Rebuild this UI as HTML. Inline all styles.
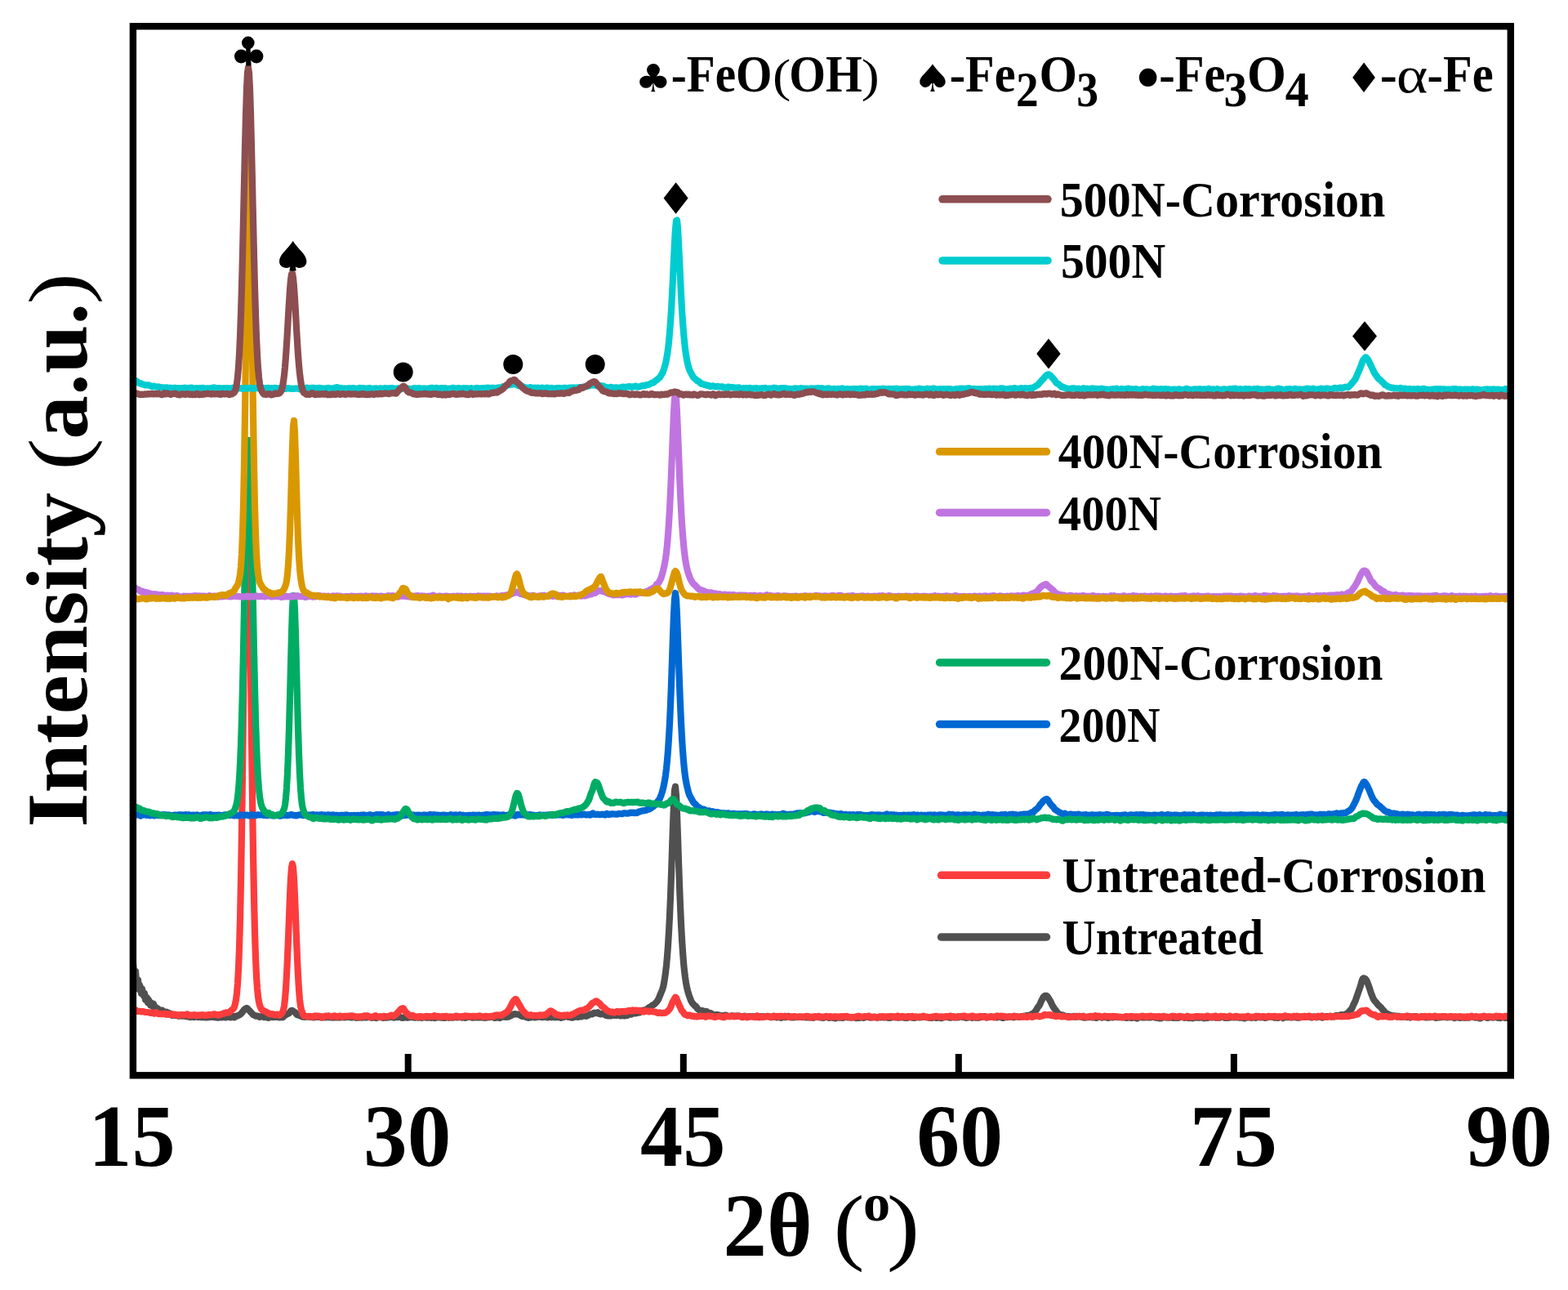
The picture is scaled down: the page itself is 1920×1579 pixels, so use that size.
<!DOCTYPE html>
<html><head><meta charset="utf-8"><title>XRD patterns</title>
<style>
html,body{margin:0;padding:0;background:#fff;width:1920px;height:1579px;overflow:hidden}
svg{display:block}
.tr path{fill:none;stroke-width:8.2;stroke-linejoin:round;stroke-linecap:round}
.lg line{stroke-width:9.5;stroke-linecap:round}
text{font-family:"Liberation Serif","Times New Roman",serif;font-weight:bold;fill:#000}
.sym{font-family:"DejaVu Sans",sans-serif;font-weight:normal}
</style></head><body>
<svg width="1920" height="1579" viewBox="0 0 1920 1579">
<rect width="1920" height="1579" fill="#fff"/>
<g class="tr"><path d="M163.0 1179.7l1 11 1 5.2 1-7 1 13.5 1-1.3 1-1.7 1 11.4 1-5.2 1 3.6 1 6.8 1-5.7 1 6.8 1 1.8 1-3.2 1 7.8 1-1.9 1-0.4 1 5.9 1-3.4 1 3 1 3.4 1-2.8 1 3.9 1-0.9 1-1.6 1 5 1-1.2 1 0.6 1 3.5 1-2.1 1 1.3 1 1.5 1-1 1 2.6 1-0.7 1-1.3 1 2.2 1-0.8 1 0.6 1 1.2 1-1.3 1 1.5 1 0.5 1-0.8 1 1.8 1-0.4 1-0.3 1 1.7 1-0.6 1 0.1 1 0.5 1-0.6 1 0.9 1 0.1 1-0.6 1 1.1 1-0.5 1-0.5 1 0.9 1-0.2 1 0.3 1-0.1 1-0.5 1 0.9 1 0.1 1 0 1 0.4 1-0.7 1 0.5 1 0.8 1-0.8 1 0.1 1 0.5 1-0.1 1 0.3 1-0.6 1-0.5 1 0.6 1 0.1 1 0.4 1-0.2 1-0.8 1 0.3 1 0.8 1 0 1-0.2 1 0 1 0.2 1 0.3 1 0 1-0.2 1-0.2 1 0 1 0 1-0.6 1 0.1 1 0.3 1-0.2 1 0.2 1 0.3 1 0.1 1 0.1 1 0.2 1 0.1 1-0.3 1-0.7 1 0 1 0.8 1-0.2 1-0.4 1 0.1 1 0.2 1 0.2 1-0.1 1-0.4 1 0 1 0 1-0.1 1 0.5 1 0 1-1.2 1-0.3 1 1.1 1 0.5 1-1.1 1-0.6 1 0.1 1-0.5 1-0.5 1-0.4 1-0.5 1-1 1-1 1-1.3 1-1.4 1-1.2 1-1 1-0.7 1-0.5 1 0.5 1 1.4 1 0.9 1 1 1 1.3 1 0.9 1 1 1 1.2 1 0.5 1 0.4 1 0.7 1 0.1 1-0.1 1 0.2 1 0.7 1 0.4 1-0.3 1-0.3 1-0.2 1 0.6 1 0.5 1-0.3 1-0.1 1 0.3 1 0.3 1 0.3 1 0.2 1-0.5 1-0.5 1 0 1 0.1 1 0.1 1 0 1-0.3 1-0.2 1 0.3 1-0.2 1-0.2 1 0.6 1 0.4 1-0.3 1-0.6 1 0.1 1 0.6 1-0.6 1-1.4 1-0.5 1-0.4 1-0.8 1-0.5 1-0.5 1-0.4 1-1.3 1-1.6 1-0.5 1 0.2 1 0.7 1 0.7 1 0.5 1 0.8 1 1.7 1 0.8 1 0 1 0.4 1 0.6 1 0.2 1 0.6 1 0.6 1-0.1 1 0 1 0.3 1-0.1 1 0 1 0 1 0 1-0.1 1 0.1 1 0.2 1 0.1 1 0.1 1 0.1 1 0.2 1-0.2 1-0.2 1-0.1 1-0.2 1 0.1 1 0.2 1-0.1 1 0 1 0.5 1 0.1 1-0.6 1-0.3 1 0.6 1 0.1 1-0.3 1 0.2 1-0.2 1-0.1 1 0.3 1 0.1 1-0.2 1 0.1 1 0.4 1-0.4 1-0.4 1 0.5 1 0.1 1 0 1-0.1 1 0 1 0 1 0 1 0.1 1-0.2 1-0.2 1 0.3 1 0.2 1-0.3 1 0 1 0 1-0.5 1 0 1 0.3 1-0.1 1 0.3 1 0.3 1 0 1-0.4 1 0 1-0.1 1 0.1 1 0.8 1-0.3 1-0.4 1 0.4 1-0.4 1-0.3 1 0.6 1 0.2 1-0.4 1 0 1 0.1 1-0.2 1 0.2 1 0 1-0.4 1-0.2 1 0.1 1 0.3 1 0.4 1 0.2 1-0.1 1-0.1 1-0.2 1-0.1 1 0.5 1 0.3 1-0.6 1-0.4 1 0.1 1-0.1 1 0 1 0.2 1 0.3 1 0.3 1-0.2 1 0 1 0 1 0 1 0 1-0.4 1-0.4 1 0.2 1 0 1-0.2 1 0 1 0.2 1 0.5 1-0.1 1-0.5 1-0.1 1 0.2 1 0 1-0.3 1 0.1 1 0.2 1 0.2 1 0.5 1 0.2 1-0.3 1-0.4 1-0.2 1 0.3 1 0.2 1 0.2 1-0.2 1-0.7 1 0 1 0.3 1 0 1-0.3 1 0.1 1 0.5 1 0.2 1-0.3 1-0.4 1 0.2 1 0.4 1-0.4 1-0.3 1 0.6 1 0.3 1-0.1 1-0.1 1-0.2 1-0.1 1 0 1 0.1 1 0.3 1 0 1-0.4 1-0.1 1 0.4 1 0.3 1-0.3 1-0.4 1 0.3 1 0.6 1-0.1 1-0.9 1 0 1 0.4 1-0.6 1-0.1 1 0.7 1 0.2 1-0.3 1 0.1 1 0.3 1 0.1 1-0.1 1-0.3 1-0.3 1-0.1 1 0.4 1 0.3 1-0.2 1-0.3 1 0.3 1 0.1 1-0.3 1-0.2 1-0.3 1-0.1 1 0.4 1 0.1 1-0.1 1 0 1-0.3 1-0.1 1 0.6 1 0.3 1-0.5 1 0.2 1 0.4 1 0 1-0.2 1-0.8 1-0.3 1 0.5 1 0 1-0.2 1 0.2 1 0.6 1 0.1 1-0.3 1 0.1 1 0 1-0.2 1 0 1 0 1 0.2 1-0.1 1 0 1 0.1 1-0.2 1 0 1 0.4 1 0.1 1-0.2 1 0.2 1-0.2 1-0.5 1 0 1 0.2 1-0.2 1-0.5 1-0.1 1 0.2 1 0.3 1 0.7 1 0.3 1-0.3 1-0.4 1-0.3 1 0.2 1 0.6 1 0.3 1-0.5 1-0.6 1-0.2 1-0.3 1-0.1 1 0.1 1 0.4 1 0.1 1-0.3 1 0 1-0.2 1-0.6 1-0.3 1-0.6 1-0.8 1-0.4 1-0.3 1-0.3 1 0 1 0.2 1 0.1 1 0.1 1 0.1 1 0.3 1 0.8 1 0.7 1 0.3 1 0.3 1 0.1 1-0.1 1 0.2 1 0.6 1 0.3 1 0.3 1 0.3 1-0.3 1 0 1 0 1-0.5 1-0.5 1 0 1 0.5 1 0.5 1-0.2 1-0.2 1-0.1 1-0.2 1-0.4 1 0.3 1 0.1 1 0.1 1 0.4 1-0.6 1-0.5 1 0.4 1 0.5 1-0.1 1 0.2 1 0.2 1-0.4 1-0.5 1 0.4 1 0.4 1-0.6 1-0.3 1 0.5 1 0.4 1 0 1-0.2 1-0.2 1 0.3 1-0.2 1-0.3 1 0.9 1 0.3 1-0.9 1 0 1 0.1 1-0.8 1-0.6 1 0.2 1 0.4 1 0.3 1 0.4 1-0.2 1-0.3 1 0.6 1 0.6 1-0.1 1-0.4 1-0.2 1-0.2 1-0.2 1 0 1 0.2 1 0.1 1-0.3 1-0.5 1 0.2 1 0.1 1-0.6 1-0.4 1-0.3 1 0 1 0.6 1 0.2 1-0.5 1-0.6 1-0.5 1-0.5 1-0.4 1 0.1 1-0.1 1-0.6 1-0.8 1-0.3 1 0.2 1 0.3 1-0.6 1-0.4 1 0.9 1 1 1 0.2 1 0 1-0.3 1-0.5 1 0.2 1 0.7 1 0.8 1 0.7 1 0.2 1 0.1 1 0.2 1-0.2 1 0 1 0.2 1-0.6 1-0.6 1 0.5 1 0.1 1-0.5 1 0.4 1 0.3 1-0.4 1-0.1 1 0.2 1 0.4 1 0.4 1-0.4 1-0.8 1 0.1 1 0.8 1 0.3 1-0.5 1-0.1 1 0 1-0.6 1-0.8 1-0.4 1 0.4 1 0.2 1-0.7 1-0.6 1-0.2 1 0.1 1 0.1 1-0.4 1-0.1 1-0.2 1-0.2 1-0.1 1-0.6 1-1 1-0.7 1-0.3 1-0.1 1 0.1 1 0.3 1-0.6 1-1.4 1-0.5 1-0.4 1-1.2 1-0.5 1-0.2 1-1 1-0.9 1-0.4 1-0.6 1-0.9 1-1 1-1.1 1-1.3 1-1.5 1-2.2 1-2.6 1-2.4 1-2.5 1-2.4 1-3.2 1-4.7 1-6.2 1-7.2 1-8.5 1-10.8 1-13.5 1-16.6 1-19.4 1-23.4 1-27.6 1-29.8 1-29.7 1-26 1-17.6 1-4.5 1 11 1 22.5 1 28.3 1 30.2 1 28.3 1 25.5 1 22.6 1 18.6 1 15.3 1 13 1 10.2 1 8 1 6.6 1 5.3 1 4.3 1 3.6 1 3 1 2.7 1 2.7 1 2.1 1 1.5 1 0.9 1 1.3 1 1 1 0.3 1 1.3 1 1.7 1 1 1 0.6 1 0.4 1 0.4 1 0.1 1-0.1 1 0.4 1 0.7 1 0.6 1-0.2 1-0.5 1 0.6 1 1.2 1 0.6 1 0 1-0.3 1 0.4 1 1 1 0.3 1 0.5 1 0.4 1-0.5 1-0.2 1 0 1 0 1 0.4 1 0.3 1 0.3 1 0.5 1 0.1 1-0.3 1-0.1 1-0.3 1-0.3 1 0.1 1 0.4 1 0.6 1 0.5 1-0.1 1-0.2 1-0.3 1-0.3 1 0 1 0.5 1 0 1-0.2 1 0 1-0.2 1 0.1 1 0.2 1-0.1 1 0.2 1 0.6 1 0.4 1-0.1 1-0.4 1-0.5 1-0.1 1 0.2 1 0.6 1 0.4 1-0.3 1-0.4 1 0 1 0 1-0.2 1 0.3 1 0.2 1-0.2 1 0 1 0.1 1-0.2 1 0.1 1 0.5 1 0.4 1-0.1 1-0.8 1-0.2 1 0.8 1 0.2 1-0.7 1-0.3 1 0.1 1-0.1 1-0.1 1-0.1 1 0.1 1 0 1 0.6 1 0.7 1-0.2 1-0.1 1-0.4 1-0.4 1 0.2 1 0.6 1 0.3 1 0 1-0.6 1-0.1 1 0.6 1 0.6 1-0.1 1-0.9 1-0.7 1 0.3 1 0.7 1 0 1-0.4 1-0.3 1-0.6 1 0.3 1 1 1 0.2 1-0.3 1-0.2 1 0.6 1 0.1 1-0.6 1-0.1 1 0.2 1 0.1 1 0 1-0.2 1-0.2 1 0.1 1 0 1 0.1 1 0.3 1 0 1-0.2 1 0.1 1 0.3 1-0.2 1-0.1 1 0.3 1 0 1-0.2 1-0.2 1-0.2 1 0.5 1 0.5 1-0.5 1-0.5 1 0 1 0.1 1 0 1 0.1 1 0 1 0.4 1 0.1 1 0.1 1 0.2 1 0.2 1-0.4 1-0.7 1-0.3 1-0.2 1 0.4 1 0.7 1 0.4 1-0.1 1-0.4 1-0.1 1 0.2 1 0.5 1-0.1 1 0.1 1 0.5 1-0.7 1-0.6 1 0.3 1 0.2 1-0.2 1-0.1 1 0.3 1 0.1 1 0.2 1-0.2 1-0.9 1-0.4 1 0.3 1 0.4 1 0.2 1-0.2 1-0.1 1 0.4 1 0.1 1-0.6 1 0 1 0.3 1-0.1 1 0.3 1 0.6 1 0.1 1-0.5 1-0.1 1 0.4 1-0.3 1-0.6 1-0.1 1 0.4 1 0.6 1-0.2 1-0.8 1-0.3 1 0.3 1-0.1 1-0.1 1 0.4 1 0.1 1 0.3 1-0.1 1-0.6 1-0.2 1 0 1 0.5 1 0.2 1-0.1 1 0.4 1-0.4 1-0.5 1 0.4 1 0.1 1-0.3 1-0.2 1 0.2 1 0.5 1 0 1-0.1 1 0 1-0.4 1 0.3 1 0.6 1-0.1 1 0 1-0.3 1-0.4 1 0 1 0.1 1-0.1 1-0.3 1-0.2 1 0.1 1 0.5 1 0.4 1-0.3 1-0.3 1 0.3 1-0.1 1-0.4 1 0.5 1 0.4 1 0.1 1 0 1 0.1 1-0.1 1-0.7 1-0.6 1 0.3 1 0.4 1 0.1 1 0.3 1 0.1 1 0.1 1 0 1-0.3 1-0.1 1-0.2 1-0.1 1 0.2 1 0.1 1-0.1 1-0.2 1-0.1 1 0 1 0 1 0 1 0 1 0.1 1-0.3 1 0.1 1 0.7 1 0.3 1-0.1 1 0.2 1 0 1-0.8 1-0.5 1 0.3 1 0.5 1 0.3 1 0.1 1-0.1 1-0.5 1-0.5 1 0.4 1 0.9 1 0.1 1-0.6 1-0.3 1-0.2 1 0 1-0.4 1-0.3 1 0.4 1 0.4 1 0.2 1 0.2 1 0.1 1-0.1 1-0.5 1-0.7 1 0.4 1 0.7 1-0.4 1 0 1 0.3 1-0.1 1-0.1 1-0.6 1-0.4 1 0 1 0.3 1 0.5 1 0.2 1 0 1 0.2 1 0.6 1-0.3 1-0.4 1 0.1 1-0.2 1-0.2 1 0.4 1 0.3 1 0.1 1-0.2 1-0.5 1 0.2 1 0.5 1-0.2 1-0.1 1 0.3 1-0.2 1-0.7 1-0.1 1 0.2 1-0.4 1-0.3 1 0 1-0.1 1 0.7 1 0.7 1-0.3 1-0.2 1 0.1 1-0.4 1-0.4 1 0.1 1 0.2 1 0.5 1-0.1 1-0.6 1 0.2 1 0.7 1 0 1-0.3 1-0.3 1 0.1 1-0.2 1 0.4 1 0.8 1 0.1 1-0.3 1-0.4 1-0.4 1 0 1 0.4 1-0.2 1-0.5 1-0.2 1 0.4 1 0.2 1-0.4 1 0.2 1 0.5 1-0.3 1-0.6 1-0.3 1 0.1 1 0.4 1 0.3 1-0.1 1 0 1-0.5 1-0.2 1 0.3 1-0.4 1-0.3 1 0.1 1-0.2 1-0.6 1 0 1 0 1-0.1 1-0.3 1-0.6 1-0.6 1-0.3 1-0.6 1-0.7 1-1 1-1.3 1-1.4 1-1.7 1-1.7 1-1.2 1-1.4 1-2.3 1-2.4 1-1.8 1-2 1-1.7 1-0.8 1-0.3 1 0 1 0.3 1 1.2 1 1.6 1 1.6 1 1.6 1 2 1 2.3 1 1.9 1 1.7 1 1.4 1 1.3 1 1.2 1 1.5 1 1.4 1 0.8 1 0.8 1 0.7 1 0.5 1-0.2 1 0 1 0.6 1 0.3 1 0 1 0.6 1 0.3 1 0 1-0.1 1 0.2 1 0.4 1 0.2 1-0.4 1-0.1 1 0 1-0.6 1 0.3 1 0.7 1-0.2 1-0.1 1-0.1 1-0.4 1-0.1 1 0.4 1 0.5 1-0.1 1 0.3 1 0.5 1 0.2 1-0.3 1 0.1 1 0 1-0.7 1-0.1 1 0.4 1-0.3 1 0 1 0.7 1 0 1-0.5 1-0.1 1 0.4 1 0.7 1-0.1 1-0.8 1-0.4 1-0.3 1 0.1 1 0.7 1 0.5 1-0.2 1-0.6 1-0.1 1 0.2 1 0.2 1 0.1 1 0.4 1 0.3 1-0.4 1-0.9 1-0.3 1 0.5 1 0.6 1-0.3 1-0.2 1 0 1-0.4 1 0.1 1 0.5 1 0 1 0 1 0 1-0.2 1-0.1 1 0.2 1 0.4 1-0.3 1-0.3 1 0.2 1 0.7 1 0.1 1-0.6 1-0.1 1 0.3 1 0.2 1 0.2 1 0.1 1-0.3 1-0.5 1-0.1 1 0.4 1 0.5 1 0.6 1-0.4 1-0.9 1-0.3 1-0.3 1 0 1 0.7 1 0.1 1-0.1 1 0.2 1-0.5 1-0.2 1 0.5 1 0.1 1-0.2 1 0.1 1 0 1-0.1 1-0.3 1-0.6 1 0.3 1 0.5 1 0.1 1 0.4 1 0.1 1-0.3 1 0.3 1 0.5 1 0 1 0.1 1 0 1-0.5 1-0.6 1-0.4 1 0 1 0.5 1 0.2 1 0 1-0.1 1 0 1 0.2 1-0.1 1-0.2 1 0 1 0.4 1 0.2 1-0.7 1 0.1 1 0.6 1-0.2 1-0.1 1 0.1 1-0.7 1-0.3 1 0.3 1-0.5 1-0.1 1 0.9 1 0.5 1-0.2 1-0.3 1-0.2 1 0.2 1 0.6 1 0.1 1-0.7 1-0.4 1 0.6 1 0.7 1-0.1 1-0.3 1-0.4 1-0.1 1 0.2 1 0.1 1-0.2 1 0.1 1 0.1 1-0.4 1-0.2 1 0.3 1 0.5 1 0.4 1-0.1 1-0.6 1-0.2 1 0.6 1-0.1 1-0.5 1-0.1 1 0 1 0.2 1 0 1-0.6 1-0.5 1 0.6 1 0.6 1 0 1-0.1 1 0.2 1 0 1 0 1-0.2 1-0.8 1-0.3 1 0 1-0.2 1 0.6 1 1.1 1 0.1 1-0.1 1 0.1 1-0.3 1-0.4 1 0 1 0.2 1-0.2 1-0.2 1 0.3 1 0.1 1-0.2 1-0.4 1 0.1 1 0.5 1 0 1-0.1 1 0.4 1-0.1 1-0.2 1 0.2 1 0.1 1 0.4 1 0.3 1-0.6 1-0.7 1 0 1 0.3 1-0.1 1-0.4 1 0.1 1 0.8 1-0.1 1-0.8 1 0.1 1 0.4 1 0.2 1 0.1 1-0.5 1-0.6 1-0.4 1 0.3 1 0.8 1 0 1-0.4 1-0.1 1 0 1 0.5 1 0.6 1-0.3 1-0.5 1 0.2 1-0.5 1-0.6 1 0.1 1 0.3 1 0.2 1-0.2 1-0.2 1 0.8 1 0.5 1-0.4 1-0.1 1 0.5 1 0.1 1-0.6 1-0.2 1-0.2 1-0.1 1 0.9 1 0.5 1-1 1-0.5 1 0.5 1-0.1 1-0.1 1 0.2 1 0 1 0 1 0.1 1 0.2 1 0 1-0.5 1-0.4 1 0.2 1 0.4 1 0.1 1 0.1 1 0.3 1 0.1 1-0.2 1-0.4 1-0.6 1-0.2 1 0.2 1 0.1 1 0.1 1-0.1 1-0.3 1-0.4 1 0.1 1 0.5 1-0.1 1-0.2 1 0.5 1 0.6 1-0.2 1-0.5 1-0.3 1 0.1 1 0.6 1 0.2 1-0.7 1-0.5 1 0.5 1-0.1 1-0.6 1 0.7 1 1 1-0.2 1-0.4 1 0 1-0.2 1-0.6 1-0.2 1 0.2 1 0 1-0.3 1-0.2 1 0.5 1 0.3 1-0.3 1 0.1 1 0 1-0.8 1-0.5 1 0 1 0 1 0 1 0 1-0.4 1-0.6 1 0.2 1 0.5 1-0.3 1-0.5 1-0.3 1-0.3 1-0.2 1-0.7 1-1.2 1-1.2 1-1.2 1-0.8 1-0.9 1-2.2 1-2.5 1-2 1-2 1-2.5 1-2.9 1-2.8 1-3 1-2.9 1-2.7 1-3.1 1-3.7 1-3.4 1-1.8 1-0.3 1 0.4 1 0.7 1 1.2 1 1.9 1 2.6 1 2.8 1 2.8 1 3.2 1 3 1 2.4 1 2.7 1 2.2 1 1.4 1 1.2 1 1.2 1 1.2 1 1.3 1 1.1 1 0.9 1 0.8 1 0.9 1 1.4 1 1.3 1 0.8 1 1.2 1 1.7 1 0.6 1 0.2 1 0.5 1 0.6 1 0.7 1 0.1 1 0.4 1 0.4 1 0.1 1 0.2 1-0.1 1 0.1 1 0.2 1 0.1 1 0.2 1-0.1 1 0 1 0.5 1 0.5 1 0.2 1-0.3 1-0.4 1 0.5 1 0.2 1-0.3 1 0.3 1 0.1 1-0.7 1-0.4 1 0.8 1 0.8 1-0.5 1-0.8 1 0 1 0 1 0.2 1-0.2 1-0.3 1 0.8 1 0.6 1-0.4 1 0 1 0 1-0.5 1-0.4 1 0.2 1 0.5 1 0.3 1 0.1 1 0.2 1 0.1 1-0.3 1-0.4 1 0.3 1 0.2 1-0.4 1-0.1 1 0.1 1-0.1 1-0.3 1 0.4 1 1.1 1-0.2 1-0.7 1 0.1 1 0.2 1-0.1 1-0.1 1-0.2 1 0 1 0 1-0.4 1-0.3 1 0.6 1 0.5 1-0.1 1-0.3 1 0.2 1-0.1 1-0.8 1 0 1 0.6 1 0.3 1 0.6 1 0.3 1-0.8 1-0.4 1 0.4 1 0 1-0.1 1 0.5 1 0.3 1-0.4 1-0.2 1 0.3 1-0.1 1-0.2 1 0.4 1-0.1 1-0.4 1 0 1 0.3 1 0.1 1-0.7 1-0.5 1 0.2 1 0 1 0.1 1 0.4 1 0.3 1 0.1 1-0.3 1-0.1 1 0.3 1 0.7 1 0.3 1-0.3 1-0.3 1-0.7 1-0.7 1-0.1 1 0 1 0.3 1 0.6 1 0.6 1 0 1-0.3 1-0.4 1-0.1 1 0.2 1 0.2 1 0.1 1-0.1 1-0.4 1-0.6 1 0 1 0.7 1 0.6 1-0.1 1 0.1 1 0.3 1-0.4 1-0.4 1-0.2 1-0.1 1 0.5 1 0.5 1-0.1 1 0 1 0.2 1 0 1-0.5 1-0.2" stroke="#505050"/>
<path d="M163.0 1236.3l1 0 1-0.2 1 0.2 1 1.2 1 0.4 1-0.2 1 0.2 1 0 1 0.1 1 0.3 1-0.1 1-0.1 1 0.2 1 0.4 1 0.2 1 0.1 1 0 1 0 1 0.2 1 0.4 1 0.2 1 0.1 1-0.1 1-0.1 1 0.7 1 0.3 1-1 1-0.6 1 0.6 1 0.8 1 0.4 1 0.3 1 0 1-0.1 1-0.1 1 0.1 1 0 1-0.3 1 0.1 1 0.7 1 0.3 1-0.7 1-0.4 1 0.5 1 0.5 1 0.1 1-0.1 1-0.3 1 0.5 1 0.2 1-0.6 1 0.4 1 0.4 1 0 1 0.4 1 0.4 1-0.6 1-0.6 1 0 1 0.3 1 0 1-0.1 1 0.2 1 0 1-0.5 1-0.6 1 0.2 1 1 1 0.5 1 0 1-0.3 1-0.3 1 0.2 1-0.2 1-0.4 1 0.4 1 0.7 1 0 1-0.3 1-0.3 1 0 1 0.3 1-0.2 1-0.3 1-0.1 1 0.1 1 0.4 1 0.1 1-0.1 1 0 1-0.2 1-0.3 1-0.1 1 0 1 0.1 1-0.2 1-0.2 1-0.1 1-0.3 1-0.1 1 0.4 1 0.4 1 0.2 1 0.2 1 0.1 1-0.7 1-0.4 1 0.1 1-0.5 1-0.3 1-0.3 1-0.5 1-0.3 1 0.1 1-0.3 1-0.4 1 0.2 1-0.4 1-1.1 1-0.9 1-0.7 1-0.8 1-1.1 1-2 1-3.6 1-5 1-7.8 1-11.9 1-17.6 1-25.5 1-35.5 1-47.6 1-60.1 1-70.6 1-77.9 1-80.1 1-75.2 1-61.5 1-38.6 1-9.3 1 21.6 1 48.5 1 67.5 1 78 1 80.5 1 76 1 66.8 1 55 1 42.5 1 31.4 1 22.4 1 15.1 1 9.9 1 6.6 1 4.1 1 2.8 1 2 1 1.2 1 0.4 1 0.2 1 0.7 1 0.5 1 0.4 1 0.9 1 0.5 1 0.3 1 0.7 1 0.3 1-0.2 1-0.1 1 0.5 1 0.2 1 0 1 0.6 1-0.2 1-0.5 1 0.2 1 0.3 1 0.6 1-0.2 1-1.1 1-1 1-1.4 1-2.8 1-4.9 1-8.5 1-12.4 1-16.8 1-21.2 1-24 1-25.8 1-25.7 1-21.4 1-13.6 1-4.6 1 4.4 1 14 1 21.4 1 25.1 1 26.4 1 24.8 1 21 1 16.6 1 12.4 1 8 1 4.5 1 3.1 1 2.7 1 1.6 1 0.4 1 0 1 0.2 1 0.2 1 0.1 1-0.3 1-0.1 1 0.6 1 0 1-0.2 1 0.5 1-0.1 1-1 1-0.2 1 0.6 1 0.2 1-0.6 1-0.1 1 0.5 1 0 1 0.3 1 1.1 1 0.1 1-0.8 1-0.5 1-0.3 1-0.4 1 0.1 1 0.1 1-0.4 1 0.2 1 0.6 1 0.2 1 0.1 1 0 1-0.6 1-0.5 1 0 1 0.6 1 0.5 1 0 1-0.2 1-0.4 1-0.1 1-0.1 1 0.4 1 0.8 1-0.1 1-0.7 1-0.2 1 0 1 0 1 0.1 1-0.1 1-0.1 1 0 1 0 1-0.3 1-0.1 1 0.2 1 0.3 1 0.2 1 0.5 1 0.4 1-0.1 1-0.4 1 0 1 0 1 0.3 1-0.2 1-0.5 1 0.4 1-0.2 1-0.9 1 0.1 1 0.2 1-0.3 1 0.1 1 0.4 1 0.5 1 0.6 1 0.3 1-0.4 1-0.2 1-0.1 1-0.4 1-0.6 1-0.3 1 0.6 1 0.8 1 0.4 1-0.2 1-0.5 1-0.1 1 0.6 1 0 1-0.6 1-0.4 1 0.2 1 0.5 1-0.1 1-0.3 1 0.1 1-0.1 1-0.5 1-0.5 1-0.4 1 0.1 1 0.9 1 0 1-1.1 1-0.4 1-0.5 1-1.1 1-1.1 1-1 1-1.1 1-1.3 1-1.1 1-0.4 1-0.5 1 0.3 1 1.5 1 1.8 1 1.3 1 0.9 1 0.8 1 1.1 1 0.9 1 0.7 1 0.5 1-0.4 1-0.6 1 0.3 1 0.7 1 0.4 1 0.1 1 0.2 1 0.3 1-0.2 1-0.5 1 0.1 1 0 1-0.1 1 0.5 1 0.3 1-0.3 1-0.3 1-0.3 1-0.2 1 0.1 1 0.1 1 0 1 0 1 0.4 1 0 1-0.3 1-0.2 1-0.6 1-0.2 1 0.7 1 0.4 1-0.1 1-0.4 1 0.2 1 0.5 1 0.2 1-0.1 1-0.3 1-0.3 1 0 1 0.2 1 0.1 1-0.4 1 0 1 0.8 1 0.4 1-0.3 1-0.4 1 0 1 0.3 1 0.3 1 0.1 1-0.6 1-0.6 1-0.2 1-0.1 1 0.3 1 0.7 1 0 1-0.3 1 0.4 1-0.2 1-0.5 1 0.2 1 0 1-0.6 1-0.2 1 0.6 1-0.1 1-0.4 1 0.6 1 0.4 1-0.3 1-0.1 1-0.1 1-0.2 1 0.4 1 0.1 1-0.4 1 0.1 1 0.1 1-0.2 1-0.3 1-0.2 1 0.2 1 0.4 1 0 1 0.4 1 0.5 1-0.5 1-0.5 1 0 1 0.1 1 0.3 1-0.1 1 0.3 1-0.2 1-0.4 1 0 1 0.3 1 0.3 1-0.7 1-0.9 1-0.4 1 0.1 1 0.2 1-0.2 1-0.1 1 0.1 1 0.4 1-0.1 1-0.9 1-0.5 1-0.5 1-0.8 1-0.6 1-0.4 1-0.6 1-1.3 1-1.6 1-1.3 1-1.9 1-2.1 1-2 1-2 1-1.3 1-1.1 1-0.9 1 0.2 1 1.5 1 1.9 1 1.9 1 1.4 1 1.6 1 1.9 1 1.8 1 1.6 1 1 1 1.1 1 1.1 1 0.9 1 0.8 1 0.6 1 0.3 1-0.1 1-0.2 1-0.2 1 0.2 1 0.5 1 0.3 1-0.2 1-0.1 1 0.2 1-0.1 1-0.1 1 0.3 1-0.2 1-0.7 1 0.2 1 0.5 1-0.2 1-0.4 1 0.1 1 0 1-0.5 1-0.5 1-0.7 1-1.1 1-0.8 1-0.8 1-0.7 1 0.1 1 0.8 1 0.5 1 0.4 1 1 1 1.5 1 0.5 1-0.1 1-0.1 1 0.2 1 0.6 1 0.2 1-0.1 1 0.5 1 0 1-0.6 1-0.2 1 0.2 1 0 1-0.3 1-0.2 1 0.5 1 0.1 1-0.1 1-0.3 1-0.7 1-0.3 1-0.1 1-0.5 1-0.8 1-0.6 1-0.4 1-0.6 1-0.7 1-0.5 1-0.1 1-0.3 1-0.3 1 0 1 0.2 1 0 1-0.9 1-1 1-0.3 1-0.4 1-0.6 1-1 1-1 1-1 1-1.2 1-1.3 1-0.7 1-0.3 1-0.5 1-0.8 1-0.4 1 0.4 1 0.8 1 0.9 1 0.6 1 1 1 1.5 1 1.1 1 0.6 1 0.7 1 0.7 1 0.9 1 1 1 0.8 1 0.7 1 0.5 1 0.6 1 0.5 1 0.1 1-0.3 1 0.1 1 0.8 1 0.2 1-0.4 1-0.4 1-0.6 1-0.3 1 0.7 1 0.3 1-0.6 1-0.1 1 0.2 1-0.5 1 0.1 1 0.2 1-0.3 1 0.3 1 0.2 1-0.8 1-0.5 1 0 1-0.3 1 0.1 1 0.6 1-0.3 1-0.8 1 0.2 1 0.5 1-0.1 1-0.5 1 0.2 1 0.4 1 0.2 1-0.4 1-0.1 1 0.7 1 0.4 1 0.5 1 0.2 1-0.9 1-0.5 1 0.5 1 0 1-0.2 1 0.3 1 0.6 1-0.3 1-0.4 1 0.1 1 0.3 1 0.4 1 0 1 0.1 1 0.4 1 0.2 1 0.5 1 0.3 1-0.4 1-0.2 1 0.5 1 0.2 1-0.1 1-0.1 1-0.1 1 0.1 1-0.3 1-0.8 1-0.7 1-0.7 1-1.2 1-1.3 1-1.6 1-2.5 1-2.8 1-2.2 1-1.6 1-1.9 1-1.6 1 0.7 1 2.5 1 2.4 1 2.3 1 2.4 1 2 1 2.4 1 1.9 1 0.9 1 1.3 1 1.7 1 0.7 1 0.1 1 0.6 1 0.6 1-0.4 1-0.3 1 0.3 1 0.6 1 0.4 1-0.2 1 0.1 1 0.6 1-0.3 1 0 1 0.3 1 0 1-0.1 1 0 1-0.4 1-0.3 1 0.2 1 0.2 1 0.1 1 0 1 0.2 1 0.6 1-0.2 1-0.9 1 0 1-0.2 1-0.2 1 0.5 1 0.2 1-0.1 1 0.3 1 0.6 1 0.2 1-0.3 1-0.1 1-0.2 1-0.2 1-0.1 1 0 1 0.1 1 0.3 1 0.2 1 0.1 1 0.5 1-0.2 1-1 1-0.2 1 0.2 1-0.2 1-0.1 1 0.3 1 0.1 1-0.1 1 0 1-0.4 1-0.1 1 0.7 1 0 1-0.2 1 0.1 1-0.4 1-0.1 1 0.3 1-0.1 1 0.2 1 0.5 1 0.5 1 0 1-0.6 1-0.4 1 0.2 1 0.7 1 0.3 1-0.5 1-0.3 1 0.1 1-0.2 1-0.2 1 0.2 1 0.2 1 0.2 1 0.2 1 0.1 1-0.7 1-1 1 0.1 1 0.7 1 0.6 1 0.4 1-0.4 1-0.3 1 0.4 1 0 1-0.3 1-0.2 1-0.4 1 0.1 1 0.4 1-0.2 1 0.3 1 0.4 1 0 1 0 1-0.6 1-0.8 1 0 1 0.6 1 0.3 1-0.4 1-0.2 1 0.5 1 0.2 1-0.7 1-0.1 1 0.3 1-0.2 1 0.2 1 0 1-0.4 1 0.2 1 0.2 1 0.3 1 0.5 1 0.1 1-0.3 1-0.3 1-0.1 1 0.2 1 0 1-0.4 1 0.2 1 0.1 1 0 1 0.3 1 0.2 1-0.3 1-0.2 1 0.1 1 0 1-0.1 1 0.2 1 0.2 1-0.1 1-0.4 1-0.3 1-0.1 1 0 1 0.3 1 0.3 1 0.8 1 0.4 1-0.6 1-0.2 1-0.2 1-0.5 1 0 1 0.6 1 0.3 1-0.5 1-0.8 1 0 1 0.6 1 0.6 1-0.1 1-0.1 1 0.1 1-0.3 1-0.2 1-0.3 1-0.2 1 0.5 1 0.5 1-0.2 1-0.6 1 0 1 0.6 1 0.3 1-0.1 1-0.5 1-0.1 1 0 1 0.1 1 0 1 0.4 1 0.3 1-0.5 1-0.5 1 0.5 1 0 1-0.6 1 0 1 0.4 1 0.2 1-0.5 1-0.2 1 0.4 1 0.7 1 0.1 1-0.2 1 0.5 1 0.2 1-0.4 1-0.1 1-0.1 1-0.3 1-0.3 1-0.2 1-0.3 1-0.2 1 0.3 1 0.3 1 0.5 1 0.2 1-0.4 1-0.1 1-0.2 1-0.3 1 0.3 1 0.2 1-0.2 1-0.6 1-0.2 1 0.6 1 0.7 1 0.4 1 0.2 1-0.2 1-0.1 1-0.2 1-0.2 1 0.1 1 0.6 1 0.2 1-0.8 1-0.5 1 0.3 1-0.2 1-0.1 1-0.1 1 0.1 1 0.6 1-0.1 1-0.4 1-0.1 1 0.1 1 0.2 1-0.3 1-0.3 1 0 1 0.3 1 0 1-0.1 1 0.2 1 0.6 1 0.5 1-0.8 1-1.2 1 0.2 1 0.6 1 0.5 1 0.4 1-0.6 1-0.7 1 0.3 1 0.4 1 0.3 1-0.1 1-0.3 1-0.1 1-0.3 1 0.2 1 0.7 1 0.2 1-0.9 1-0.4 1 0.4 1 0.3 1 0.2 1-0.4 1-0.1 1 0.5 1 0.1 1-0.3 1-0.2 1 0.3 1 0 1-0.2 1-0.5 1-0.3 1 0.4 1 0.7 1 0.3 1-0.1 1-0.1 1 0.5 1 0.1 1-0.5 1-0.2 1-0.1 1-0.2 1 0 1 0.1 1-0.6 1-0.2 1 0.2 1 0.2 1 0.5 1 0.1 1-0.3 1 0 1-0.1 1 0 1 0.4 1 0.3 1-0.5 1-0.6 1 0.2 1 0.2 1-0.4 1 0 1-0.2 1-0.3 1 0.6 1 0.7 1-0.2 1-0.3 1 0.4 1 0.4 1 0 1-0.6 1-0.3 1 0.2 1 0.1 1 0 1-0.2 1-0.4 1-0.2 1 0.1 1-0.1 1 0.1 1 0.4 1 0.5 1 0 1-0.4 1 0.2 1 0.3 1-0.5 1-0.8 1 0.1 1 0.9 1 0.5 1-0.5 1-0.1 1 0.6 1 0.1 1-0.5 1-0.6 1-0.1 1 0.2 1 0 1 0.4 1 0.4 1 0 1 0.1 1-0.3 1 0 1 0.2 1-0.3 1 0 1 0.3 1-0.1 1-0.4 1 0 1 0.5 1 0.4 1-0.4 1-0.7 1-0.4 1-0.3 1 0.1 1 0.6 1 0.1 1-0.5 1-0.1 1 0.3 1 0 1-0.1 1 0.4 1 0.2 1 0.1 1 0 1 0 1 0 1-0.2 1 0.2 1 0.1 1-0.2 1-0.2 1-0.5 1-0.2 1 0.4 1 0.2 1 0.3 1 0.1 1 0.1 1 0 1-0.1 1-0.2 1-0.2 1 0.3 1 0.2 1-0.6 1 0.1 1 0.6 1 0.2 1 0 1-0.4 1-0.6 1-0.2 1 0.2 1 0.7 1 0.2 1-0.4 1-0.2 1-0.4 1-0.4 1 0 1-0.1 1 0.2 1 0.4 1 0.3 1-0.1 1-0.5 1-0.2 1 0 1-0.7 1-1 1 0.3 1 0.4 1-0.2 1 0.2 1 0 1-0.5 1 0.3 1 0.6 1-0.1 1-0.1 1 0.4 1 0.4 1 0.4 1 0.1 1-0.2 1 0 1-0.1 1-0.2 1 0 1 0.5 1 0.5 1 0 1-0.3 1-0.2 1 0.2 1 0 1 0.1 1 0.5 1 0.3 1 0.2 1-0.2 1-0.6 1 0.1 1 0.1 1 0 1-0.1 1-0.4 1-0.2 1-0.1 1-0.1 1 0.3 1 0.4 1 0 1-0.1 1 0 1-0.2 1-0.5 1 0.1 1 0.5 1 0.4 1 0.2 1-0.1 1-0.1 1-0.2 1-0.3 1-0.3 1 0 1 1 1 0.2 1-0.8 1-0.7 1-0.4 1 0.3 1 0.6 1 0 1-0.4 1 0.1 1 0.3 1 0.4 1 0.2 1-0.3 1 0 1-0.4 1-0.3 1 0.4 1 0.4 1-0.2 1-0.3 1 0.2 1 0.1 1 0.3 1 0 1-0.8 1 0 1 0.5 1-0.3 1 0 1 0.4 1 0.2 1 0.1 1-0.1 1 0 1 0.5 1 0.2 1-0.3 1 0.1 1 0 1-0.4 1-0.3 1-0.4 1 0.1 1 0.3 1 0.2 1 0 1-0.5 1-0.2 1 0.2 1 0.3 1 0.2 1-0.3 1 0.1 1-0.1 1 0 1 0.3 1 0 1 0 1-0.1 1-0.2 1-0.4 1-0.3 1 0.3 1 0.5 1-0.2 1-0.1 1 0.5 1-0.1 1-0.6 1 0 1 0.2 1-0.4 1 0.1 1 0.4 1 0.1 1 0.1 1 0 1-0.3 1 0.4 1 0.3 1-0.6 1-0.2 1 0.3 1 0.1 1 0.3 1 0.1 1-0.6 1-0.4 1 0.8 1 0.3 1-0.3 1 0.2 1 0.1 1 0.2 1 0.1 1-0.6 1-0.5 1-0.1 1-0.2 1 0 1 0.1 1 0.3 1 0.7 1-0.1 1-0.3 1-0.1 1-0.5 1 0 1 0.6 1 0.4 1 0.1 1-0.1 1 0.2 1 0.1 1-0.3 1-0.8 1-0.5 1 0.5 1 0.6 1 0.1 1 0.1 1 0 1 0 1-0.2 1-0.2 1 0 1-0.2 1-0.3 1 0 1 0.1 1 0.1 1 0.2 1-0.1 1 0 1 0 1 0 1 0.4 1 0.1 1-0.1 1-0.5 1-0.6 1 0.1 1 0.7 1 0.5 1-0.2 1-0.4 1 0.2 1 0.7 1-0.4 1-0.9 1-0.3 1 0.2 1 1.1 1 0.8 1-0.4 1-0.7 1-0.6 1-0.1 1 0.4 1-0.1 1-0.1 1 0 1 0.3 1 0.6 1 0.2 1-0.4 1-0.5 1-0.5 1-0.2 1 0.4 1 0.6 1 0.3 1 0 1-0.2 1-0.5 1-0.3 1 0 1 0.3 1 0.7 1-0.1 1-0.1 1 0.3 1-0.2 1-0.3 1 0.1 1-0.1 1 0 1 0.3 1 0 1-0.9 1-0.2 1 0.9 1 0.3 1-0.2 1 0.1 1 0.5 1-0.1 1-0.7 1-0.1 1-0.3 1-0.4 1 0.5 1 0.2 1-0.6 1 0.2 1 0.7 1 0 1-0.3 1-0.4 1 0 1 0.4 1 0.1 1 0.3 1 0.2 1-0.5 1-0.7 1 0 1 0.7 1 0.2 1-0.4 1-0.2 1 0.1 1-0.2 1-0.1 1 0.4 1 0.5 1-0.1 1-0.3 1-0.1 1-0.1 1 0.4 1 0.3 1-0.6 1-0.1 1 0.1 1-0.8 1-0.2 1 0.7 1 0.2 1-0.2 1 0.2 1 0.1 1 0.1 1 0.5 1 0.2 1-0.4 1-0.8 1-0.1 1 0.6 1-0.2 1-0.5 1 0.7 1 0.5 1-0.5 1-0.1 1 0.8 1 0 1-0.3 1-0.4 1-0.6 1 0.1 1 0.8 1 0.3 1-0.5 1-0.7 1-0.2 1 0.2 1 0.4 1 0.2 1 0.3 1 0.4 1-0.1 1-0.1 1 0.2 1-0.4 1-0.7 1-0.2 1 0.3 1 0.3 1 0.1 1-0.6 1-0.5 1 0.8 1 0.5 1-0.2 1-0.1 1 0.3 1 0.3 1-0.3 1-0.5 1-0.4 1 0.1 1 0.8 1 0.1 1-0.5 1 0.1 1 0 1-0.3 1 0.1 1 0 1-0.4 1 0 1 0.3 1 0 1 0 1 0.2 1-0.1 1-0.3 1 0 1 0.3 1 0 1-0.5 1 0 1 0.4 1-0.3 1-0.3 1 0 1-0.2 1-0.3 1-0.1 1-0.3 1-0.5 1-0.1 1-0.2 1-0.3 1-0.3 1-1 1-1.1 1-0.8 1-0.9 1-0.2 1 0.2 1-0.3 1-0.1 1-0.2 1-0.1 1 0.5 1 1 1 0.7 1 0.8 1 0.8 1 0.6 1 0.4 1 0.4 1 0.3 1-0.2 1 0.2 1 1.2 1 1 1 0.3 1 0.1 1-0.6 1-0.7 1 0.1 1 0.6 1 0.1 1-0.1 1 0 1-0.1 1 0.1 1 0 1 0.2 1 0.3 1 0 1 0.3 1-0.1 1-0.2 1 0.1 1-0.5 1-0.1 1 0 1-0.3 1 0.6 1 0.4 1-0.3 1-0.1 1 0 1 0 1 0.2 1-0.2 1-0.1 1 0.3 1 0.3 1-0.3 1-1 1-0.3 1 0.6 1 0.2 1-0.1 1 0.4 1 0.3 1 0.2 1-0.1 1-0.5 1 0.2 1 0.7 1-0.5 1-0.6 1 0.3 1 0.8 1 0.2 1-0.2 1-0.5 1-0.6 1 0.2 1 0.3 1-0.4 1-0.4 1 0.1 1 0.6 1 0.2 1-0.4 1-0.6 1 0.3 1 0.7 1-0.2 1-0.3 1 0.3 1-0.2 1-0.7 1 0.1 1 0.5 1 0.2 1 0 1-0.2 1 0 1 0.1 1-0.3 1-0.1 1 0.1 1 0.3 1-0.1 1-0.1 1 0.1 1 0.2 1 0.1 1-0.2 1-0.1 1 0 1-0.1 1 0.1 1 0.1 1 0.3 1-0.1 1-0.5 1 0.3 1 0.2 1-0.2 1 0 1 0 1-0.2 1 0.1 1 0.4 1 0.3 1-0.3 1 0 1 0.7 1 0.1 1-0.8 1-0.5 1 0.2 1 0.4 1 0 1-0.8 1-0.3 1 0.6 1 0.3 1 0 1-0.1 1-0.3 1 0 1 0.2 1 0.4 1 0.2 1-0.5 1-0.1 1 0.5 1 0 1-0.7 1-0.6 1 0.3 1 0.6 1 0.1 1-0.2 1 0 1-0.2 1 0.1 1 0.2 1 0 1 0.1 1 0.4 1-0.1 1-0.5 1-0.4 1-0.3 1 0.1 1 0.4 1-0.2 1-0.2 1 0.4 1 0 1 0.1 1 0.3 1 0.1 1-0.5 1-0.4 1 0.4 1-0.1 1-0.6 1 0.2 1 0.9 1 0.1" stroke="#FC3C3C"/>
<path d="M163.0 998.0l1-0.6 1 0 1 0.2 1-0.1 1-0.2 1-0.2 1 0.2 1 0.7 1 0.7 1-0.4 1-0.6 1-0.2 1-0.1 1-0.1 1 0.3 1 0.2 1 0.1 1 0.1 1-0.1 1 0.1 1 0.3 1-0.2 1-0.4 1 0 1 0.5 1 0.2 1-0.4 1-0.2 1 0.1 1-0.3 1 0.1 1 0.4 1 0 1-0.1 1-0.4 1-0.4 1 0.3 1-0.1 1-0.2 1 0.5 1 0.3 1-0.4 1-0.2 1 0.2 1 0.4 1 0.3 1-0.1 1-0.1 1 0 1-0.4 1-0.1 1 0.3 1 0.1 1-0.3 1-0.2 1-0.1 1-0.2 1 0.5 1 0.1 1-0.4 1 0 1 0.2 1 0 1-0.5 1 0.2 1 0.7 1-0.1 1-0.7 1 0.2 1 0.3 1 0.2 1 0.1 1-0.3 1-0.2 1 0.2 1 0.3 1-0.1 1-0.5 1 0.1 1 0.6 1 0.3 1-0.1 1 0 1-0.3 1-0.5 1-0.2 1 0.3 1 0.2 1-0.3 1-0.2 1 0.3 1 0.3 1-0.1 1-0.6 1-0.1 1 0.6 1 0.5 1 0 1-0.3 1-0.1 1 0 1 0.1 1 0 1-0.2 1 0 1 0.1 1 0.2 1 0.3 1 0.5 1 0 1-0.7 1-0.8 1 0 1 0.3 1-0.1 1-0.2 1 0.6 1 0.2 1-0.7 1-0.2 1 0.2 1 0.4 1 0.5 1 0.2 1-0.4 1-0.1 1 0.2 1 0.2 1 0.1 1-0.4 1-0.5 1-0.2 1 0.3 1 0.5 1-0.1 1-0.4 1 0 1 0 1-0.2 1 0 1 0.6 1 0.4 1-0.5 1-0.6 1-0.3 1 0.2 1 0.6 1 0.2 1-0.2 1 0 1 0 1-0.3 1-0.3 1 0.1 1 0.2 1-0.1 1-0.1 1 0 1 0.3 1 0.2 1-0.2 1 0.1 1 0.3 1 0.2 1-0.2 1-0.6 1 0.1 1 0.2 1 0.1 1 0.3 1 0.2 1-0.1 1-0.1 1 0 1-0.3 1-0.1 1 0.1 1 0.1 1 0.5 1 0.2 1-0.1 1-0.6 1-0.3 1 0.2 1 0 1-0.1 1 0 1 0.3 1 0 1-0.1 1-0.1 1-0.3 1-0.3 1-0.1 1 0.1 1 0.5 1 0.3 1 0 1 0.1 1 0.2 1-0.3 1-0.3 1-0.3 1-0.2 1 0.2 1-0.1 1 0.3 1 0.3 1 0.1 1-0.3 1-0.2 1 0.1 1-0.1 1 0 1 0.1 1 0 1-0.1 1-0.2 1-0.1 1-0.2 1 0.1 1 0.3 1 0.6 1-0.1 1-0.6 1 0.1 1 0.1 1-0.1 1 0.2 1-0.3 1-0.3 1 0.3 1 0.3 1-0.1 1-0.1 1 0.4 1 0 1-0.5 1 0 1 0.1 1 0.3 1 0.4 1-0.3 1-0.5 1 0 1 0.6 1 0.4 1-0.3 1-0.3 1 0.1 1 0.3 1 0.1 1-0.3 1-0.1 1 0.1 1-0.2 1 0 1 0.3 1-0.1 1-0.4 1-0.2 1 0.1 1 0.5 1 0.2 1 0.1 1 0 1-0.2 1-0.1 1 0.1 1-0.1 1-0.1 1 0.2 1 0.2 1-0.3 1-0.2 1 0.4 1 0.2 1-0.4 1-0.3 1 0.2 1-0.1 1-0.4 1 0.4 1 0.2 1-0.1 1 0.2 1-0.1 1-0.3 1-0.2 1-0.3 1 0.4 1 0.5 1-0.1 1 0.1 1 0 1-0.1 1-0.4 1-0.6 1 0.3 1 0.2 1-0.3 1 0 1 0.3 1-0.2 1-0.3 1 0.4 1 0.4 1 0.1 1 0.3 1 0.1 1-0.5 1-0.6 1 0 1 0.5 1 0.3 1 0 1-0.1 1-0.2 1 0 1-0.1 1-0.2 1-0.3 1-0.1 1 0.2 1 0 1 0.2 1 0.4 1 0.4 1 0.5 1-0.4 1-0.5 1 0.1 1-0.1 1-0.1 1 0.1 1-0.6 1-0.4 1 0.6 1 0.5 1 0.1 1-0.4 1-0.1 1 0.3 1-0.1 1 0.1 1 0.4 1-0.2 1-0.3 1 0.2 1 0 1-0.2 1 0.2 1 0.4 1 0.1 1-0.6 1-0.3 1 0.2 1 0 1 0.1 1 0.2 1 0 1-0.3 1-0.5 1-0.4 1 0.5 1 0.6 1-0.3 1-0.4 1 0.1 1 0.4 1 0 1-0.2 1 0.3 1 0.2 1-0.1 1 0 1 0.3 1-0.1 1-0.5 1-0.1 1 0.2 1 0.2 1 0 1 0.2 1 0.1 1 0.1 1-0.2 1-0.6 1-0.4 1 0.5 1 0.4 1-0.1 1-0.1 1-0.2 1-0.2 1 0.1 1 0.5 1-0.1 1-0.5 1-0.2 1 0.4 1 0.6 1-0.3 1-0.2 1 0.5 1 0.3 1-0.2 1-0.1 1 0 1-0.1 1-0.2 1-0.1 1 0.2 1 0.3 1-0.3 1-0.5 1 0.2 1 0.3 1-0.2 1 0.1 1 0.1 1-0.1 1-0.3 1 0.1 1 0.4 1 0.1 1-0.3 1-0.2 1 0.2 1-0.1 1-0.5 1-0.2 1 0.2 1-0.1 1 0.1 1 0.3 1 0 1-0.1 1-0.1 1-0.1 1 0 1-0.3 1 0.1 1 0.5 1-0.1 1-0.2 1 0.1 1 0.3 1 0 1 0.1 1 0 1-0.3 1-0.2 1 0.3 1 0.4 1 0.3 1-0.2 1-0.3 1-0.1 1 0.1 1-0.1 1 0.2 1-0.1 1-0.3 1-0.1 1 0.4 1 0.7 1 0.1 1-0.7 1-0.7 1-0.3 1 0.4 1 0.1 1 0 1 0 1-0.2 1 0.1 1 0.1 1-0.1 1 0.5 1 0 1-0.7 1-0.1 1 0.5 1-0.1 1-0.3 1 0.1 1 0.2 1 0.2 1 0.2 1 0.2 1 0.3 1 0 1-0.2 1 0 1 0.1 1-0.5 1-0.3 1 0.2 1 0.3 1 0.1 1-0.2 1-0.1 1 0.2 1 0.1 1-0.3 1-0.2 1-0.1 1 0 1 0 1 0.1 1 0.3 1 0.2 1-0.4 1-0.3 1 0.2 1-0.1 1-0.4 1 0 1 0.4 1 0.1 1-0.1 1-0.3 1 0 1 0.5 1 0.3 1-0.2 1-0.2 1-0.1 1-0.3 1 0 1 0.1 1 0.2 1-0.2 1-0.1 1 0.6 1 0.2 1-0.4 1-0.1 1 0.1 1-0.2 1-0.1 1 0.2 1 0.1 1 0 1-0.1 1-0.3 1 0.1 1 0.1 1-0.3 1-0.2 1-0.1 1 0 1 0.6 1 0.2 1-0.2 1 0 1-0.4 1 0.2 1 0.6 1-0.5 1-1.2 1-0.5 1 0.8 1 0.7 1-0.1 1 0 1 0 1-0.2 1 0.2 1 0.3 1-0.1 1-0.2 1-0.2 1 0.1 1 0.1 1 0.5 1 0.1 1-1 1-0.7 1 0.4 1 0.6 1 0.3 1-0.2 1-0.6 1 0 1 0.2 1-0.1 1 0.1 1 0 1 0.1 1 0 1 0 1-0.3 1-0.4 1 0.1 1 0.1 1 0.1 1 0 1-0.4 1-0.4 1-0.1 1 0.2 1 0.1 1-0.1 1 0.1 1-0.1 1-0.5 1-0.3 1 0.3 1-0.1 1-0.4 1 0.5 1 0.2 1-0.4 1 0 1 0.3 1-0.6 1-0.8 1-0.3 1-0.1 1-0.5 1-0.5 1 0.2 1-0.1 1-0.3 1-0.1 1-0.2 1-0.7 1-0.5 1 0.1 1-0.3 1-0.6 1-0.5 1-0.8 1-0.7 1-0.6 1-0.9 1-0.9 1-1.1 1-1.3 1-1.6 1-1.3 1-1.1 1-1.9 1-2.4 1-2.6 1-3.1 1-4 1-4.5 1-5.1 1-6.6 1-8.1 1-10 1-12.4 1-15.1 1-18.2 1-22 1-25.8 1-28.7 1-29.5 1-26.7 1-19.1 1-7.2 1 7.4 1 19.8 1 26.9 1 28.8 1 27.8 1 25.5 1 22.2 1 18.7 1 15.5 1 12.9 1 10.6 1 8.1 1 6.4 1 4.9 1 4.1 1 4.1 1 3.1 1 2 1 1.8 1 1.7 1 2 1 1.8 1 1 1 0.7 1 1 1 1.4 1 1.1 1 0.7 1 0.3 1 0.6 1 0.9 1 0.4 1 0.3 1 0.2 1 0 1 0.5 1 0.7 1 0.6 1 0.5 1-0.2 1-0.4 1 0.4 1 0.6 1 0.1 1-0.3 1 0.1 1 0.8 1 0.3 1-0.2 1 0.1 1 0.2 1-0.4 1 0.5 1 0.9 1-0.1 1-0.4 1 0.2 1 0.2 1-0.1 1 0.1 1 0.1 1 0 1 0.1 1-0.2 1 0 1 0.3 1 0.2 1 0.3 1 0.2 1-0.3 1-0.2 1 0 1 0.3 1 0.2 1 0 1 0 1-0.1 1 0 1 0.1 1-0.1 1 0.3 1 0.2 1-0.3 1-0.3 1-0.1 1 0 1 0 1 0.2 1 0.3 1 0.4 1 0.3 1-0.1 1-0.1 1-0.2 1-0.2 1-0.4 1 0 1 0.6 1 0.6 1-0.2 1-0.2 1 0.2 1-0.3 1-0.4 1-0.2 1 0.1 1 0.6 1 0.5 1-0.4 1-0.5 1 0 1 0 1-0.1 1 0.4 1 0.4 1 0 1-0.2 1-0.6 1 0.1 1 0.8 1 0 1-0.6 1 0.1 1 0.3 1 0.1 1-0.2 1-0.1 1 0.1 1 0 1-0.4 1-0.7 1-0.3 1 0.3 1 0.3 1 0.5 1 0.3 1-0.2 1-0.2 1 0.1 1 0 1-0.2 1 0.1 1 0 1 0 1-0.2 1-0.3 1-0.2 1-0.4 1-0.4 1 0 1 0.1 1-0.2 1-0.2 1 0 1 0.4 1 0.2 1-0.3 1-0.1 1 0 1-0.1 1-0.8 1-0.4 1 0.3 1-0.3 1-0.5 1-0.3 1-0.1 1 0.1 1 0.3 1 0.5 1-0.2 1-0.8 1-0.2 1 0.2 1 0 1 0.4 1 0.2 1-0.1 1 0.2 1 0.6 1 0.6 1 0 1-0.1 1-0.1 1-0.1 1 0.1 1 0.1 1 0.2 1-0.2 1 0.1 1 0.6 1 0.1 1-0.2 1 0.2 1 0.5 1 0.1 1-0.1 1 0.2 1 0.4 1 0.4 1-0.2 1-0.7 1-0.1 1 0.8 1 0.6 1 0 1-0.1 1-0.4 1-0.1 1 0.5 1 0.3 1-0.2 1-0.3 1 0.1 1 0.2 1 0.1 1-0.2 1-0.2 1 0.3 1 0.4 1-0.2 1-0.4 1-0.2 1 0.3 1 0.3 1-0.5 1 0.1 1 0.6 1 0.2 1-0.1 1 0 1 0.2 1-0.1 1 0 1 0.2 1 0 1-0.2 1-0.3 1-0.1 1-0.4 1-0.1 1 0.4 1 0 1 0 1 0.1 1 0.4 1-0.3 1-0.3 1 0.3 1 0.1 1-0.2 1 0.4 1 0.5 1-0.3 1-0.5 1-0.1 1-0.1 1-0.6 1-0.5 1 0.5 1 0.6 1 0.6 1-0.3 1-0.6 1 0.1 1 0.2 1-0.1 1 0 1 0.2 1 0.1 1 0.1 1 0.1 1 0.5 1-0.2 1-0.4 1 0.4 1 0.1 1-0.3 1-0.3 1 0 1 0.1 1 0.1 1 0.2 1-0.2 1-0.4 1 0.1 1 0.4 1 0 1-0.3 1-0.1 1-0.1 1-0.3 1 0.2 1 0.5 1-0.1 1-0.2 1 0.1 1 0.6 1 0.1 1-0.4 1-0.3 1 0.1 1 0.5 1-0.2 1-0.3 1 0.2 1 0.1 1-0.2 1-0.1 1-0.3 1 0 1 0.3 1-0.2 1 0.1 1 0.4 1-0.2 1-0.5 1 0.1 1 0.5 1 0.1 1 0 1-0.3 1-0.5 1 0 1 0.2 1 0.2 1-0.2 1 0.1 1 0.6 1-0.2 1-0.2 1 0.3 1 0 1-0.6 1-0.8 1 0.3 1 0.6 1-0.2 1-0.5 1 0.1 1 0.8 1 0.1 1-0.4 1 0 1 0 1-0.2 1 0.2 1 0.3 1 0.3 1 0 1-0.3 1-0.2 1 0 1-0.3 1 0.1 1 0.4 1-0.1 1 0 1 0 1-0.2 1 0.2 1 0.2 1-0.2 1-0.1 1-0.5 1-0.3 1 0.3 1 0.3 1 0.4 1 0 1-0.3 1 0.3 1 0.4 1 0 1-0.2 1-0.2 1-0.2 1 0 1 0.1 1 0 1-0.2 1-0.4 1-0.4 1 0.1 1 0.6 1 0.7 1-0.1 1-0.8 1-0.1 1 0.5 1 0 1-0.2 1 0.3 1 0.2 1 0.1 1-0.1 1 0 1-0.3 1-0.4 1 0 1 0.2 1 0.1 1-0.5 1-0.1 1 0.7 1 0.5 1 0.1 1-0.5 1-0.7 1-0.2 1 0.3 1-0.2 1-0.3 1 0.4 1 0.2 1-0.2 1 0.3 1 0.2 1 0 1 0.1 1 0 1-0.3 1-0.2 1 0 1 0 1-0.4 1-0.1 1 0 1-0.1 1 0.1 1 0.1 1-0.4 1-0.2 1 0 1-0.6 1-1 1-0.3 1 0.2 1-0.9 1-1.5 1-0.8 1-0.5 1-1 1-0.9 1-1.2 1-1.5 1-1.6 1-0.9 1-1.1 1-1.6 1-0.9 1-0.6 1-0.7 1-0.5 1 0 1 0.9 1 1.5 1 1.6 1 1.5 1 1.3 1 1.2 1 0.8 1 1.1 1 1.6 1 1.3 1 0.7 1 0.4 1 0.7 1 0.7 1 0.7 1 0.5 1 0.5 1 0.5 1 0.5 1 0.2 1-0.6 1-0.1 1 1 1 0.7 1 0 1-0.2 1-0.1 1-0.3 1-0.3 1 0.2 1 0.3 1 0.3 1 0.1 1-0.5 1 0.1 1 0.4 1-0.3 1-0.5 1 0 1 0.5 1 0.7 1 0 1-0.3 1-0.1 1 0.2 1-0.1 1-0.4 1 0.1 1 0.4 1 0.3 1-0.2 1 0.2 1 0.2 1-0.7 1-0.2 1 0.5 1 0.1 1-0.2 1 0 1 0 1 0 1 0.1 1-0.1 1-0.4 1 0 1 0.2 1 0.2 1 0.1 1-0.1 1-0.1 1 0 1-0.2 1-0.4 1 0 1 0.3 1 0.2 1 0.3 1 0.3 1 0.2 1 0.3 1-0.2 1-0.3 1 0.3 1-0.1 1-0.4 1 0.1 1 0.2 1 0 1 0 1 0 1-0.2 1-0.1 1-0.1 1 0 1-0.1 1-0.3 1 0.4 1 0.5 1-0.1 1-0.2 1-0.2 1-0.3 1-0.1 1 0.2 1 0.3 1 0 1-0.1 1-0.1 1-0.3 1-0.1 1 0.6 1 0.2 1-0.6 1-0.4 1 0.5 1 0.1 1-0.4 1-0.1 1 0.3 1 0.3 1 0 1 0 1 0.5 1-0.2 1-0.3 1 0.2 1 0.3 1 0.4 1-0.2 1-0.7 1-0.2 1 0 1 0.2 1 0.1 1 0.1 1 0.2 1-0.2 1-0.1 1-0.1 1-0.6 1 0.1 1 0.6 1 0 1 0 1 0 1-0.2 1-0.2 1-0.4 1 0.2 1 0.5 1-0.2 1 0.1 1 0.6 1 0 1-0.5 1-0.2 1 0 1 0 1 0.3 1 0.1 1 0 1 0.2 1 0.2 1 0.3 1-0.4 1-0.6 1 0 1-0.3 1-0.1 1 0.4 1 0 1 0.1 1 0.2 1-0.3 1-0.2 1 0.5 1 0.3 1-0.4 1-0.6 1 0.1 1 0.6 1 0.5 1 0 1-0.1 1-0.1 1-0.3 1 0 1-0.1 1-0.3 1 0.2 1 0 1-0.1 1 0.3 1 0.3 1-0.2 1-0.3 1 0.2 1 0.4 1-0.2 1-0.5 1 0.3 1 0.3 1-0.2 1 0.2 1 0.3 1-0.4 1-0.6 1-0.2 1 0.3 1 0.5 1-0.4 1-0.5 1 0.1 1 0.4 1 0.1 1-0.1 1 0 1 0 1 0.1 1 0.2 1-0.1 1-0.3 1 0.1 1-0.1 1-0.2 1 0.2 1 0.4 1 0.1 1-0.3 1-0.1 1-0.1 1-0.1 1 0.1 1 0.2 1-0.1 1-0.3 1-0.3 1 0 1 0.4 1 0.2 1-0.2 1-0.1 1 0.2 1 0.3 1-0.1 1-0.3 1 0.2 1-0.1 1-0.1 1 0.1 1 0 1-0.2 1 0 1 0.2 1 0.1 1-0.2 1-0.2 1 0.1 1 0.5 1 0.2 1-0.1 1 0.1 1-0.4 1-0.3 1 0.1 1 0 1 0.3 1 0.2 1-0.3 1 0.2 1 0.5 1-0.3 1-0.2 1 0 1-0.2 1-0.1 1-0.2 1-0.2 1 0.3 1-0.2 1-0.1 1 0.4 1-0.1 1-0.2 1 0 1-0.1 1-0.2 1-0.1 1 0.3 1 0.4 1 0.1 1 0.1 1 0.1 1-0.3 1-0.3 1 0.3 1 0.4 1-0.2 1-0.2 1 0 1 0 1 0.1 1-0.2 1-0.2 1-0.2 1 0.1 1 0.4 1 0.3 1 0 1-0.4 1-0.2 1 0.3 1-0.1 1-0.3 1 0.3 1 0.5 1-0.2 1-0.7 1-0.2 1 0.2 1-0.3 1-0.1 1 0 1-0.1 1 0 1 0.5 1 0.5 1 0 1-0.2 1 0 1 0.3 1 0 1-0.4 1-0.4 1-0.1 1 0.1 1 0.1 1 0 1-0.2 1 0.3 1 0.3 1 0 1-0.4 1-0.4 1-0.3 1 0.1 1 0.4 1 0.3 1-0.2 1-0.4 1-0.2 1 0.1 1-0.3 1-0.6 1-0.1 1 0.3 1 0.3 1 0.3 1-0.4 1-0.6 1 0.2 1 0.1 1-0.4 1-0.1 1 0 1-0.2 1-0.7 1-0.8 1-0.5 1-0.6 1-0.7 1-0.9 1-1 1-1.6 1-1.9 1-1.9 1-1.9 1-2.1 1-2.3 1-2.6 1-3 1-2.8 1-2.4 1-2.8 1-2.5 1-1.5 1-1.8 1-1.5 1 0.2 1 1.3 1 1.3 1 1.6 1 2.2 1 2.1 1 2.2 1 2.6 1 2.5 1 2.3 1 2 1 1.6 1 1.5 1 0.9 1 1.3 1 1.4 1 0.9 1 0.7 1 0.6 1 0.8 1 1 1 1 1 0.8 1 0.9 1 1.1 1 0.8 1 0.5 1 0.6 1 0.4 1-0.3 1 0.4 1 1.2 1 0.5 1-0.2 1-0.1 1-0.2 1 0 1 0.3 1 0.2 1 0.3 1 0.1 1 0.4 1 0.7 1 0 1-0.4 1-0.2 1-0.3 1 0 1 0.5 1 0.2 1-0.2 1 0 1-0.1 1-0.3 1 0.4 1 0.4 1-0.1 1 0 1 0 1-0.1 1 0.4 1 0.4 1 0.1 1-0.4 1-0.5 1-0.3 1-0.1 1-0.1 1 0.3 1 0.7 1 0.1 1-0.4 1-0.1 1-0.3 1-0.1 1-0.2 1 0 1 0.4 1 0.2 1-0.1 1-0.2 1 0 1 0.1 1 0.1 1 0 1-0.1 1 0.3 1 0.4 1 0.2 1 0 1-0.4 1-0.6 1-0.2 1 0.6 1 0.7 1-0.3 1-1 1 0 1 0.3 1 0 1 0.3 1 0.1 1-0.2 1-0.1 1-0.3 1-0.1 1 0.4 1 0.2 1-0.3 1 0.2 1 0.4 1 0 1 0 1-0.2 1 0.2 1 0.5 1 0.3 1-0.2 1-0.2 1-0.3 1 0 1 0.3 1 0.1 1 0 1 0.1 1 0.4 1-0.2 1-0.5 1 0.1 1 0 1-0.3 1-0.1 1-0.1 1-0.3 1-0.2 1 0.2 1 0.4 1 0.3 1 0 1-0.3 1-0.5 1-0.2 1 0.5 1 0.3 1 0.2 1 0.1 1-0.4 1-0.5 1-0.2 1 0.4 1 0.2 1-0.2 1 0.1 1-0.2 1 0.3 1 0.6 1 0.1 1-0.2 1 0 1-0.1 1 0.1 1 0.2 1-0.2 1-0.3 1-0.2 1-0.5 1-0.5 1 0.3 1 1.1 1 0.2 1-0.5 1 0 1 0 1 0 1 0.2 1-0.4 1-0.7 1 0.1 1 0.8" stroke="#0068D2"/>
<path d="M163.0 986.0l1 0.9 1 1.1 1 0.1 1-0.2 1 0.6 1 0.6 1 0.3 1 0.3 1 0.8 1 1 1 0.6 1 0.2 1-0.1 1 0.3 1 0.6 1 0.1 1 0.4 1 0.2 1-0.1 1 0.3 1 0.5 1 0.5 1 0.6 1 0.1 1-0.3 1 0.1 1 0.6 1 0.1 1-0.2 1 0.4 1 0.4 1 0.2 1 0.6 1 0.5 1 0.3 1-0.1 1-0.5 1 0 1 0.6 1 0.6 1 0 1-0.3 1-0.2 1 0.1 1 0.3 1 0.2 1 0.6 1 0.5 1-0.4 1-0.1 1 0.1 1-0.2 1 0.2 1 0.4 1 0 1 0 1 0.3 1 0.1 1 0 1 0.4 1 0.2 1 0 1-0.2 1-0.1 1-0.1 1 0 1 0.2 1-0.3 1 0.1 1 0.7 1-0.3 1-0.2 1 0.5 1 0 1-0.2 1-0.3 1-0.3 1-0.5 1-0.1 1 0.4 1 0.7 1 0.7 1 0.1 1-0.5 1-0.2 1-0.2 1-0.3 1-0.4 1-0.2 1 0.2 1 0.1 1 0.2 1 0.3 1 0.3 1-0.1 1 0 1 0.1 1-0.2 1-0.4 1-0.2 1 0.1 1 0.3 1-0.1 1-0.2 1-0.3 1-0.4 1-0.3 1-0.2 1 0.2 1-0.1 1-0.4 1-0.1 1-0.5 1-0.3 1 0 1-0.7 1-0.8 1-0.5 1-0.5 1-0.2 1-0.7 1-0.8 1-0.4 1-1.5 1-2.7 1-3 1-4 1-6.3 1-9.6 1-13 1-17.7 1-24.1 1-31 1-38.6 1-45.8 1-51.1 1-53.6 1-51.7 1-46.2 1-35.8 1-19 1 0.1 1 19 1 35.4 1 46.7 1 52.2 1 53.5 1 50.9 1 45.4 1 38.2 1 30.8 1 24 1 17.8 1 13 1 9.3 1 6.1 1 4.3 1 2.8 1 1.8 1 1.4 1 1.5 1 1.1 1 0.9 1 0.8 1-0.3 1-0.6 1 1.1 1 1.2 1-0.1 1-0.3 1 0.3 1 0.8 1 0.3 1-0.2 1 0 1 0.1 1-0.5 1-0.6 1 0 1-0.3 1-0.5 1-0.6 1-1.7 1-2.1 1-2.1 1-4.5 1-8.4 1-12.4 1-17.9 1-24.6 1-31 1-36.7 1-39.9 1-38.3 1-30.4 1-16.7 1 0.3 1 17.1 1 30.4 1 38 1 40.4 1 36.9 1 30.8 1 24.3 1 17.6 1 12.5 1 8.3 1 4.5 1 3 1 2.6 1 1.5 1 0.8 1 0.7 1 0.5 1 0.6 1 0.3 1 0.1 1 0.4 1 0.4 1 0.8 1 0.3 1-0.5 1-0.6 1-0.3 1 0.3 1 0.4 1 0.2 1 0.1 1 0.2 1-0.1 1-0.4 1 0.2 1 0.9 1 0 1-0.1 1 0.1 1-0.3 1-0.4 1 0 1 0.6 1 0.4 1 0.2 1 0 1-0.3 1 0.2 1 0.1 1-0.2 1-0.2 1 0.2 1 0.4 1 0.3 1 0.1 1-0.3 1-0.2 1-0.2 1 0.1 1 0.3 1 0.3 1-0.3 1-0.3 1 0.1 1 0 1-0.3 1-0.2 1 0.5 1 0.7 1-0.1 1-0.5 1-0.6 1-0.2 1 0.4 1 0.3 1 0 1-0.2 1 0.4 1 0.2 1-0.3 1-0.1 1-0.1 1 0.1 1 0.5 1 0 1-0.4 1 0 1 0.1 1-0.4 1-0.2 1 0 1 0.1 1 0.6 1 0.5 1 0.5 1-0.1 1-0.5 1-0.6 1-0.2 1-0.3 1-0.1 1 0.6 1-0.2 1-0.5 1 0.4 1 0.6 1 0.1 1-0.4 1-0.1 1-0.2 1-0.2 1 0.2 1-0.1 1-0.2 1 0.2 1-0.2 1-0.1 1-0.1 1-0.2 1 0.3 1 0.1 1-0.3 1 0.2 1 0.3 1-0.6 1-0.3 1-0.2 1-0.7 1-0.8 1-0.9 1-1.1 1-1.6 1-1.7 1-1.3 1-1.7 1-1.5 1-0.5 1 0.6 1 1.4 1 2 1 1.6 1 1.1 1 1.6 1 1.7 1 0.9 1 0.8 1 0.7 1 0.2 1 0 1 0.3 1 0.6 1-0.2 1-0.4 1-0.1 1 0 1 0.5 1 0.1 1-0.3 1-0.5 1 0 1 0.5 1 0.1 1 0 1 0.1 1-0.3 1-0.2 1-0.1 1 0.4 1 0.7 1-0.2 1-0.3 1-0.3 1-0.7 1 0.4 1 0.4 1 0 1-0.2 1-0.2 1 0.4 1 0.1 1-0.8 1 0 1 0.6 1 0.1 1 0 1 0.2 1-0.1 1-0.4 1 0 1-0.4 1-0.5 1 0.3 1 0.9 1 0.6 1-0.1 1-0.6 1-0.1 1 0.3 1 0.1 1 0.1 1-0.2 1-0.6 1-0.5 1 0.7 1 1 1 0.2 1-0.3 1-0.5 1-0.3 1 0 1 0.3 1 0.1 1 0.3 1 0.1 1-0.4 1-0.3 1 0 1 0.2 1 0 1-0.2 1 0.4 1 0.3 1-0.4 1-0.6 1-0.1 1 0.2 1-0.1 1 0 1 0.3 1 0.1 1-0.2 1 0.4 1 0.1 1-0.5 1 0.5 1 0.3 1-0.6 1-0.5 1-0.2 1 0.1 1 0.2 1-0.2 1-0.3 1-0.2 1 0 1 0 1 0 1-0.1 1-0.1 1 0.2 1-0.2 1-0.5 1 0.1 1-0.1 1-0.4 1-0.3 1 0 1 0.1 1-0.1 1-0.3 1-0.2 1-0.5 1-0.5 1-1.1 1-1.8 1-1.4 1-2.3 1-3.7 1-4 1-4.1 1-4.1 1-3.5 1-2 1 0.4 1 2 1 3.3 1 4.2 1 4 1 3.2 1 3 1 3 1 1.5 1 0.3 1 0.8 1 1.3 1 1.1 1 0.4 1-0.2 1 0.1 1 0 1-0.3 1 0.2 1 0.1 1 0 1-0.3 1-0.4 1 0 1 0.4 1 0 1 0.1 1 0 1-0.5 1-0.5 1 0.1 1 0.1 1 0.2 1 0.2 1 0 1-0.1 1-0.4 1-0.2 1-0.1 1-0.3 1-0.4 1-0.3 1-0.1 1 0 1 0.3 1 0.5 1 0.1 1-0.7 1-0.7 1-0.1 1-0.4 1-0.5 1-0.2 1-0.2 1 0 1 0.1 1-0.5 1-0.3 1-0.1 1-0.5 1-0.6 1 0 1 0.3 1 0 1-0.5 1-0.5 1-0.3 1-0.1 1-0.5 1-0.4 1-0.3 1-0.1 1 0.2 1-0.5 1-0.8 1 0.1 1-0.2 1-0.3 1-0.3 1-0.8 1-0.5 1-0.4 1-1 1-1.1 1-0.9 1-1.6 1-1.8 1-1.5 1-2.8 1-3.6 1-2.5 1-2 1-3.1 1-3.8 1-3.1 1-1.2 1 0.2 1 0.6 1 1.3 1 2.4 1 3.1 1 2.9 1 2.8 1 2.8 1 2.4 1 1.5 1 0.9 1 1 1 1.5 1 0.9 1-0.3 1-0.3 1 0.6 1 1 1 0.6 1-0.1 1-0.1 1 0.1 1-0.2 1-0.8 1-0.4 1 0.1 1 0.2 1 0.2 1-0.1 1-0.1 1 0 1 0.3 1 0.4 1 0.1 1 0.4 1-0.3 1-0.7 1 0.1 1-0.1 1-0.4 1 0.2 1 0.2 1-0.1 1-0.2 1 0.1 1 0.3 1-0.2 1-0.2 1 0 1 0.1 1-0.2 1 0 1 0.7 1 0.3 1 0.1 1-0.1 1 0 1 0.3 1-0.2 1 0 1 0.5 1 0.2 1-0.4 1-0.4 1 0 1-0.2 1 0.4 1 0.8 1 0.4 1-0.2 1-0.3 1 0 1 0 1 0.5 1 0.2 1-0.2 1 0 1 0.1 1 0.4 1 0.2 1-0.3 1 0.2 1 0.5 1 0.4 1-0.2 1-0.7 1-1 1-0.5 1 0.1 1-0.4 1-1.2 1-1.2 1-1.5 1-0.7 1 0.1 1 0.2 1 1.2 1 1.5 1 1.7 1 1.5 1 0.7 1 0.5 1 0.6 1 0.9 1 1 1 0.6 1 0.5 1 0.4 1-0.2 1 0 1 0.8 1 0.4 1-0.2 1 0.5 1 1 1 0.4 1 0.1 1-0.1 1-0.2 1 0.1 1 0.3 1 0 1 0.1 1 0.2 1 0.4 1 0.2 1 0.3 1 0.4 1-0.4 1 0 1 0.4 1-0.2 1 0.1 1-0.2 1-0.4 1 0.4 1 0.6 1 0.4 1 0.5 1 0.5 1 0.4 1 0.2 1-0.2 1-0.2 1 0 1-0.3 1 0.4 1 0.7 1-0.3 1-0.6 1 0.2 1 0.7 1 0.4 1-0.3 1-0.8 1 0 1 0.4 1 0.1 1 0.3 1 0.4 1 0.1 1 0.1 1 0.2 1 0.2 1-0.4 1-0.1 1 0.6 1 0.1 1-0.1 1-0.3 1-0.2 1 0.3 1-0.1 1 0 1 0.6 1 0 1 0.1 1 0.5 1-0.2 1-0.9 1 0.1 1 0.5 1-0.7 1-0.5 1 0.8 1 0.8 1 0.1 1-0.2 1-0.2 1 0.1 1 0 1 0 1 0.2 1-0.1 1 0 1 0.4 1 0.3 1-0.6 1-0.8 1 0.4 1 0.3 1-0.1 1 0.1 1 0 1 0.5 1 0 1-0.1 1 0.4 1 0 1-0.5 1-0.3 1 0.6 1 0.6 1-0.4 1-0.4 1 0.6 1 0.4 1-0.5 1-0.7 1-0.5 1 0.1 1 0.3 1 0.5 1 0 1-0.6 1-0.3 1 0.1 1 0.4 1 0.3 1-0.1 1 0.2 1 0.1 1-0.2 1 0.1 1-0.2 1-0.5 1 0 1 0.5 1-0.1 1-0.5 1 0.2 1-0.1 1-0.3 1 0 1-0.1 1 0 1-0.3 1-0.2 1 0.2 1-0.4 1-1.4 1-0.8 1 0 1-0.1 1-0.1 1-0.1 1-0.5 1-0.9 1-0.8 1-0.8 1-0.4 1-0.1 1-0.7 1-0.8 1-0.4 1-0.1 1-0.1 1-0.6 1-0.4 1 0.1 1 0 1 0.1 1 0.5 1-0.1 1 0.1 1 1.2 1 1 1 0.9 1 0.3 1-0.5 1 0.2 1 1 1 0.8 1 0.2 1 0.6 1 0.7 1 0.3 1 0.7 1 0.7 1 0.3 1 0.3 1 0 1-0.2 1 0.5 1 0.5 1 0.3 1 0.4 1 0.3 1 0.2 1 0 1-0.1 1 0 1 0 1 0.4 1 0.1 1-0.4 1-0.1 1 0 1 0.3 1 0.5 1 0.2 1 0 1-0.4 1-0.2 1 0.1 1 0.1 1 0 1 0.1 1 0.3 1 0.3 1-0.1 1-0.3 1-0.2 1-0.3 1-0.3 1 0.3 1 0.1 1 0 1 0.4 1 0 1-0.3 1 0.3 1 0.4 1 0.1 1 0.2 1 0.7 1-0.2 1-0.7 1-0.2 1-0.2 1-0.4 1 0.5 1 0.5 1-0.2 1 0.1 1 0.5 1-0.1 1 0 1 0.4 1-0.3 1-0.7 1-0.2 1 0.3 1 0.5 1 0.4 1 0 1-0.5 1-0.2 1 0.4 1-0.1 1-0.6 1 0 1 0.6 1 0.4 1-0.2 1-0.1 1 0.1 1-0.4 1 0.2 1 0.8 1-0.2 1-0.5 1 0.4 1 0.4 1-0.3 1-0.3 1 0.1 1-0.4 1-0.1 1 0 1 0 1 0.4 1 0 1-0.2 1 0.4 1 0.4 1-0.1 1-0.1 1-0.1 1-0.4 1 0.1 1 0.3 1 0.5 1 0.6 1-0.3 1-0.8 1-0.4 1-0.4 1 0.1 1 0.9 1-0.1 1-0.6 1 0.7 1 0.8 1-0.2 1-0.3 1-0.3 1-0.5 1-0.2 1 0.2 1 0.4 1 0.2 1 0.5 1 0.3 1-0.1 1-0.4 1-0.5 1 0.1 1 0.8 1 0.2 1-0.3 1-0.7 1-0.2 1 0.2 1-0.3 1 0 1 0.4 1 0.3 1 0.3 1-0.3 1-0.5 1 0.1 1-0.1 1 0.3 1-0.1 1-0.3 1-0.1 1 0.1 1 0.5 1 0.6 1 0 1-0.1 1 0.1 1 0.3 1 0.2 1-0.5 1-0.6 1-0.2 1 0 1 0.1 1 0.3 1 0.4 1 0 1-0.1 1-0.2 1-0.3 1-0.5 1-0.4 1 0.4 1 0.9 1 0.5 1-0.6 1-0.3 1-0.1 1-0.2 1 0.4 1 0 1-0.7 1-0.2 1 0.4 1 0.3 1 0.4 1 0.2 1-0.1 1 0.2 1 0.4 1 0.2 1-0.1 1-0.6 1-0.7 1-0.2 1 0.4 1 0.3 1 0.4 1 0.5 1-0.3 1-0.3 1-0.3 1-0.1 1 0.5 1 0.3 1-0.3 1-0.4 1 0 1 0.4 1 0 1-0.4 1 0.4 1 0.3 1-0.6 1 0 1 0.5 1 0.1 1 0.1 1 0.1 1-0.2 1-0.7 1-0.4 1 0.4 1 0.2 1 0 1 0.3 1 0.2 1-0.1 1 0.1 1 0.1 1-0.3 1-0.2 1-0.2 1 0.1 1 0.2 1-0.5 1-0.5 1 0.4 1 0.4 1 0 1-0.2 1-0.4 1-0.2 1 0.9 1 0.4 1-0.9 1-0.4 1 0.6 1-0.6 1-1 1 0.2 1 0.3 1 0.4 1 0.9 1-0.1 1-0.8 1-0.1 1-0.1 1-0.6 1-0.3 1-0.2 1 0 1-0.4 1-0.2 1 0.3 1 0.4 1 0.1 1-0.2 1-0.2 1 0.4 1 0.5 1 0 1 0.4 1 0.7 1 0.1 1-0.1 1 0.1 1 0.2 1 0.1 1-0.6 1-0.1 1 0.5 1 0.3 1 0.4 1 0.5 1 0.4 1-0.3 1-0.5 1-0.4 1-0.4 1 0 1 0.2 1-0.3 1-0.7 1 0.1 1 0.9 1 0.2 1-0.3 1 0 1-0.1 1 0.2 1 0.2 1 0.1 1-0.1 1-0.5 1-0.5 1 0.3 1 0.3 1-0.2 1 0.1 1 0.3 1 0.5 1 0.3 1-0.3 1-0.4 1 0.3 1 0.3 1-0.3 1-0.4 1 0 1 0.3 1 0.2 1 0 1 0.1 1 0.3 1-0.6 1-0.6 1 0.4 1 0.5 1 0 1-0.5 1-0.3 1 0.1 1-0.3 1-0.2 1 0.9 1 0.3 1-0.7 1-0.3 1 0.2 1 0.2 1 0.2 1 0 1-0.2 1-0.4 1-0.5 1 0 1 0.4 1 0.7 1 0.4 1-0.2 1-0.5 1-0.3 1 0.4 1 0.2 1 0.7 1 0.4 1-0.6 1-0.2 1-0.2 1-0.7 1-0.2 1 0.4 1 0.5 1 0.2 1 0.1 1-0.1 1-0.6 1-0.3 1 0.3 1 0 1-0.1 1 0.3 1-0.2 1-0.1 1 0.1 1 0 1 0.4 1 0.2 1-0.1 1-0.2 1-0.3 1 0 1 0.5 1 0.5 1-0.1 1-0.2 1 0.3 1-0.3 1-0.6 1 0.2 1 0.3 1-0.4 1-0.1 1 0.3 1 0.2 1 0 1-0.1 1 0.4 1 0.6 1-0.6 1-1.1 1-0.3 1 0.3 1 0.1 1 0 1 0.7 1 0.7 1-0.3 1-0.7 1-0.3 1 0 1 0.3 1 0.3 1-0.4 1-0.4 1 0.5 1 0.5 1 0.4 1-0.1 1-1 1-0.5 1 0.7 1 0.7 1-0.2 1-1 1 0.1 1 1 1 0.5 1-0.4 1-0.3 1-0.1 1-0.5 1-0.4 1 0.4 1 0.3 1 0.4 1-0.3 1-0.6 1 0.2 1 0.2 1-0.4 1 0.1 1 0.3 1 0 1-0.4 1-0.2 1 0.1 1 0.3 1 0 1 0 1 0.3 1-0.3 1-0.1 1 0.6 1 0.3 1-0.5 1-0.2 1 0.2 1-0.5 1-0.4 1 0.7 1 0.6 1-0.3 1 0.1 1 0.3 1-0.4 1-0.3 1 0.1 1 0.1 1-0.2 1 0.2 1 0 1-0.1 1 0.2 1 0 1-0.3 1 0 1 0 1 0 1-0.2 1-0.1 1 0.3 1 0.4 1-0.1 1-0.3 1 0.2 1 0 1-0.3 1 0.1 1 0 1-0.1 1 0.1 1-0.4 1-0.3 1 0.2 1 0.2 1 0.2 1 0.3 1-0.2 1-0.1 1 0.2 1 0 1-0.4 1 0.1 1 0.6 1 0.3 1-0.2 1-0.3 1-0.3 1 0 1-0.1 1-0.2 1 0.2 1-0.3 1-0.4 1 0.5 1 0.6 1 0 1-0.2 1-0.4 1-0.1 1 0.2 1-0.1 1 0.3 1 0.3 1-0.3 1 0.2 1 0.5 1-0.5 1-0.4 1 0.3 1 0.2 1-0.4 1-0.3 1 0.4 1 0.7 1 0.3 1-0.3 1-0.5 1 0.1 1 0.1 1-0.2 1 0.2 1 0.3 1 0 1-0.4 1-0.3 1-0.2 1 0 1 0.4 1 0.1 1 0.3 1 0 1-0.3 1 0.1 1 0.3 1-0.1 1-0.4 1-0.1 1 0.5 1 0 1-0.5 1-0.1 1 0.4 1-0.1 1-0.3 1-0.1 1 0.3 1 0.2 1-0.1 1-0.2 1 0.1 1 0.7 1 0.1 1-0.8 1-0.3 1-0.1 1-0.1 1 0.3 1 0.3 1 0.3 1 0.5 1 0.1 1-0.6 1-0.3 1 0.4 1-0.2 1-0.7 1-0.1 1 0 1-0.4 1 0.5 1 0.5 1-0.2 1 0 1 0.1 1 0.2 1 0.2 1-0.3 1-0.4 1 0 1 0.2 1 0.3 1 0.1 1-0.2 1-0.2 1 0 1 0 1-0.2 1-0.2 1-0.1 1 0.2 1 0.2 1 0 1 0.4 1-0.2 1-1 1-0.1 1 0.4 1 0.1 1 0.4 1 0.3 1-0.1 1-0.3 1 0.1 1 0.3 1-0.1 1 0.5 1 0 1-0.7 1 0 1 0.1 1-0.4 1 0 1-0.1 1-0.5 1-0.1 1-0.1 1-0.2 1 0.1 1-0.2 1-0.1 1-0.7 1-1.1 1-0.6 1-0.5 1-0.2 1-0.7 1-1.1 1-0.4 1-0.1 1-0.6 1-0.3 1 0.5 1 0 1-0.1 1 0.3 1 0.1 1 0.5 1 0.7 1 0.7 1 0.6 1 0.4 1 0.9 1 1.1 1 0.4 1 0.4 1-0.1 1-0.1 1 0.8 1 0.4 1-0.2 1-0.3 1-0.2 1 0.1 1 0.3 1 0.3 1 0 1-0.3 1-0.4 1 0.1 1 0.4 1 0.3 1-0.1 1 0 1 0.1 1 0 1 0.2 1 0.3 1-0.3 1-0.2 1 0.4 1 0.3 1-0.3 1-0.3 1 0.3 1 0.1 1-0.2 1 0.1 1 0.1 1 0.3 1 0.1 1-0.3 1-0.2 1 0.1 1 0.1 1 0.1 1 0 1-0.2 1 0 1 0.2 1-0.1 1-0.5 1 0 1 0 1-0.4 1 0.2 1 0.5 1 0.4 1-0.1 1-0.6 1-0.4 1 0.2 1 0.5 1-0.2 1 0.2 1 0.8 1-0.2 1-0.3 1 0.4 1-0.4 1-0.6 1 0.3 1 0.3 1-0.4 1-0.2 1 0.3 1-0.3 1 0.2 1 0.6 1-0.2 1-0.4 1 0 1 0.4 1 0.2 1-0.4 1-0.1 1-0.1 1-0.5 1-0.1 1 0.6 1 0.4 1 0 1 0.1 1 0 1 0.1 1-0.3 1-0.4 1 0 1 0.2 1 0 1-0.2 1-0.2 1-0.3 1 0.1 1 0.7 1 0.3 1 0 1-0.1 1 0.1 1 0.1 1-0.4 1 0.1 1 0.7 1 0.2 1-0.6 1-0.6 1-0.3 1 0.2 1 0.3 1 0 1 0.2 1-0.1 1-0.4 1-0.2 1 0.2 1 0.6 1 0 1-0.5 1 0.2 1 0.2 1 0.4 1 0.2 1-0.6 1-0.7 1 0.1 1 0.3 1 0 1-0.2 1-0.1 1 0 1 0.2 1 0.3 1 0.2 1-0.4 1-0.5 1 0 1 0.1 1 0 1-0.1 1 0.4 1 0.5 1-0.4 1-0.5 1 0.6 1 0.7 1-0.3 1-0.7 1 0 1 0.1 1-0.2 1-0.5 1 0.2 1 0.1 1-0.1 1 0.3 1 0.4 1 0.4 1 0 1-0.3 1 0 1 0.2 1 0.1" stroke="#00AC64"/>
<path d="M163.0 717.5l1 0.7 1 1 1 1.1 1 0.8 1 0.2 1 0.2 1 0.5 1 1.1 1 0.7 1-0.1 1-0.2 1 0.6 1 0.9 1 0 1-0.2 1 0.3 1 0.3 1 0.2 1 0.4 1 0.3 1 0.5 1 0.1 1 0.1 1 0.5 1 0 1-0.3 1 0.1 1 0.2 1 0.1 1 0.1 1 0.4 1 0.2 1-0.1 1-0.1 1 0.1 1-0.1 1 0.2 1 0.3 1 0.2 1 0.5 1-0.2 1-0.4 1 0.1 1 0.1 1 0.2 1-0.1 1-0.3 1 0.3 1 0.4 1 0.1 1-0.1 1 0 1-0.1 1-0.1 1 0.3 1 0.5 1 0.4 1 0.2 1-0.2 1-0.2 1-0.2 1-0.3 1 0.1 1 0.3 1-0.2 1-0.1 1 0.1 1 0 1-0.1 1 0 1 0.1 1-0.1 1-0.1 1 0.1 1-0.4 1-0.3 1 0.4 1 0.4 1-0.1 1-0.4 1 0.1 1 0.2 1-0.2 1 0 1 0.2 1-0.1 1 0 1 0.2 1 0 1 0.2 1 0.2 1-0.4 1-0.6 1 0 1 0.4 1 0.2 1 0.1 1-0.1 1-0.2 1 0 1 0.1 1 0.2 1 0 1 0.3 1 0.4 1-0.5 1-0.3 1 0.5 1-0.1 1-0.3 1 0.2 1-0.1 1-0.3 1-0.2 1 0.1 1 0.4 1 0.2 1-0.1 1 0.2 1 0.1 1-0.5 1-0.1 1 0 1-0.4 1 0.1 1 0.4 1 0.1 1-0.1 1 0.1 1 0.2 1 0.1 1 0 1 0 1 0.2 1 0.2 1-0.3 1-0.2 1-0.1 1-0.4 1 0.1 1 0.4 1 0.3 1 0 1-0.5 1-0.2 1 0.7 1-0.1 1-0.4 1 0.2 1-0.3 1-0.5 1 0.1 1 0.5 1 0.2 1-0.3 1-0.2 1 0.1 1-0.1 1 0 1 0.4 1 0.3 1-0.2 1-0.6 1-0.1 1 0.2 1 0 1-0.3 1 0.3 1 0.7 1 0 1-0.5 1 0.4 1-0.2 1-0.7 1 0 1 0.5 1 0.2 1-0.1 1-0.1 1 0.3 1 0.6 1 0 1-0.8 1 0 1 0.5 1-0.5 1-0.4 1 0.4 1 0.3 1 0.1 1-0.3 1-0.3 1 0.2 1 0.4 1 0.2 1-0.6 1-0.6 1 0.3 1 0.5 1-0.5 1-0.5 1 0.3 1 0.5 1 0.2 1-0.3 1 0.2 1 0.1 1-0.4 1 0.3 1 0.6 1 0.2 1-0.4 1-0.1 1-0.1 1-0.2 1-0.3 1-0.1 1 0.1 1 0.5 1 0.4 1-0.2 1 0 1 0 1-0.2 1-0.4 1-0.4 1 0.3 1 0.1 1-0.7 1 0.2 1 0.7 1-0.2 1-0.4 1 0.1 1 0.2 1 0.4 1 0 1-0.4 1-0.1 1 0.3 1 0.4 1-0.1 1-0.1 1-0.4 1-0.4 1 0.2 1 0.5 1-0.2 1-0.5 1-0.1 1 0.4 1 0.1 1-0.1 1 0.1 1 0.2 1 0.2 1 0.2 1 0.2 1 0 1-0.3 1-0.3 1 0 1 0 1 0 1 0.2 1 0.1 1-0.7 1-0.1 1 0.5 1 0.2 1-0.2 1-0.1 1 0.5 1 0 1-0.4 1-0.2 1 0.1 1 0 1-0.2 1 0 1 0.4 1 0 1-0.1 1-0.4 1-0.3 1 0.4 1 0.2 1-0.1 1 0 1 0 1 0.1 1-0.2 1-0.3 1 0.2 1 0.4 1 0.1 1-0.5 1-0.1 1 0.4 1 0 1 0.2 1-0.1 1-0.4 1 0.1 1 0.4 1 0.1 1-0.1 1 0.4 1 0.2 1-0.7 1-0.6 1-0.2 1 0.1 1 0.1 1 0 1 0.1 1 0 1-0.5 1 0.4 1 1.1 1 0.1 1-0.3 1 0.1 1 0.2 1-0.2 1-0.6 1-0.3 1 0.1 1 0 1-0.1 1 0.1 1 0.1 1 0.2 1 0 1-0.3 1 0.3 1 0.6 1-0.1 1 0 1 0.2 1 0 1-0.5 1-0.5 1 0 1-0.1 1-0.2 1 0 1-0.1 1 0 1 0.5 1 0.1 1-0.3 1-0.1 1 0.1 1 0.1 1 0.1 1 0.1 1 0 1 0.2 1 0.2 1-0.2 1-0.3 1 0 1 0.2 1 0 1-0.4 1-0.8 1 0.1 1 0.8 1 0.6 1 0.3 1-0.2 1-0.2 1-0.4 1-0.1 1 0.2 1 0.1 1 0.1 1 0.1 1 0 1 0 1-0.3 1-0.2 1-0.1 1 0.4 1 0.4 1-0.1 1 0.1 1 0.1 1-0.1 1-0.2 1-0.4 1 0.4 1 0.2 1-0.4 1-0.3 1 0.1 1 0 1 0.1 1 0.3 1-0.4 1-0.1 1 0.7 1 0.2 1-0.3 1-0.2 1-0.2 1 0 1 0.4 1 0.2 1-0.1 1-0.3 1-0.3 1 0.2 1 0.4 1 0.1 1-0.5 1-0.1 1 0.4 1 0.1 1-0.4 1-0.5 1 0 1 0.2 1-0.1 1 0 1 0.4 1 0.2 1-0.3 1-0.3 1 0.3 1 0.1 1-0.4 1 0.2 1 0.2 1-0.2 1 0.1 1 0.1 1 0.2 1-0.1 1 0.1 1 0.3 1 0 1-0.4 1-0.7 1 0 1 0.5 1 0.1 1-0.2 1-0.2 1-0.3 1-0.1 1-0.1 1 0 1-0.2 1-0.2 1 0.3 1-0.1 1-0.8 1-0.3 1 0 1-0.3 1-0.2 1-0.6 1-0.7 1-0.1 1-0.1 1-0.3 1-0.3 1-0.3 1-0.3 1 0.6 1 1.1 1 0.5 1 0.3 1 0.2 1 0.2 1 0.3 1 0.3 1 0.3 1 0.1 1 0.3 1 0.3 1 0.1 1 0.3 1 0.1 1 0.2 1-0.1 1-0.7 1-0.1 1 0.7 1 0.6 1 0.2 1-0.2 1-0.4 1-0.2 1 0.2 1 0 1-0.5 1-0.1 1 0.3 1-0.2 1-0.5 1 0.5 1 0.4 1 0 1 0.1 1-0.1 1-0.2 1 0.1 1-0.1 1-0.2 1 0.5 1 0.1 1-0.7 1-0.5 1 0.5 1 0.7 1-0.1 1-0.4 1-0.2 1-0.3 1 0 1 0.5 1 0 1-0.6 1 0 1 0.4 1 0.3 1 0.3 1 0.3 1 0.1 1 0 1-0.3 1-0.7 1 0.1 1 0.4 1 0 1-0.5 1-0.7 1 0.1 1 0.8 1 0.1 1-0.3 1-0.3 1-0.2 1 0.6 1 0.5 1 0 1-0.4 1-0.5 1 0 1 0.6 1 0 1-0.5 1-0.3 1-0.1 1-0.7 1-0.6 1 0.3 1 0 1-0.7 1-0.9 1-0.4 1 0.4 1-0.1 1-0.9 1-0.7 1-0.6 1-0.3 1-0.3 1-0.1 1 0.2 1 0.5 1 0.4 1 0 1 0.4 1 0.4 1 0.1 1 0.4 1 0.9 1 0.3 1 0.3 1 0.5 1 0 1 0.3 1 0.4 1 0.3 1 0 1-0.2 1 0.1 1 0 1-0.1 1 0 1-0.1 1-0.2 1 0.2 1 0.3 1 0 1 0 1-0.4 1-0.3 1-0.1 1-0.3 1-0.1 1 0.1 1 0 1 0 1 0.4 1-0.1 1-0.5 1 0 1 0.1 1 0.1 1 0.4 1-0.3 1-0.6 1-0.7 1-0.5 1 0.2 1-0.1 1-0.1 1 0 1 0.2 1 0 1-0.3 1-0.6 1-0.6 1-0.3 1-0.5 1-0.5 1-0.2 1-0.8 1-0.7 1 0.3 1-0.5 1-1.4 1-0.6 1-0.2 1-1.6 1-2 1-0.7 1-0.6 1-1.5 1-1.9 1-2 1-2.7 1-3.5 1-3.7 1-4 1-5.1 1-5.9 1-7.2 1-9.7 1-12 1-14.2 1-16.9 1-20.4 1-23.6 1-25 1-25.4 1-23.6 1-17.3 1-6.5 1 5.9 1 17.2 1 24 1 25.6 1 25 1 23.2 1 20.4 1 17.1 1 14.2 1 11.7 1 10 1 7.9 1 5.8 1 5.1 1 4.3 1 3 1 2.8 1 2.7 1 2.2 1 1.7 1 1.5 1 1.4 1 0.9 1 0.6 1 1.2 1 1.3 1 0.8 1 1 1 1 1 0.5 1 0.2 1 0.3 1 0.5 1 0.2 1 0.4 1 0.7 1 0.4 1 0.6 1 0.1 1-0.1 1 0.5 1 0.2 1-0.4 1-0.1 1 0.4 1 0.5 1 0.4 1-0.1 1-0.1 1 0.4 1 0.6 1 0.2 1-0.4 1-0.2 1 0.4 1 0.3 1 0.2 1 0.4 1-0.2 1-0.6 1 0.1 1 0.6 1 0.2 1-0.1 1-0.2 1-0.2 1 0.5 1 0.5 1-0.4 1-0.4 1 0 1 0.2 1 0.4 1 0.5 1 0.2 1-0.4 1-0.4 1 0.1 1 0 1 0 1 0.1 1-0.1 1-0.1 1 0.3 1-0.1 1-0.1 1 0.2 1 0.3 1 0.4 1-0.1 1-0.4 1-0.3 1 0.2 1 0.2 1 0 1-0.2 1-0.3 1 0.4 1 0.5 1-0.1 1 0 1-0.1 1-0.4 1-0.1 1 0.5 1 0.4 1-0.2 1-0.2 1 0.1 1-0.1 1-0.7 1-0.5 1 0.3 1 0.2 1 0.2 1 0 1 0.2 1 0.4 1 0.1 1 0.1 1 0.2 1-0.3 1-0.1 1 0.2 1-0.6 1 0 1 0.6 1 0.2 1 0 1 0.1 1-0.1 1-0.3 1-0.3 1 0 1 0.2 1 0.1 1 0 1 0.6 1 0.3 1-0.6 1 0 1 0.3 1-0.2 1-0.2 1 0.2 1 0 1-0.3 1-0.1 1 0.3 1 0.3 1 0.3 1 0 1-0.4 1-0.3 1 0 1 0.1 1-0.1 1-0.4 1-0.2 1 0.2 1 0.6 1 0.4 1-0.3 1-0.6 1 0 1 0.2 1 0.1 1 0.1 1 0.2 1-0.3 1-0.5 1-0.3 1 0.1 1 0.1 1 0.3 1 0.1 1-0.2 1 0.1 1 0.4 1 0.4 1-0.4 1-0.6 1 0.3 1 0.3 1-0.2 1 0 1 0.3 1 0.1 1-0.3 1-0.3 1-0.2 1-0.3 1 0 1 0.2 1 0.1 1 0.5 1 0.7 1-0.4 1-0.9 1-0.4 1 0.1 1-0.1 1 0.2 1 0.5 1 0.3 1 0.4 1 0.6 1-0.5 1-0.4 1-0.1 1-0.2 1-0.2 1 0.3 1 0.3 1-0.4 1-0.5 1-0.1 1 0.2 1 0.5 1 0.3 1 0.1 1 0.1 1-0.2 1 0 1 0.1 1-0.3 1-0.3 1 0.2 1-0.4 1 0 1 0.5 1 0.3 1 0.2 1-0.3 1-0.4 1 0.1 1 0.3 1 0.5 1 0.2 1-0.5 1-0.4 1 0.2 1 0 1-0.4 1 0 1 0.5 1 0.1 1-0.4 1-0.4 1 0 1 0.5 1-0.1 1-0.6 1 0 1 0.5 1 0.6 1-0.2 1-0.3 1 0.6 1 0 1-1.1 1-0.3 1 0.7 1 0.1 1-0.1 1 0.2 1 0.5 1 0.2 1-0.3 1-0.3 1 0 1-0.1 1-0.2 1 0.3 1 0 1-0.1 1 0.2 1 0.2 1 0.4 1-0.1 1-0.6 1-0.4 1 0.1 1 0.1 1 0.1 1-0.1 1 0.1 1 0.4 1 0.1 1-0.1 1 0.2 1-0.3 1-0.6 1 0.2 1 0.2 1-0.3 1 0 1 0.2 1 0.2 1 0.1 1 0.3 1-0.2 1-0.5 1-0.1 1 0.2 1-0.1 1 0.1 1 0.3 1 0.2 1 0 1-0.1 1-0.2 1-0.2 1-0.1 1 0.1 1-0.1 1-0.5 1-0.2 1 0.8 1 0.3 1-0.3 1-0.2 1 0.1 1 0.2 1 0.2 1 0.1 1-0.3 1-0.2 1 0.1 1-0.1 1-0.2 1-0.3 1 0.3 1 0.3 1-0.1 1 0.1 1 0.2 1 0.2 1 0.1 1-0.3 1-0.3 1-0.3 1-0.5 1 0.2 1 0.6 1 0.3 1 0.1 1-0.2 1 0 1 0.2 1 0.2 1-0.2 1-0.3 1 0.1 1 0.2 1 0.1 1 0.2 1-0.1 1-0.4 1-0.1 1 0.2 1 0.1 1 0.2 1 0.1 1-0.5 1-0.4 1 0.2 1 0.3 1 0 1 0.1 1-0.1 1-0.3 1-0.1 1 0.2 1 0.3 1-0.3 1-0.3 1 0.1 1 0.1 1-0.4 1 0.2 1 0.7 1 0.1 1-0.3 1-0.3 1-0.3 1 0.3 1 0.1 1-0.7 1-0.2 1 0.4 1 0.5 1 0.1 1 0 1 0.2 1-0.3 1-0.5 1 0 1 0.3 1 0.2 1 0 1 0.1 1 0.3 1 0.1 1-0.3 1-0.4 1 0 1 0.4 1 0.2 1-0.6 1-0.4 1 0.2 1 0.1 1-0.1 1 0.3 1 0.1 1-0.3 1-0.3 1-0.1 1-0.1 1 0.2 1 0.6 1 0.1 1-0.5 1-0.6 1-0.3 1 0.2 1 0.3 1 0 1 0 1 0 1-0.4 1-0.1 1-0.2 1-0.9 1-0.6 1-0.1 1-0.4 1-0.4 1-0.5 1-0.7 1-0.5 1-0.7 1-1 1-1.3 1-1.4 1-1.2 1-0.6 1-0.7 1-0.7 1-0.6 1-0.4 1-0.4 1-0.1 1 0.7 1 1.1 1 1 1 0.7 1 0.7 1 1 1 0.8 1 0.8 1 1.1 1 1.3 1 0.9 1 0.4 1 0.9 1 0.8 1 0.2 1 0.2 1 0.1 1 0.3 1 0.5 1 0.2 1-0.3 1 0.1 1 0.6 1 0.2 1 0 1 0.2 1-0.1 1-0.3 1-0.3 1-0.1 1 0.3 1 0.1 1 0.4 1 0.4 1-0.1 1-0.5 1-0.2 1 0.5 1 0.2 1-0.3 1-0.1 1-0.1 1 0 1-0.2 1-0.2 1 0 1 0.3 1 0.6 1 0.2 1-0.3 1-0.1 1 0 1 0.1 1-0.1 1-0.1 1-0.2 1-0.3 1 0 1 0.3 1 0.2 1 0.3 1 0.3 1-0.3 1-0.2 1 0.3 1 0.4 1 0.2 1-0.4 1-0.5 1 0.1 1 0.3 1 0 1-0.1 1 0.1 1 0.3 1 0.2 1-0.3 1-0.6 1-0.6 1 0.1 1 0.6 1-0.2 1-0.6 1 0.4 1 0.8 1 0 1-0.3 1 0 1 0 1 0 1 0.4 1-0.1 1-0.5 1-0.4 1-0.2 1 0.3 1 0.9 1 0.3 1-0.3 1-0.2 1-0.3 1 0 1 0.3 1-0.1 1-0.4 1-0.5 1 0 1 0.3 1 0.2 1 0 1 0 1 0.1 1 0.2 1 0.1 1-0.2 1-0.2 1 0.2 1 0.2 1-0.2 1-0.4 1 0 1 0.5 1 0.3 1 0 1-0.1 1 0 1-0.2 1-0.3 1 0.1 1 0.4 1 0.1 1-0.3 1-0.4 1-0.2 1 0.3 1 0.1 1-0.1 1-0.1 1-0.1 1 0.2 1 0.4 1 0.2 1-0.2 1-0.1 1-0.1 1-0.2 1-0.1 1 0.5 1 0.4 1-0.1 1-0.4 1-0.2 1-0.1 1 0.2 1 0.1 1 0.1 1 0 1-0.1 1 0 1 0 1-0.1 1-0.1 1 0.2 1-0.1 1-0.5 1-0.1 1 0.5 1-0.1 1-0.6 1-0.1 1 0.5 1 0.5 1 0.2 1 0.2 1 0.4 1-0.2 1-0.7 1 0 1 0.2 1-0.6 1-0.1 1 0.6 1 0.5 1-0.3 1-0.8 1-0.1 1 0.4 1 0.1 1 0.2 1 0.3 1 0.2 1-0.3 1-0.2 1 0.2 1-0.1 1-0.3 1 0 1-0.2 1 0 1 0.6 1 0.3 1 0 1-0.2 1-0.1 1 0 1-0.1 1 0.1 1 0.1 1-0.1 1 0.1 1 0 1-0.1 1 0 1 0.1 1 0.2 1-0.4 1-0.4 1 0.3 1-0.2 1-0.3 1 0.5 1 0.2 1-0.6 1 0.2 1 0.2 1-0.3 1-0.1 1 0.3 1 0.3 1 0.1 1-0.2 1 0 1 0.2 1-0.1 1 0 1-0.1 1-0.4 1 0 1 0.1 1 0 1 0.1 1 0.4 1 0.5 1-0.3 1-0.1 1 0.2 1-0.4 1-0.7 1 0.3 1 0.3 1-0.2 1 0 1 0 1-0.2 1-0.5 1-0.2 1 0.5 1 0.6 1 0.2 1-0.4 1-0.1 1 0.3 1 0.2 1 0.1 1-0.5 1-0.7 1 0 1 0.1 1-0.1 1 0.2 1 0.1 1 0.1 1 0.1 1 0.3 1 0.1 1-0.1 1-0.3 1-0.6 1-0.1 1 0.4 1 0.2 1-0.2 1 0.2 1 0.6 1 0.3 1-0.4 1-0.2 1 0.2 1-0.1 1-0.1 1 0.1 1-0.2 1 0 1 0.2 1-0.1 1-0.5 1-0.2 1 0.3 1 0.2 1 0 1 0 1 0.3 1 0.1 1-0.3 1-0.1 1 0 1-0.3 1 0.2 1 0.3 1 0 1 0.4 1 0.4 1-0.2 1-0.3 1-0.2 1-0.2 1 0 1 0.1 1-0.1 1-0.1 1-0.4 1-0.2 1 0.4 1 0.6 1 0.3 1-0.3 1-0.2 1 0.1 1-0.1 1-0.3 1-0.4 1-0.1 1 0.5 1 0.1 1-0.7 1 0 1 0.6 1 0.1 1-0.4 1-0.5 1 0.2 1 0.5 1 0.1 1-0.3 1-0.2 1 0 1-0.3 1-0.3 1 0.3 1 0.5 1-0.2 1-0.5 1-0.2 1 0.5 1 0 1-0.8 1 0.1 1 0.5 1 0.1 1 0 1-0.7 1-0.6 1 0.6 1 0.2 1-0.4 1-0.5 1-0.2 1-0.2 1-0.9 1-0.7 1-0.1 1-0.4 1-0.7 1-1.2 1-1.3 1-1.5 1-1.4 1-1.2 1-1.7 1-1.8 1-1.6 1-2.2 1-2.2 1-2.2 1-2 1-1.8 1-1.5 1-1.3 1-0.8 1 0.1 1 0.4 1 0.6 1 1.7 1 2 1 1.9 1 1.9 1 2.4 1 1.8 1 0.7 1 0.8 1 1.4 1 1.4 1 1.3 1 1.1 1 0.9 1 0.5 1 0.6 1 0.6 1 0.6 1 1.2 1 1.3 1 0.2 1-0.2 1 0.6 1 1.1 1 0.6 1 0.6 1 1.1 1 0.1 1-0.6 1 0.4 1 0.8 1 0 1 0 1 0.7 1 0.1 1-0.9 1-0.5 1 0.4 1 0.8 1 0.4 1-0.3 1-0.2 1 0.2 1 0 1-0.5 1-0.1 1 0.7 1 0.5 1-0.1 1-0.3 1 0 1 0 1-0.3 1 0.1 1 0.1 1 0 1 0.1 1 0.3 1-0.1 1-0.1 1 0.2 1-0.1 1-0.2 1 0.1 1 0.2 1-0.2 1 0 1 0.2 1 0.1 1 0.3 1 0 1-0.4 1 0 1 0.3 1-0.1 1-0.2 1 0 1 0 1 0.2 1 0.2 1-0.3 1-0.3 1 0 1 0.1 1-0.3 1-0.4 1 0.2 1 0.9 1 0.3 1-0.1 1-0.2 1 0.1 1 0 1-0.2 1-0.3 1-0.2 1 0.1 1 0.1 1 0 1 0.3 1 0.3 1 0 1 0.2 1-0.1 1-0.9 1-0.1 1 0.5 1 0.1 1 0.2 1 0.1 1-0.2 1 0.4 1 0.3 1-0.3 1-0.6 1-0.1 1 0.3 1 0.3 1-0.3 1-0.3 1 0.3 1 0.1 1-0.1 1 0 1 0.1 1 0.3 1 0 1-0.2 1-0.2 1-0.1 1 0.1 1 0.2 1 0.1 1-0.5 1-0.1 1 0.9 1 0.4 1-0.4 1-0.3 1 0.4 1 0.2 1-0.5 1-0.2 1 0.1 1-0.1 1-0.2 1-0.1 1 0 1 0.1 1 0.5 1-0.1 1-0.8 1-0.3 1 0.6 1 0.2 1 0 1 0.4 1-0.2 1-0.5 1-0.2 1 0.2 1 0.3 1 0.3 1 0.1 1-0.2 1 0.1 1 0.3 1-0.3 1-0.2 1 0 1-0.1 1 0 1-0.1 1-0.1 1 0.2 1 0.2 1 0" stroke="#C074E0"/>
<path d="M163.0 733.2l1-0.3 1-1 1 0.3 1 0.9 1 0.2 1 0 1-0.1 1-0.2 1-0.2 1-0.3 1-0.5 1 0.1 1 0.3 1 0.2 1 0.5 1 0.4 1-0.2 1-0.3 1-0.2 1-0.6 1-0.2 1 0.4 1-0.1 1-0.7 1 0 1 0.5 1 0.3 1 0.3 1 0.1 1-0.2 1 0.1 1 0 1 0 1-0.1 1-0.3 1-0.2 1 0.1 1 0.2 1-0.1 1 0.1 1 0.4 1-0.3 1-0.3 1 0.5 1 0.2 1-0.3 1-0.1 1-0.4 1-0.2 1 0.5 1 0.3 1-0.4 1-0.4 1-0.5 1-0.1 1 0.5 1 0.4 1-0.1 1 0.2 1 0.2 1-0.1 1 0.1 1-0.1 1-0.4 1-0.3 1-0.2 1 0.3 1 0.2 1-0.4 1-0.2 1 0.2 1 0.1 1-0.1 1 0 1 0 1-0.2 1 0 1 0.3 1 0.1 1-0.5 1 0.1 1 0.4 1-0.5 1-0.3 1 0.3 1 0.2 1-0.1 1-0.2 1 0.1 1 0.4 1-0.3 1-0.3 1 0.1 1-0.6 1-0.5 1 0.2 1 0.3 1 0.1 1 0.1 1 0 1-0.3 1 0.1 1-0.2 1-1.1 1-0.5 1 0.3 1-0.5 1-0.4 1 0.2 1-0.2 1-0.2 1 0.7 1 0.5 1-0.6 1-0.8 1-0.7 1-0.5 1-0.3 1-0.4 1-0.5 1-0.5 1-0.4 1-0.6 1-1.4 1-2.1 1-1.6 1-1.1 1-1.9 1-2.7 1-4 1-6 1-9.5 1-15.4 1-24.1 1-35.2 1-48.7 1-63.6 1-76.2 1-82.3 1-77.6 1-57.7 1-21.7 1 21.3 1 57.2 1 77.5 1 82.5 1 76 1 64 1 49.4 1 34.7 1 23.8 1 15.8 1 9.3 1 6.1 1 4 1 2.3 1 1.4 1 1.7 1 1.9 1 1 1 0.5 1 1 1 1.1 1 0.8 1 0.3 1 0 1 0.4 1 0.7 1 1.1 1 0.5 1-0.6 1-0.4 1 0.1 1 0 1 0 1-0.2 1-0.5 1-0.4 1 0 1-0.2 1-0.4 1-0.4 1-1 1-1.2 1-1.5 1-2.3 1-2.7 1-4.5 1-8.2 1-12.1 1-17.1 1-24.2 1-31.3 1-35.6 1-34.8 1-25.9 1-7.1 1 15.3 1 30.6 1 35.8 1 34.5 1 28.7 1 21.6 1 14.9 1 9.8 1 6.8 1 5 1 3.2 1 1.9 1 1.4 1 0.8 1 0.4 1 0.1 1 0.8 1 0.6 1 0.2 1 0.5 1 0.9 1 0.1 1-0.2 1 0.5 1 0.2 1-0.1 1 0.1 1-0.1 1-0.4 1 0.5 1 0.9 1 0.4 1-0.2 1-0.4 1 0.2 1 0.5 1 0.1 1-0.4 1 0.1 1 0.6 1 0 1-0.4 1-0.1 1 0.4 1 0.7 1 0 1-0.7 1 0 1 0.9 1 0.4 1-0.2 1-0.6 1-0.9 1 0.1 1 0.6 1 0.2 1-0.1 1-0.2 1 0 1 0.3 1-0.1 1 0.1 1 0.1 1 0.3 1 0.3 1-0.2 1-0.7 1-0.2 1 0.3 1 0.2 1-0.1 1 0.3 1 0.3 1-0.3 1-0.5 1-0.1 1 0.1 1 0.5 1 0 1-0.7 1 0 1 0.3 1 0.3 1 0.4 1-0.2 1-0.4 1 0.1 1 0.4 1 0.1 1-0.1 1-0.5 1-0.8 1-0.2 1 0.5 1 0.5 1 0.1 1 0.2 1 0.1 1 0.1 1 0.1 1-0.5 1-0.6 1 0.4 1 0.5 1-0.1 1 0.4 1 0.1 1-0.6 1-0.3 1-0.1 1 0.1 1-0.2 1-0.3 1 0.1 1 0.1 1 0.1 1 0.1 1-0.1 1 0 1 0.7 1 0.3 1-0.8 1-0.9 1-0.2 1 0.1 1-0.4 1-1 1-1.4 1-1.2 1-0.9 1-1.2 1-2.2 1-2 1-0.2 1 0.6 1 0.3 1 0.6 1 2.2 1 2.4 1 1.4 1 0.6 1 0.4 1 0.9 1 0.9 1 0.7 1 0.2 1 0.1 1 0 1-0.4 1 0 1 0.5 1 0.2 1 0.1 1 0.3 1-0.3 1-0.4 1 0 1-0.2 1-0.2 1 0.3 1 0.8 1-0.1 1-0.5 1 0.5 1 0.2 1-0.3 1 0.4 1 0.4 1-0.4 1-0.1 1-0.1 1-0.7 1-0.5 1 0.2 1 0.6 1 0.2 1-0.5 1-0.2 1 0.4 1 0.2 1 0.1 1-0.1 1-0.1 1 0 1-0.1 1-0.3 1 0.2 1 1.2 1 0.7 1-1 1-1 1 0.3 1 0.2 1-0.6 1 0 1 0.1 1-0.2 1 0.3 1 0.4 1-0.1 1 0.1 1 0.3 1-0.8 1-0.3 1 0.9 1 0.6 1-0.4 1-0.5 1-0.5 1 0.2 1 0.9 1 0.2 1-0.5 1-0.6 1-0.4 1-0.1 1 0.3 1 0.3 1-0.1 1 0.1 1 0.4 1 0.1 1-0.2 1 0 1-0.4 1-0.5 1 0.2 1 0.2 1 0.1 1 0.1 1 0.1 1 0.2 1-0.1 1-0.1 1 0 1 0 1 0.2 1 0.1 1-0.2 1-0.6 1-0.3 1 0.2 1-0.1 1-0.4 1-0.1 1 0.2 1 0 1 0.3 1 0.4 1 0.2 1-0.2 1-0.7 1-0.2 1 0.5 1 0.7 1-0.2 1-0.7 1 0.1 1 0.1 1-1 1-0.3 1 0.1 1-0.9 1-1.2 1-0.9 1-1.8 1-3.2 1-3.9 1-3.6 1-3.7 1-3.9 1-3 1-0.7 1 1.7 1 3.3 1 4.1 1 3.9 1 3.6 1 3.2 1 1.9 1 1.6 1 1.4 1 0.3 1 0.4 1 0.9 1 0.5 1 0.3 1 0.8 1 0.4 1 0 1 0.2 1-0.3 1-0.9 1-0.7 1 0.3 1 0.9 1 0.2 1-0.2 1 0.3 1 0.1 1-0.6 1-0.5 1 0.1 1 0.5 1 0.3 1-0.1 1-0.4 1-0.2 1-0.1 1 0 1 0.1 1-0.5 1-1.1 1-0.9 1-0.6 1-0.2 1-0.1 1 0.2 1 0.2 1 0.2 1 0.6 1 1.3 1 1.2 1 0.1 1-0.1 1 0 1 0.3 1 0.4 1-0.5 1-0.6 1 0 1 0.3 1-0.2 1-0.1 1-0.1 1 0.1 1 0.1 1 0.2 1 0.2 1-0.9 1-0.2 1 0.7 1 0.2 1-0.2 1-0.1 1-0.1 1-0.2 1-0.2 1-0.4 1-0.5 1-0.3 1-0.4 1-0.6 1-0.4 1-0.4 1-0.8 1-1 1-1.1 1-0.7 1-0.5 1-0.5 1-0.2 1-0.2 1-0.8 1-0.6 1-0.4 1-0.9 1-0.6 1-1 1-1.8 1-2.1 1-2 1-1.9 1-1.6 1-1.4 1-0.3 1 2.2 1 3.1 1 2.4 1 2.6 1 2.6 1 1.8 1 1.8 1 1.6 1 0.8 1 0.7 1 0.4 1-0.1 1 0.3 1 0.2 1 0.2 1 0.4 1-0.3 1-0.6 1-0.3 1 0.4 1 0.4 1-0.3 1-0.1 1-0.2 1-0.6 1-0.2 1-0.1 1-0.2 1-0.1 1 0.1 1 0 1-0.1 1 0 1 0 1-0.4 1-0.1 1 0.2 1 0.2 1 0.2 1-0.1 1-0.2 1 0 1 0.1 1 0 1 0.1 1-0.1 1-0.4 1 0.1 1 0.6 1 0.5 1-0.1 1-0.5 1 0.6 1 0.7 1 0 1 0 1-0.1 1 0 1-0.2 1-0.9 1-0.6 1 0.2 1-0.3 1-0.9 1-0.7 1-1 1-0.9 1-0.3 1-0.1 1 0.3 1 1 1 1.2 1 1.1 1 1.2 1 0.8 1 0.8 1 0.3 1-0.7 1-0.2 1 0.2 1-0.5 1-0.7 1-1.3 1-2.4 1-2.9 1-3.6 1-4 1-3.8 1-3.7 1-3 1-1.4 1 0.7 1 2.1 1 3.2 1 4.3 1 4.6 1 3.7 1 2.9 1 2.4 1 1.6 1 1.1 1 1.4 1 1.1 1 0.5 1 0.6 1 0.2 1 0 1-0.1 1 0.2 1 0.4 1-0.2 1-0.2 1 0.3 1 0.6 1 0.3 1-0.2 1-0.3 1-0.1 1-0.3 1-0.1 1 0.5 1 0.7 1 0.1 1-0.4 1-0.1 1 0.3 1-0.1 1 0.2 1 0.1 1-0.2 1-0.4 1-0.3 1 0.1 1 0 1 0.3 1 0.4 1 0.4 1-0.2 1-0.8 1 0 1 0.5 1 0.1 1 0.1 1-0.3 1-0.3 1 0 1 0.1 1 0 1 0.2 1 0.1 1-0.2 1-0.1 1 0.2 1 0.2 1 0.3 1 0 1-0.4 1 0 1 0.3 1 0 1-0.4 1 0.1 1-0.1 1-0.4 1 0.1 1 0.3 1 0.2 1-0.1 1 0.1 1 0 1-0.2 1-0.5 1 0.1 1 0.3 1-0.3 1-0.2 1 0.6 1 0.4 1-0.2 1-0.1 1 0.1 1 0 1 0.4 1-0.1 1-0.4 1 0.3 1 0.2 1-0.1 1 0.2 1 0.4 1 0.3 1-0.4 1-0.4 1-0.3 1-0.3 1 0.3 1 0.4 1-0.2 1-0.2 1 0.4 1 0.2 1-0.7 1-0.4 1 0.1 1-0.2 1-0.3 1 0.7 1 0.5 1-0.6 1-0.2 1 0.6 1 0 1-0.6 1 0 1 0.6 1 0.2 1-0.2 1-0.4 1 0.1 1 0.4 1-0.3 1-0.4 1-0.1 1-0.3 1 0.3 1 0.8 1 0.2 1-0.1 1-0.4 1-0.5 1 0.2 1 0.9 1 0.4 1-0.6 1-0.8 1 0.1 1 0.7 1 0 1-0.6 1 0.3 1 0.6 1-0.1 1-0.6 1-0.1 1 0 1-0.5 1-0.3 1 0.6 1 0.8 1 0.2 1-0.5 1-0.9 1-0.4 1 0.4 1 0.7 1 0.2 1-0.3 1-0.4 1-0.5 1-0.1 1 0.5 1 0 1-0.4 1 0.1 1 0.4 1 0 1-0.1 1 0 1 0.4 1 0.6 1-0.1 1-0.1 1 0.2 1 0.2 1-0.3 1-0.4 1 0.3 1-0.1 1-0.4 1 0.4 1 0.2 1-0.1 1-0.1 1-0.7 1-0.3 1 0.6 1 0.7 1 0 1-0.4 1-0.2 1 0.3 1 0.2 1-0.4 1-0.1 1 0.4 1 0.2 1 0.1 1 0.1 1-0.4 1-0.8 1-0.1 1 0.8 1 0.2 1 0 1 0.3 1 0.2 1 0.1 1-0.2 1-0.3 1-0.2 1-0.1 1-0.1 1 0.3 1 0.4 1-0.1 1-0.4 1-0.5 1-0.1 1 0.1 1 0.3 1 0.3 1 0.2 1 0.1 1-0.1 1-0.5 1 0 1 0.5 1-0.1 1-0.4 1 0 1 0.6 1 0.1 1-0.3 1-0.4 1-0.2 1 0.3 1 0.3 1 0.2 1 0 1 0 1 0 1-0.2 1-0.1 1-0.3 1-0.6 1 0 1 0.4 1 0.5 1 0.3 1 0.1 1-0.3 1-0.2 1-0.1 1-0.3 1 0 1 0.1 1 0.1 1-0.1 1 0.4 1 0.7 1 0.4 1 0 1-0.7 1-0.6 1-0.1 1-0.2 1-0.1 1 0.2 1 0 1-0.5 1-0.1 1 0.3 1 0.4 1-0.1 1-0.2 1 0.3 1 0.8 1 0.4 1-0.2 1-0.4 1-0.4 1-0.1 1-0.2 1 0.1 1 0.3 1 0.3 1 0.2 1-0.2 1-0.3 1-0.5 1 0.1 1 0.4 1 0.1 1 0.1 1-0.4 1 0.1 1 0.4 1-0.6 1 0 1 0.6 1-0.1 1 0 1 0.4 1-0.6 1-0.5 1 0.5 1 0.1 1 0.1 1 0 1-0.4 1-0.1 1 0.4 1 0.1 1-0.1 1 0.4 1-0.2 1-0.5 1 0.2 1 0.6 1 0.2 1 0.1 1-0.2 1-0.3 1-0.5 1-0.4 1 0.5 1 0.6 1 0 1-0.4 1-0.3 1 0.3 1 0.3 1 0.1 1 0 1 0 1 0.5 1 0.5 1-0.4 1-0.8 1-0.5 1 0.5 1 0.3 1-0.2 1-0.3 1-0.7 1-0.1 1 0.5 1 0.2 1-0.2 1 0.1 1 0.3 1-0.2 1 0.3 1 0.3 1-0.5 1-0.3 1 0 1 0 1 0 1 0.3 1 0.6 1 0.8 1-0.3 1-0.6 1 0.1 1 0.4 1-0.2 1-0.6 1 0 1 0.4 1-0.1 1-0.1 1 0.3 1 0 1-0.1 1-0.3 1-0.2 1 0.4 1 0.1 1-0.6 1-0.3 1 0 1-0.2 1-0.1 1 0.4 1 0.9 1 0 1-0.7 1-0.5 1 0.6 1 0.5 1-0.6 1-0.5 1 0.6 1 0.3 1 0 1-0.2 1-0.2 1 0.4 1 0.1 1-0.9 1-0.6 1 0.2 1 0.5 1 0.4 1-0.1 1-0.1 1 0.1 1 0.1 1 0.2 1 0.2 1-0.2 1-0.3 1 0 1 0.5 1 0.6 1-0.1 1-0.6 1-0.3 1-0.6 1-0.1 1 0.5 1 0.1 1-0.2 1 0.3 1 0.1 1-0.8 1-0.5 1 0.3 1 0.5 1-0.2 1-0.3 1-0.1 1 0 1-0.1 1 0 1 0.1 1-0.2 1-0.7 1-0.4 1-0.3 1-0.2 1 0.5 1 0.1 1-0.2 1 0.4 1 0 1-0.7 1-0.1 1 0.7 1 0.7 1 0.3 1 0.3 1 0.2 1 0 1-0.2 1 0 1 0.5 1 0.5 1 0.1 1-0.3 1-0.2 1 0.1 1-0.1 1-0.1 1 0.3 1 0 1-0.3 1 0.3 1 0.6 1-0.1 1-0.7 1 0.1 1 0.7 1 0.2 1-0.4 1-0.5 1 0 1 0.1 1-0.2 1-0.2 1 0.5 1 0.9 1-0.3 1-0.3 1 0.1 1-0.1 1-0.1 1 0 1-0.2 1 0.1 1 0.5 1-0.1 1-0.2 1 0.3 1-0.5 1-0.3 1 0.6 1 0.3 1-0.3 1-0.2 1 0.5 1 0.1 1-0.2 1 0 1 0.3 1 0.2 1-0.5 1 0 1 0.4 1-0.3 1-0.5 1 0 1-0.2 1-0.2 1 0.5 1 0.5 1 0.1 1 0 1-0.2 1-0.3 1-0.2 1-0.1 1 0.4 1 0.3 1-0.1 1-0.6 1-0.3 1 0.3 1-0.1 1-0.4 1 0.2 1 0.4 1 0.2 1 0.5 1 0 1-0.7 1 0.2 1 0.8 1-0.3 1-0.6 1 0.4 1 0.1 1-0.7 1 0.3 1 0.4 1-0.4 1-0.1 1 0.1 1-0.2 1 0.4 1 0.5 1-0.6 1-0.2 1 0.5 1 0.1 1-0.3 1-0.3 1 0.2 1 0.1 1-0.6 1-0.6 1 0.3 1 0.7 1 0.2 1-0.2 1 0.1 1 0.5 1 0 1-0.5 1-0.1 1 0.4 1 0.4 1-0.4 1-0.5 1 0.2 1-0.1 1-0.1 1 0.3 1-0.1 1-0.4 1 0.3 1 0.7 1 0 1-0.4 1-0.2 1 0.1 1-0.2 1-0.1 1 0.2 1 0.2 1 0.4 1 0.1 1-0.3 1-0.2 1-0.2 1-0.1 1-0.2 1 0.3 1 0.3 1 0 1 0.4 1-0.2 1-0.3 1 0.3 1-0.1 1-0.4 1 0.1 1-0.1 1-0.2 1 0.3 1 0.1 1-0.1 1 0.2 1 0.1 1-0.2 1-0.4 1-0.1 1 0.2 1 0.1 1 0.2 1 0.4 1 0.1 1-0.4 1-0.3 1 0.2 1 0.2 1-0.3 1-0.3 1 0.1 1 0.1 1 0.2 1 0.3 1 0.1 1 0.1 1-0.2 1-0.3 1-0.2 1 0 1 0.2 1 0 1-0.4 1-0.3 1 0.8 1 0 1-0.6 1 0.5 1 0.6 1 0 1-0.2 1-0.3 1 0.1 1 0.5 1 0.2 1-0.2 1-0.2 1 0.1 1 0.1 1-0.4 1-0.1 1 0.6 1-0.2 1-0.5 1-0.2 1-0.1 1 0.4 1 0.1 1-0.1 1-0.2 1-0.5 1 0.5 1 0.4 1-0.2 1 0.1 1 0.5 1 0 1-0.5 1 0.2 1 0.2 1 0 1 0.1 1-0.3 1-0.4 1 0 1 0 1 0.1 1 0.2 1 0.4 1 0.1 1-0.5 1-0.2 1-0.1 1-0.3 1-0.3 1 0.2 1 0.5 1 0.2 1 0.3 1 0.3 1-0.3 1-0.2 1 0.4 1-0.2 1-0.6 1-0.1 1 0 1 0.3 1 0.4 1 0.2 1 0.1 1-0.1 1 0 1 0.3 1-0.1 1-0.1 1 0.1 1-0.4 1-0.8 1-0.2 1 0.6 1 0.3 1-0.7 1-0.3 1 0.3 1 0.4 1 0 1-0.4 1 0.4 1-0.1 1-0.9 1 0.1 1 0.7 1 0.3 1 0.1 1 0 1-0.2 1 0 1 0.5 1-0.3 1-0.4 1 0.2 1 0 1-0.3 1-0.3 1-0.2 1 0 1-0.1 1 0.1 1 0.7 1 0.3 1-0.4 1-0.4 1 0.4 1 0.5 1-0.2 1 0.1 1 0.2 1-0.2 1-0.3 1-0.1 1 0 1 0.1 1 0.3 1-0.2 1 0.2 1 0.7 1-0.2 1-0.6 1 0.2 1-0.2 1-0.2 1 0.6 1 0 1-0.5 1-0.5 1-0.2 1 0.8 1 0.6 1-0.2 1 0.2 1-0.4 1-0.5 1-0.2 1-0.5 1 0 1 0.9 1 0.3 1-0.3 1-0.3 1-0.1 1 0.5 1 0 1 0.4 1 0.7 1-0.5 1-0.4 1 0.4 1-0.4 1-0.2 1 0.3 1-0.4 1-0.4 1 0.1 1 0.3 1 0.4 1-0.1 1-0.4 1 0.1 1-0.3 1-0.6 1 0 1 0.9 1 0.2 1-0.6 1 0.1 1 0.1 1-0.7 1-0.8 1 0.4 1 0.4 1-0.3 1-0.1 1-0.4 1-0.3 1 0 1-1 1-1.2 1-0.9 1-1 1-0.6 1-0.8 1-0.5 1-0.1 1-0.5 1-0.6 1 0.2 1 1.1 1 1 1 0.2 1 0.5 1 0.7 1 0.5 1 0.9 1 1.1 1 0.6 1 0.1 1 0.1 1 0.8 1 1.2 1 0.6 1-0.5 1-0.6 1-0.1 1 0.6 1 0.3 1-0.5 1-0.5 1 0 1 0.2 1 0.5 1 0.5 1 0.1 1-0.3 1-0.3 1 0.3 1 0.4 1-0.4 1-0.6 1 0.1 1 0.2 1-0.3 1 0 1 0.5 1 0 1-0.1 1 0.1 1 0 1-0.5 1-0.3 1 0.4 1 0.4 1-0.1 1 0.5 1 0.8 1 0 1-0.2 1-0.3 1-0.4 1-0.2 1 0.4 1 0.2 1 0.2 1 0 1-0.2 1-0.2 1-0.2 1-0.2 1 0.1 1 0.2 1 0.1 1-0.3 1-0.1 1 0.4 1 0.1 1-0.2 1-0.3 1-0.5 1 0 1 0.3 1-0.1 1-0.3 1 0.2 1 0.6 1 0.4 1-0.3 1-0.3 1 0.5 1 0.5 1-0.4 1-0.6 1-0.3 1 0.4 1 0.3 1-0.8 1-0.4 1 0.7 1 0.1 1-0.1 1 0.3 1 0.2 1-0.3 1-0.4 1 0.3 1 0.9 1 0 1-0.7 1-0.3 1 0.2 1 0.1 1 0 1 0.4 1-0.5 1-1 1 0.2 1 1 1 0.9 1 0 1-0.9 1-0.5 1 0.1 1 0.2 1-0.1 1 0.2 1 0.1 1-0.4 1-0.2 1 0 1-0.2 1 0.4 1 0.6 1-0.3 1-0.5 1 0.1 1 0.2 1 0.2 1 0.1 1-0.5 1 0 1 0.4 1-0.1 1 0.1 1 0.1 1-0.2 1 0.2 1 0 1 0 1 0 1-0.2 1 0 1 0 1 0.4 1 0.1 1-0.2 1 0.1 1-0.3 1-0.4 1-0.1 1 0.2 1 0.1 1 0.1 1 0.1 1-0.2 1-0.1 1-0.3 1 0 1 0.4 1 0.1 1 0 1 0.1 1 0 1-0.3 1-0.1 1-0.2 1-0.2 1 0.2 1 0.5 1 0.4 1 0 1-0.7 1-0.6 1 0.3 1 0.7 1 0.2" stroke="#DA9800"/>
<path d="M163.0 464.2l1 0.8 1 0.5 1 0.4 1 0.6 1 0.6 1 1 1 0.8 1 0 1 0.3 1 0.7 1 0.5 1 0.1 1 0.1 1 0.5 1 0.3 1-0.1 1 0 1 0 1 0.1 1 0.4 1 0.4 1 0.3 1 0.5 1 0.3 1-0.3 1-0.4 1 0.5 1 0.5 1 0 1-0.2 1 0.1 1 0.1 1 0.3 1 0.4 1-0.1 1 0.2 1 0.2 1-0.2 1 0 1 0.2 1-0.1 1-0.2 1 0.5 1 0.1 1-0.2 1 0.2 1 0 1 0.1 1 0.5 1-0.2 1-0.6 1 0.2 1 0.2 1 0 1 0.1 1 0 1 0.3 1 0 1-0.4 1-0.1 1 0 1-0.1 1-0.2 1 0.1 1 0.3 1 0.5 1-0.2 1-0.6 1 0 1 0.2 1-0.4 1 0.1 1 0.6 1 0.4 1-0.1 1-0.4 1-0.2 1 0.3 1 0.3 1-0.3 1-0.2 1 0.2 1-0.1 1-0.2 1-0.1 1 0.1 1 0.3 1 0.3 1 0 1-0.2 1 0 1 0 1 0.1 1 0 1-0.3 1-0.2 1-0.1 1-0.4 1-0.1 1 0.3 1 0.3 1 0.5 1 0.4 1-0.6 1-0.3 1 0.3 1 0.1 1-0.1 1 0 1 0.2 1-0.1 1-0.4 1 0.1 1 0 1-0.1 1 0.1 1 0.1 1 0.3 1 0 1-0.2 1-0.2 1-0.2 1-0.4 1 0.2 1 0.2 1-0.1 1 0.2 1 0 1 0.1 1 0.2 1 0.1 1-0.2 1-0.1 1 0.6 1 0.2 1-0.4 1-0.3 1-0.1 1 0.1 1 0.2 1-0.1 1-0.2 1-0.1 1-0.2 1 0.2 1 0.5 1 0.1 1 0 1-0.2 1-0.3 1-0.1 1 0.1 1 0.1 1 0 1-0.2 1-0.2 1 0.3 1 0.5 1-0.4 1-0.2 1 0.5 1 0.1 1-0.5 1-0.1 1-0.1 1-0.1 1 0.5 1 0.2 1-0.2 1-0.1 1 0.1 1-0.1 1-0.1 1-0.3 1 0.2 1 0.5 1-0.1 1 0 1-0.1 1-0.2 1 0.1 1 0.2 1-0.1 1 0 1 0.2 1 0.3 1 0 1-0.3 1-0.5 1 0 1 0.6 1 0.2 1-0.2 1 0 1 0.2 1 0.1 1-0.2 1-0.1 1 0 1-0.2 1 0.1 1 0.3 1 0.2 1 0.3 1-0.4 1-0.9 1-0.2 1 0.4 1 0 1 0.2 1 0 1-0.7 1-0.2 1 0.7 1 0.2 1-0.1 1-0.1 1-0.3 1-0.1 1 0.2 1-0.2 1 0 1 0.5 1 0.2 1-0.1 1-0.3 1-0.2 1 0 1 0.1 1 0.2 1 0.1 1 0.1 1 0.5 1 0 1-0.5 1 0.1 1 0 1-0.3 1-0.3 1 0.3 1 0.4 1-0.1 1-0.1 1 0.1 1 0.2 1-0.4 1-0.7 1 0 1-0.4 1-0.1 1 0.9 1 0.7 1-0.2 1-0.6 1 0.2 1 0.5 1 0 1-0.1 1-0.1 1 0.2 1 0.2 1-0.1 1-0.3 1-0.2 1 0.1 1 0.2 1 0 1-0.3 1 0 1 0 1 0.1 1 0.7 1 0.1 1-0.5 1 0.1 1-0.4 1-0.5 1 0.3 1 0.4 1-0.2 1-0.2 1 0.1 1 0.3 1 0.3 1-0.1 1 0 1 0.1 1-0.3 1-0.5 1 0.1 1 0.7 1 0.3 1-0.1 1-0.2 1-0.2 1-0.1 1-0.1 1 0 1 0.3 1 0.3 1-0.2 1-0.4 1-0.2 1 0.2 1 0.5 1 0 1-0.4 1-0.3 1-0.1 1 0.3 1 0.3 1-0.3 1-0.1 1 0.1 1-0.2 1-0.2 1 0 1 0.3 1 0.2 1 0 1 0.3 1 0.2 1-0.5 1-0.2 1 0.1 1 0 1-0.2 1 0.6 1 0.3 1-0.4 1-0.5 1 0 1 0 1-0.2 1 0.1 1 0.5 1 0 1 0.3 1 0.2 1-0.2 1 0.1 1 0.1 1-0.5 1-0.5 1-0.1 1 0.5 1 0.6 1-0.3 1-0.6 1-0.2 1 0.2 1 0.3 1 0 1 0.1 1 0 1-0.2 1 0.1 1 0 1 0.1 1 0.3 1 0.3 1-0.2 1-0.7 1-0.3 1 0.1 1-0.4 1 0.2 1 0.7 1 0.2 1-0.5 1-0.4 1 0.1 1 0.3 1 0.6 1 0.4 1-0.5 1-0.7 1-0.1 1 0.3 1-0.1 1-0.1 1 0.1 1 0.1 1 0.5 1 0.3 1-0.2 1-0.3 1-0.1 1 0 1-0.2 1-0.2 1-0.3 1 0.2 1 0.5 1 0.1 1 0.1 1-0.2 1-0.5 1 0 1 0.5 1 0.1 1 0 1 0.1 1-0.2 1-0.5 1 0.1 1 0.5 1-0.2 1-0.2 1 0.5 1 0.3 1-0.1 1-0.4 1-0.4 1 0.3 1 0.6 1 0 1-0.2 1-0.3 1-0.4 1-0.2 1 0.3 1 0.2 1-0.1 1 0.3 1-0.1 1-0.5 1 0 1 0.1 1 0.1 1-0.2 1-0.1 1 0 1-0.2 1 0 1 0.5 1 0.1 1-0.4 1 0 1-0.1 1 0 1 0.3 1 0.1 1 0 1-0.3 1-0.2 1-0.2 1-0.1 1 0 1 0 1-0.2 1-0.5 1-0.5 1-0.1 1 0.1 1-0.3 1-0.6 1-0.6 1-0.4 1-0.1 1-0.6 1-0.4 1 0.4 1 0 1-0.5 1-0.2 1 0.2 1 0.4 1 0.4 1 0.2 1 0.4 1 0.5 1 0.3 1 0.3 1 0 1-0.1 1 0.6 1 0.9 1 0.2 1 0 1 0.2 1 0.2 1 0.4 1 0.2 1-0.6 1-0.5 1 0.1 1 0.4 1 0.6 1 0.1 1-0.6 1-0.2 1 0.6 1 0 1-0.5 1 0.2 1 0.3 1 0.1 1-0.2 1-0.2 1-0.2 1 0.4 1 0.7 1 0 1-0.6 1-0.4 1-0.2 1 0.4 1 0.3 1 0 1-0.1 1-0.2 1 0.2 1 0.4 1 0.4 1 0.1 1-0.6 1-0.4 1 0 1 0 1-0.1 1 0.1 1 0 1 0.2 1 0.1 1 0 1-0.2 1-0.3 1 0 1 0.1 1 0.1 1 0.1 1-0.1 1-0.3 1 0 1-0.1 1 0 1 0 1-0.2 1 0.3 1 0.3 1-0.2 1-0.2 1-0.2 1-0.1 1 0 1 0 1-0.2 1-0.2 1 0.1 1-0.1 1-0.3 1-0.2 1-0.3 1-0.5 1 0 1 0 1-0.3 1-0.3 1-0.5 1-0.1 1 0.1 1-0.1 1-0.4 1-0.2 1 0.6 1 0.6 1 0.1 1-0.3 1-0.1 1 0.6 1-0.1 1-0.2 1 0.5 1 0.1 1 0.1 1 0.7 1 0.6 1 0 1 0.3 1 0.6 1 0 1-0.5 1-0.4 1-0.2 1 0.2 1 0.5 1 0.1 1 0 1 0 1-0.3 1 0 1 0.4 1 0.1 1 0 1-0.3 1-0.2 1-0.2 1-0.4 1-0.1 1 0.4 1 0.2 1-0.3 1-0.4 1 0 1 0 1-0.4 1-0.2 1 0.5 1 0.5 1-0.2 1-0.3 1 0 1-0.3 1-0.6 1 0.3 1 0.5 1 0.2 1 0.1 1-0.3 1-0.5 1-0.2 1-0.2 1-0.4 1-0.1 1 0.3 1 0 1-0.7 1-0.5 1 0 1-0.1 1-0.3 1-0.5 1-0.8 1-0.5 1-0.2 1-0.2 1-0.7 1-1.2 1-0.7 1-0.4 1-1.1 1-1 1-0.5 1-1 1-1.6 1-1.7 1-1.7 1-2.2 1-2.7 1-3.5 1-3.9 1-4.5 1-5.7 1-6.9 1-8.9 1-11.1 1-13 1-15.5 1-18.2 1-20.8 1-21.9 1-20.6 1-17 1-10.3 1-0.5 1 9.9 1 17.7 1 20.9 1 21.6 1 20.9 1 18.3 1 15.2 1 12.7 1 11.1 1 9.2 1 7.2 1 5.8 1 4.9 1 3.9 1 3 1 2.5 1 2 1 1.7 1 1.8 1 1.8 1 1.1 1 0.7 1 1 1 1.1 1 0.7 1 0.2 1 0.5 1 1.3 1 1.2 1 0.3 1-0.1 1 0.7 1 0.5 1-0.2 1 0.2 1 0.6 1 0.3 1 0 1 0.2 1 0.8 1 0.3 1-0.2 1-0.4 1-0.2 1 0.4 1 0.4 1 0.2 1 0.1 1-0.4 1-0.1 1 0.3 1 0.2 1 0 1 0.1 1-0.2 1 0.1 1 0.6 1 0.5 1 0.3 1 0.1 1-0.6 1-0.7 1 0 1 0.2 1 0.3 1 0 1-0.1 1 0.2 1 0.1 1 0.2 1 0.2 1-0.1 1 0 1-0.1 1-0.2 1 0 1 0.6 1 0.9 1 0.2 1-0.2 1-0.5 1-0.2 1 0.3 1-0.1 1-0.3 1 0 1 0.1 1-0.1 1-0.1 1-0.1 1 0.5 1 0.5 1-0.3 1-0.2 1 0.2 1-0.1 1-0.4 1 0.2 1 0.4 1 0 1 0.1 1 0.1 1-0.4 1-0.2 1 0.3 1 0 1-0.5 1-0.1 1 0.4 1 0.4 1 0.3 1-0.2 1-0.4 1 0.1 1 0 1-0.1 1 0.1 1-0.5 1-0.3 1 0.2 1 0.1 1 0.2 1 0.5 1 0.3 1 0.1 1-0.5 1-0.6 1 0 1 0.1 1 0.1 1 0.3 1-0.3 1-0.1 1 0.5 1 0.2 1 0 1 0.1 1 0 1 0.1 1 0.2 1-0.1 1-0.1 1-0.3 1-0.4 1 0.1 1 0.3 1-0.1 1 0 1 0.5 1-0.2 1-0.7 1-0.2 1 0.4 1 0.2 1 0 1 0 1 0.1 1 0.1 1-0.1 1 0.1 1 0.7 1 0.1 1-0.8 1-0.4 1 0.2 1 0.2 1-0.3 1 0 1 0.1 1-0.2 1-0.1 1 0 1-0.4 1 0.2 1 0.4 1 0.3 1-0.2 1-0.4 1 0.4 1 0.5 1 0.1 1-0.4 1-0.1 1 0.2 1-0.3 1-0.3 1 0.4 1 0.6 1 0.1 1-0.2 1-0.1 1-0.1 1-0.1 1 0.3 1 0.6 1-0.3 1-0.6 1 0 1 0.3 1 0.1 1-0.6 1-0.4 1 0.3 1 0.3 1 0.3 1 0.2 1 0 1-0.3 1-0.2 1 0.5 1 0.4 1-0.2 1-0.4 1 0.1 1 0.1 1-0.4 1-0.1 1 0.3 1 0 1-0.2 1 0 1 0 1 0 1-0.2 1-0.2 1 0.4 1 0.1 1-0.3 1 0.1 1 0.1 1-0.2 1-0.1 1 0.2 1 0.6 1 0.7 1-0.3 1-0.5 1-0.2 1 0 1 0.1 1 0 1-0.3 1 0.1 1 0.3 1 0.1 1-0.3 1-0.3 1 0.2 1 0.2 1-0.1 1-0.1 1-0.5 1-0.1 1 0.6 1 0.3 1-0.2 1 0.1 1 0 1-0.3 1-0.2 1 0.3 1 0.1 1-0.2 1 0.1 1-0.2 1-0.1 1 0.5 1-0.3 1-0.4 1 0.3 1 0.6 1 0 1-0.3 1 0.1 1 0 1-0.2 1 0 1 0 1-0.2 1 0 1 0.1 1 0 1-0.1 1 0.2 1 0.3 1 0.1 1 0.1 1 0.1 1 0.1 1 0 1-0.5 1-0.1 1 0.2 1 0.5 1-0.3 1-1 1 0 1 0.7 1 0.3 1-0.2 1-0.1 1 0 1 0.1 1 0 1-0.3 1-0.4 1 0.1 1 0.3 1 0.1 1-0.1 1-0.2 1 0.1 1-0.2 1-0.3 1 0 1 0.5 1 0.4 1 0.1 1-0.1 1 0 1-0.1 1-0.1 1 0.3 1 0 1-0.3 1-0.2 1 0.1 1-0.1 1 0 1 0.3 1 0 1-0.2 1-0.1 1 0.2 1 0.1 1 0.1 1 0.4 1 0 1 0.1 1-0.3 1-0.6 1 0 1 0.2 1 0 1-0.1 1-0.3 1-0.3 1 0 1 0 1 0.3 1 0.1 1-0.1 1 0.2 1 0 1-0.5 1-0.2 1 0 1-0.1 1 0.6 1 0.5 1-0.1 1-0.2 1-0.1 1 0.1 1 0.1 1 0.1 1 0.4 1 0.2 1-0.3 1-0.4 1-0.1 1 0.1 1 0.2 1 0 1 0.2 1-0.1 1-0.6 1 0.1 1 0.4 1-0.3 1-0.2 1-0.1 1 0 1 0.6 1 0.7 1-0.3 1-0.9 1-0.2 1 0.4 1 0.2 1-0.3 1 0 1 0.5 1 0 1-0.5 1-0.5 1-0.1 1 0 1 0.1 1 0.4 1 0.2 1 0.4 1 0.4 1-0.3 1-0.5 1 0.3 1 0 1-0.5 1-0.3 1 0 1 0.2 1 0.1 1-0.6 1-0.1 1 0.5 1 0.2 1 0.1 1 0 1 0 1-0.2 1-0.5 1 0 1 0.2 1 0.2 1-0.1 1-0.3 1 0 1 0.4 1-0.2 1 0 1 0.5 1-0.2 1-0.9 1 0.1 1 0.4 1-0.5 1-0.9 1-0.6 1-0.6 1-0.6 1-0.5 1-0.6 1-1.1 1-1.2 1-1.2 1-1.1 1-1.2 1-1.1 1-0.9 1-1.3 1-1.2 1-1 1-0.9 1-0.5 1 0.1 1 0.4 1 0.7 1 1.2 1 1 1 0.9 1 1.2 1 1.4 1 1.4 1 1.3 1 1.3 1 0.4 1 0.4 1 0.8 1 0.9 1 1.1 1 1 1 0.2 1-0.3 1 0.6 1 0.8 1 0.1 1 0 1 0.6 1 0.5 1-0.2 1-0.4 1 0 1 0 1-0.3 1-0.1 1 0.1 1 0.1 1 0.1 1 0.6 1 0.2 1-0.4 1-0.3 1 0.2 1 0.3 1 0.1 1-0.4 1-0.5 1-0.1 1 0.3 1 0.5 1-0.1 1-0.3 1 0.1 1 0.3 1 0.1 1-0.2 1-0.3 1-0.3 1 0.4 1 0.4 1-0.5 1 0.1 1 0.4 1-0.2 1-0.1 1 0.2 1 0.1 1-0.3 1-0.2 1 0.1 1 0.1 1 0.1 1 0.4 1 0.2 1 0 1-0.2 1 0.3 1 0.3 1 0 1-0.1 1-0.5 1 0 1-0.1 1-0.2 1 0 1 0 1-0.2 1-0.3 1 0.2 1 0.5 1 0.5 1 0 1-0.3 1-0.3 1-0.1 1 0.2 1 0.1 1 0.4 1 0.2 1-0.6 1-0.6 1-0.1 1-0.1 1 0.4 1 0.6 1-0.2 1-0.3 1 0.5 1 0.2 1-0.4 1-0.3 1 0.1 1 0.3 1 0.3 1 0.2 1 0.1 1 0.1 1-0.1 1-0.5 1-0.6 1 0.2 1 0.2 1 0.1 1 0.1 1-0.3 1 0 1 0.5 1 0.1 1-0.2 1 0.2 1 0 1-0.6 1-0.6 1 0.1 1 0.3 1 0 1 0.4 1 0.3 1-0.5 1 0 1 0.5 1-0.4 1-0.3 1 0.3 1 0.1 1-0.1 1 0.1 1-0.2 1-0.2 1 0.4 1 0.1 1-0.2 1 0.1 1 0.4 1 0.3 1-0.3 1-0.1 1-0.2 1-0.1 1 0.3 1 0.2 1 0 1-0.3 1-0.4 1 0 1 0.3 1 0.3 1 0.2 1-0.1 1 0.1 1 0 1-0.6 1-0.6 1-0.2 1 0.4 1 0.5 1 0.1 1 0.1 1 0.3 1 0.2 1-0.3 1-0.4 1-0.2 1 0.1 1 0 1-0.1 1 0.3 1 0 1-0.4 1-0.1 1 0.1 1 0.3 1 0.2 1-0.1 1-0.2 1-0.2 1 0.2 1 0.1 1 0 1-0.3 1-0.6 1 0.2 1 0.8 1 0.4 1-0.2 1-0.5 1 0 1 0.6 1 0.3 1-0.5 1-0.6 1-0.1 1 0.9 1 0.6 1-0.3 1-0.2 1-0.4 1-0.2 1 0.1 1-0.3 1 0 1 0.4 1 0.2 1-0.1 1-0.2 1-0.4 1-0.2 1 0.3 1-0.2 1-0.3 1 0.1 1 0 1-0.2 1-0.1 1 0.3 1 0.5 1 0.6 1 0 1-0.7 1-0.1 1 0.5 1-0.1 1 0.1 1 0.3 1-0.5 1-0.6 1 0.1 1 0.5 1 0 1-0.5 1 0.1 1 0.5 1 0.1 1-0.2 1 0.2 1-0.2 1-0.5 1 0.2 1 0.3 1-0.4 1-0.3 1 0.4 1 0.8 1-0.2 1-0.3 1 0.3 1-0.1 1 0.1 1 0.4 1-0.2 1-0.5 1-0.2 1 0.1 1-0.4 1 0.1 1 1 1 0.3 1-0.4 1-0.3 1 0.4 1 0.4 1-0.3 1-0.6 1-0.5 1-0.2 1-0.3 1 0.1 1 0.4 1 0.1 1 0.1 1 0.4 1 0.6 1-0.1 1-0.3 1-0.2 1-0.3 1 0 1 0.1 1-0.3 1-0.2 1 0.1 1 0.5 1 0.3 1-0.4 1-0.2 1-0.3 1-0.2 1 0.3 1 0.9 1 0.4 1-0.6 1-0.4 1 0.1 1 0 1 0.1 1 0 1 0 1-0.1 1-0.3 1-0.3 1-0.2 1 0 1 0.1 1 0.1 1 0.1 1 0.3 1-0.1 1-0.4 1-0.1 1 0.3 1 0.6 1 0.4 1-0.3 1-0.2 1-0.1 1-0.2 1 0.1 1-0.5 1-0.2 1 1.1 1 0.1 1-0.8 1-0.1 1 0.1 1-0.2 1-0.4 1 0.2 1 0.3 1 0.3 1 0 1 0.1 1 0 1-0.5 1-0.5 1-0.5 1 0.2 1 0.5 1-0.1 1-0.1 1-0.2 1-0.4 1 0 1-0.1 1 0.1 1 0.2 1-0.2 1-0.6 1-0.3 1 0 1-0.1 1 0.2 1 0 1-1 1-1.1 1-1 1-1.1 1-1.2 1-1.2 1-1.2 1-1.3 1-1.7 1-2.2 1-2.5 1-2.2 1-2.1 1-2.4 1-2.7 1-2.6 1-2.8 1-2.5 1-1.5 1-1 1-1.1 1 0.3 1 1.1 1 1.2 1 1.8 1 2.1 1 2 1 2.2 1 2.1 1 2.1 1 2.1 1 2 1 1.8 1 1.2 1 1.2 1 1.7 1 1.2 1 0.6 1 0.7 1 1 1 1.3 1 0.7 1 0.7 1 1.6 1 1.2 1 0 1 0.7 1 0.8 1 0.4 1 0.5 1 0 1 0.5 1 0.6 1-0.1 1-0.1 1 0.2 1 0.3 1 0.3 1-0.1 1 0 1-0.1 1 0.3 1-0.3 1-0.4 1 0.3 1 0.2 1 0.4 1 0.3 1-0.4 1 0 1 0.6 1 0.3 1 0 1-0.3 1-0.4 1 0.3 1 0.5 1 0 1-0.3 1-0.1 1-0.1 1 0.2 1 0.4 1-0.3 1-0.6 1 0.3 1 0.5 1 0 1-0.3 1-0.2 1-0.1 1-0.3 1 0.1 1 0.6 1 0 1 0.3 1 0.3 1-0.2 1 0.1 1 0.3 1-0.2 1-0.4 1 0.1 1-0.1 1-0.3 1 0.1 1-0.2 1-0.3 1 0.2 1 0.3 1-0.3 1-0.2 1 0.3 1 0.3 1-0.1 1-0.1 1 0.1 1-0.1 1 0.2 1 0.4 1-0.4 1 0 1 0.3 1-0.2 1-0.1 1 0.3 1-0.1 1-0.7 1-0.1 1 0.1 1 0 1 0.1 1 0.2 1 0.2 1 0 1 0.1 1 0.1 1-0.2 1 0.4 1 0.4 1-0.4 1-0.4 1-0.1 1 0.1 1 0.3 1 0.1 1-0.3 1 0.1 1 0.2 1-0.1 1-0.3 1-0.2 1-0.1 1 0.6 1 0.4 1-0.3 1-0.5 1 0.1 1 0.2 1 0.2 1 0.3 1 0.2 1-0.1 1 0 1-0.1 1-0.4 1-0.4 1 0.1 1 0.2 1-0.3 1-0.2 1 0.5 1 0 1-0.1 1 0 1 0.1 1 0 1-0.4 1 0.1 1 0.4 1 0 1-0.2 1-0.2 1 0.1 1 0.3 1 0.2 1-0.1 1 0.3 1 0 1-0.3 1-0.1 1-0.6 1-0.3 1 0.2 1 0.4 1 0.1 1 0 1 0.2" stroke="#00CCD0"/>
<path d="M163.0 481.4l1-0.1 1 0.2 1 0 1-0.1 1 0.3 1 0.4 1 0.5 1 0.4 1 0.1 1-0.3 1-0.2 1 0.3 1 0 1-0.5 1 0 1 0.3 1 0 1-0.5 1-0.1 1 0.3 1-0.2 1-0.4 1 0.3 1 0.2 1-0.1 1 0.1 1-0.2 1-0.1 1 0.4 1-0.5 1-0.5 1 0.8 1 0.5 1 0 1 0.4 1-0.1 1-1.1 1-0.8 1 0.6 1 0.7 1-0.4 1-0.6 1 0.2 1 0.5 1 0.4 1 0.3 1-0.1 1-0.5 1-0.3 1 0 1 0.1 1-0.3 1 0.4 1 0.8 1-0.1 1 0.2 1 0.5 1-0.4 1-0.6 1-0.3 1 0.1 1 0.3 1 0.1 1 0.2 1-0.4 1-0.4 1 0.2 1 0.2 1 0.3 1 0 1-0.3 1 0.2 1 0.4 1-0.4 1 0.1 1 0.3 1-0.4 1-0.8 1 0.1 1 0.9 1 0.3 1-0.4 1 0 1 0.2 1-0.1 1-0.6 1-0.2 1 0.2 1-0.1 1-0.3 1-0.2 1 0.3 1 0.1 1-0.1 1 0.3 1 0.3 1-0.3 1-0.3 1 0.2 1 0.2 1-0.4 1 0 1 0.2 1 0.2 1-0.2 1 0.2 1 0.6 1-0.4 1-0.8 1 0.1 1 0.5 1 0 1-0.2 1 0 1-0.3 1 0.1 1 0.9 1 0.2 1-0.6 1-0.2 1 0 1-0.7 1-0.6 1-0.8 1-1.9 1-3.5 1-5.4 1-7.9 1-11.6 1-15.8 1-21.7 1-27.7 1-33.4 1-38.8 1-43.2 1-45.2 1-43.8 1-39.2 1-31.7 1-20.2 1-6.6 1 6.7 1 19.3 1 31.3 1 39.7 1 43.8 1 45 1 43.4 1 39.7 1 33.9 1 27.6 1 21.6 1 15.6 1 11.5 1 8.1 1 4.8 1 3.1 1 1.9 1 1.7 1 1.3 1-0.2 1 0.1 1 0.5 1-0.4 1-0.3 1 0 1-0.1 1 0.7 1 0.5 1-0.3 1-0.4 1-0.1 1-0.4 1-0.7 1 0.4 1 0.2 1-0.5 1 0.1 1-0.3 1-0.9 1-1.4 1-2.3 1-3.9 1-5.9 1-7.7 1-10 1-12.9 1-15.2 1-16.7 1-17.5 1-17.2 1-15.2 1-11.9 1-7.1 1-1 1 5.5 1 10.8 1 14.7 1 17.5 1 18.1 1 17 1 15.7 1 13 1 10.1 1 8.2 1 6 1 4.1 1 3.4 1 2 1 0.4 1 0.7 1 0.9 1 0.1 1-0.3 1 0.1 1 0.3 1-0.3 1-0.8 1-0.8 1 0.3 1 0.9 1 0.6 1 0.3 1-0.4 1-0.5 1 0.4 1 0.2 1-0.5 1 0.2 1 0.2 1-0.7 1 0 1 0.7 1-0.1 1-0.7 1 0 1 0.7 1 0.6 1-0.1 1 0 1 0.1 1-0.4 1-0.2 1 0.3 1-0.5 1-0.1 1 0.4 1 0.2 1-0.4 1-0.5 1-0.1 1 0.5 1 0.5 1-0.2 1-0.3 1-0.1 1-0.1 1 0 1 0.4 1 0.3 1-0.3 1-0.2 1-0.2 1-0.1 1 0.1 1 0.3 1 0.1 1-0.2 1 0 1 0 1 0 1-0.1 1 0 1 0.2 1 0.4 1 0.1 1-0.1 1-0.4 1 0.1 1 0.1 1-0.6 1-0.2 1 0.7 1 0.4 1-0.3 1 0.2 1 0.3 1-0.5 1 0 1 0.2 1-0.5 1-0.2 1 0.3 1 0.2 1 0.2 1-0.3 1-0.6 1 0.3 1 0.1 1 0 1 0 1-0.6 1-0.2 1 0.6 1 0.1 1-0.4 1-0.2 1 0 1-0.1 1 0.1 1 0 1 0.2 1 0.2 1-0.4 1-0.2 1-0.1 1-0.2 1-0.2 1 0.1 1 0.1 1 0.3 1 0.2 1-1.1 1-1.3 1-1.2 1-1.1 1-1 1-0.9 1-0.8 1-1.1 1-0.5 1 0.5 1 1 1 1.6 1 1.9 1 1.3 1 0.8 1 0.6 1 0 1 0.1 1 0.4 1 0.6 1 0.7 1 0.3 1-0.2 1 0 1 0.6 1 0.1 1-0.5 1-0.1 1 0.2 1-0.1 1-0.1 1 0.1 1 0 1-0.3 1-0.6 1 0.3 1 0.6 1-0.2 1 0.1 1 0.3 1-0.2 1 0 1 0.3 1-0.1 1-0.5 1-0.3 1 0.2 1-0.1 1 0 1 0.5 1 0.4 1 0 1-0.2 1-0.1 1 0.4 1 0.4 1 0.2 1-0.6 1-0.5 1 0.6 1 0.5 1-0.6 1-0.6 1 0.2 1 0.5 1-0.4 1-0.2 1-0.2 1-0.3 1-0.1 1 0.1 1 0.3 1 0.5 1 0 1-0.1 1-0.1 1-0.4 1-0.3 1 0.5 1 0.1 1-0.5 1-0.4 1 0.5 1 0.5 1 0.2 1 0 1 0.1 1 0.3 1-0.1 1-0.8 1-1 1 0.2 1 1.1 1 0.3 1-0.2 1-0.4 1 0 1 0 1 0 1 0.1 1-0.3 1 0 1 0.1 1 0.3 1-0.1 1-0.4 1 0.1 1 0.2 1 0 1-0.3 1-0.2 1 0.4 1 0.3 1-0.3 1-0.3 1-0.5 1-0.6 1 0 1 0 1-0.3 1-0.2 1 0 1 0.3 1-0.2 1-1.1 1-0.7 1 0 1-0.8 1-0.7 1-0.4 1-1 1-1.3 1-1.1 1-1 1-0.9 1-0.7 1-0.4 1-1.2 1-1.7 1-0.9 1-0.3 1-0.2 1-0.6 1-0.5 1 0 1 0.7 1 1.3 1 1 1 0.7 1 0.8 1 0.8 1 1.2 1 1.3 1 1 1 0.9 1 0.9 1 0.8 1 0.9 1 0.7 1 0.5 1 0.4 1 0.1 1 0.2 1 0.7 1 0.6 1 0.4 1 0.2 1-0.1 1 0 1 0.2 1 0.3 1 0.1 1 0 1-0.2 1 0.1 1 0 1-0.4 1 0.4 1 0.7 1-0.1 1-0.1 1-0.4 1-0.3 1 0.5 1 0.5 1-0.1 1 0 1 0 1-0.1 1 0.2 1-0.1 1-0.2 1 0.4 1 0.2 1-0.4 1-0.2 1-0.3 1 0 1 0.1 1-0.1 1 0 1-0.3 1-0.1 1 0.3 1 0.3 1 0.1 1-0.5 1-0.5 1-0.2 1-0.1 1 0.3 1 0 1-0.9 1-0.7 1-0.2 1-0.3 1-0.8 1-0.4 1 0.4 1 0 1-0.6 1-0.3 1 0.2 1-0.4 1-1.4 1-1.1 1 0.4 1 0.2 1-0.4 1-0.8 1-0.5 1-0.1 1-0.5 1-0.5 1-0.5 1-1.1 1-1 1-0.5 1-0.6 1-0.6 1-0.4 1-0.4 1 0.1 1 0.4 1 1.1 1 1.5 1 1.1 1 1.2 1 1.3 1 0.8 1 0.9 1 1.6 1 1.1 1 0.6 1 0.3 1 0.3 1 0.1 1 0.2 1 0.5 1 0.9 1 0.3 1-0.3 1 0.1 1 0.4 1 0.1 1 0.1 1 0.3 1-0.1 1-0.2 1 0.3 1-0.1 1-0.5 1-0.4 1 0.2 1 0.4 1 0 1 0 1 0.3 1 0.2 1-0.2 1-0.2 1 0.2 1 0.1 1 0.1 1 0.7 1 0.4 1-0.2 1-0.5 1-0.4 1 0.2 1 0.4 1 0.3 1-0.2 1-0.6 1 0.1 1 0.5 1-0.1 1 0.4 1 0.3 1-0.3 1-0.3 1-0.4 1-0.5 1 0.3 1 0.6 1-0.2 1-0.4 1 0.4 1 0.4 1 0.1 1-0.2 1-0.7 1-0.3 1 0.3 1 0.6 1 0.3 1-0.3 1 0.1 1 0.1 1-0.2 1 0.1 1 0.2 1 0.4 1-0.1 1-0.8 1 0.1 1 0.3 1-0.2 1-0.1 1-0.4 1-0.1 1 0.5 1-0.4 1-0.8 1-0.3 1-0.5 1-0.4 1 0.1 1-0.2 1-0.5 1-0.2 1 0.1 1 0.2 1 0.2 1 0.3 1 0.9 1 1 1 0.3 1-0.2 1 0 1 0.7 1 0.6 1-0.4 1-0.6 1-0.1 1 0.1 1 0.4 1-0.4 1-0.2 1 0.8 1 0.1 1 0 1 0.2 1-1 1-0.2 1 0.7 1 0.2 1 0.2 1 0.4 1 0 1-0.5 1-0.8 1-0.3 1 0.1 1 0 1 0.2 1 0.2 1 0.3 1 0.2 1-0.4 1-0.4 1 0.2 1 0.1 1 0.1 1 0.4 1 0.3 1-0.7 1-0.8 1 0.3 1 1 1 0.9 1-0.4 1-0.8 1-0.4 1-0.4 1 0.2 1 0.7 1 0 1-0.5 1 0 1 0.5 1 0 1-0.6 1-0.1 1 0.4 1-0.3 1-0.4 1 0.5 1 0.6 1 0 1-0.2 1-0.3 1-0.1 1 0 1 0 1 0.3 1 0 1-0.6 1 0.5 1 0.4 1-0.6 1-0.5 1 0.5 1 0.5 1 0.2 1-0.3 1-0.3 1 0.2 1 0.3 1-0.1 1-0.3 1-0.4 1 0.1 1 0.6 1 0.3 1 0 1-0.1 1 0.1 1 0.4 1 0.2 1-0.8 1 0 1 0.6 1-0.2 1-0.2 1-0.1 1-0.3 1 0 1 0.4 1 0.4 1 0 1 0 1-0.4 1-0.6 1-0.2 1 0 1-0.1 1 0.6 1 0.4 1-0.4 1-0.4 1-0.5 1-0.3 1 0.4 1 0.7 1 0 1 0.1 1 0.3 1-0.1 1-0.2 1-0.2 1-0.3 1-0.2 1-0.6 1-0.2 1 0.9 1 0.5 1-0.2 1-0.2 1-0.2 1 0.2 1 0.3 1-0.3 1-0.1 1 0.4 1 0.4 1 0.3 1 0.1 1-0.6 1-0.1 1-0.1 1-0.6 1-0.1 1 0.5 1-0.4 1-0.3 1-0.1 1-0.3 1-0.3 1-0.3 1-0.7 1-0.5 1 0.3 1 0.1 1-0.5 1-0.4 1 0.2 1 0.3 1-0.3 1-0.4 1 0.2 1 0.4 1 0.3 1 0.4 1 0.6 1-0.1 1 0 1 1 1 0.3 1-0.4 1 0.3 1 1 1 0.2 1-0.5 1-0.1 1-0.1 1 0.1 1 0.4 1-0.3 1-0.4 1 0.1 1 0.3 1 0 1-0.3 1 0 1 0.2 1 0.2 1 0.1 1 0.2 1 0.2 1-0.3 1-0.5 1-0.4 1 0.1 1 0.3 1 0.4 1 0.3 1-0.3 1-0.6 1 0 1 0.3 1 0 1-0.4 1-0.1 1 0.5 1 0.4 1-0.2 1-0.4 1 0.1 1 0.1 1-0.1 1 0.1 1 0.2 1 0.2 1 0.1 1 0.4 1 0.1 1-0.3 1 0 1 0.1 1-0.3 1-0.2 1 0.3 1 0.1 1-0.3 1-0.7 1-0.4 1 0.5 1 0.4 1-0.2 1-0.5 1 0.2 1 0.4 1-0.3 1 0 1 0.1 1-0.4 1-0.2 1-0.1 1-0.5 1-0.3 1-0.5 1-0.5 1 0.3 1 0.3 1-0.5 1-0.3 1 0.2 1 0.3 1 0.3 1 0.3 1 0.5 1 0.6 1 0.1 1 0.1 1 0 1 0 1 0.2 1 0 1 0 1 0.7 1 0.6 1 0.1 1-0.5 1-0.1 1 0 1-0.3 1-0.3 1-0.1 1 0.3 1 0.2 1 0.1 1 0.2 1 0 1 0 1 0 1-0.6 1-0.6 1 0.4 1 0.4 1-0.1 1-0.1 1 0 1 0.4 1 0.4 1-0.2 1-0.3 1-0.1 1-0.3 1 0.1 1 0.3 1-0.1 1 0 1 0.3 1 0.2 1-0.4 1-0.3 1-0.2 1-0.1 1 0.1 1-0.2 1 0.4 1 0.7 1-0.5 1-0.8 1 0.5 1 0.9 1 0.1 1 0 1-0.8 1-0.6 1 0.5 1 0.4 1-0.1 1-0.4 1-0.2 1 0.1 1 0.3 1 0.6 1 0.2 1-0.2 1-0.1 1-0.4 1-0.3 1 0.1 1 0.4 1 0.2 1 0.3 1 0.2 1-0.3 1-0.5 1-0.1 1 0.4 1 0.3 1 0 1-0.5 1-0.7 1 0.1 1 0.8 1 0.3 1-0.6 1-0.3 1 0.1 1-0.1 1-0.3 1-0.2 1-0.3 1-0.3 1-0.1 1 0 1-0.5 1-0.4 1-0.3 1-0.4 1-0.3 1 0.2 1 0.5 1 0.4 1-0.2 1 0.1 1 0.6 1 0.1 1 0.1 1 0.8 1 0.4 1-0.2 1 0 1 0.1 1 0.1 1 0.1 1-0.1 1 0.1 1-0.1 1-0.3 1 0 1 0.1 1 0.2 1 0.1 1 0.2 1 0 1-0.1 1-0.1 1 0 1 0.4 1 0.3 1-0.4 1-0.2 1 0.4 1 0.1 1-0.1 1 0 1-0.2 1-0.4 1 0 1 0.9 1 0.4 1-0.4 1 0.2 1 0.1 1-0.4 1-0.1 1-0.1 1-0.2 1-0.2 1 0 1-0.1 1 0.3 1 0.4 1 0 1-0.4 1 0 1-0.2 1-0.1 1 0.4 1 0.1 1-0.2 1-0.6 1 0.2 1 0.8 1 0.2 1-0.2 1 0.2 1 0.3 1-0.3 1-0.4 1-0.4 1 0.2 1 0.7 1-0.1 1-1 1 0.2 1 0.6 1 0.1 1-0.5 1-0.5 1 0.1 1 0.2 1-0.2 1-0.3 1 0.3 1 0.1 1-0.7 1-0.4 1 0 1 0.2 1 0.5 1-0.1 1-0.6 1-0.2 1-0.1 1 0.2 1 0.4 1 0.6 1-0.2 1-0.6 1-0.3 1 0.8 1 0.9 1-0.5 1-0.5 1 0.3 1 0.5 1 0.2 1 0.2 1 0.3 1 0 1 0 1 0.2 1-0.2 1-0.1 1-0.1 1-0.3 1 0 1 0.2 1-0.2 1 0 1 0.6 1 0.1 1-0.4 1-0.1 1 0.5 1-0.2 1-0.4 1-0.1 1-0.1 1 0.5 1 0.3 1-0.2 1 0.1 1-0.4 1-0.2 1 0.9 1 0.2 1-0.5 1-0.2 1-0.3 1-0.2 1 0.1 1 0.1 1 0 1 0 1 0.1 1 0 1 0 1-0.2 1-0.2 1 0.1 1 0.5 1 0.1 1-0.3 1-0.2 1-0.1 1 0.1 1-0.1 1-0.5 1 0 1 0.8 1 0.2 1-0.1 1 0.3 1 0.1 1 0.1 1 0.2 1-0.4 1-0.5 1-0.4 1 0 1 0.5 1 0.2 1-0.1 1-0.1 1 0.2 1-0.2 1-0.3 1 0.2 1 0.1 1 0.2 1 0 1-0.3 1 0.3 1 0 1 0 1 0.1 1-0.7 1-0.3 1 0.6 1 0.3 1-0.1 1-0.3 1-0.3 1 0.5 1 0.1 1-0.6 1 0 1 0.6 1 0.1 1-0.3 1 0.1 1 0.3 1 0 1-0.2 1 0.2 1 0 1-0.1 1 0 1-0.4 1-0.6 1 0.3 1 0.4 1 0 1 0.2 1 0.1 1 0 1-0.2 1 0.1 1 0.3 1 0 1-0.2 1 0.3 1 0 1-0.4 1 0 1 0 1 0.1 1 0.2 1 0.2 1-0.4 1-0.1 1 0.3 1-0.2 1 0 1 0.5 1 0.3 1-0.6 1-0.7 1 0.3 1 0.5 1 0.3 1 0.1 1 0 1 0 1 0.1 1-0.6 1-0.6 1-0.2 1 0.4 1 0.5 1 0.2 1 0.1 1-0.4 1 0 1 0.3 1 0 1-0.4 1-0.8 1-0.1 1 0.3 1 0.2 1 0.3 1 0.2 1-0.2 1-0.3 1-0.2 1 0.5 1 0.5 1-0.1 1-0.2 1-0.5 1-0.2 1 0.5 1 0.1 1-0.5 1 0.1 1 0.4 1-0.1 1 0 1 0.3 1 0 1-0.2 1-0.1 1 0 1 0.2 1-0.3 1-0.7 1 0.5 1 0.5 1-0.2 1 0 1 0 1 0.5 1 0.2 1 0 1 0.1 1-0.8 1-0.8 1 0.3 1 0.6 1 0.1 1 0 1 0 1 0.1 1 0.3 1-0.2 1 0 1 0.1 1-0.9 1-0.5 1 0 1 0 1 0.7 1 0.6 1 0.2 1-0.7 1-0.3 1 0.6 1 0.3 1-0.2 1-0.4 1 0 1 0.2 1 0.1 1 0.3 1 0 1-0.2 1-0.4 1-0.1 1 0.8 1 0.3 1-0.5 1-0.3 1 0.1 1 0 1-0.2 1 0 1 0.4 1-0.1 1-0.7 1-0.1 1 0.1 1 0 1 0 1-0.3 1 0.5 1 0.7 1 0.2 1-0.1 1-0.1 1 0 1-0.1 1 0.1 1 0.3 1 0.2 1 0 1-0.6 1-0.5 1 0.2 1 0.1 1-0.3 1-0.1 1 0.5 1 0 1-0.4 1-0.3 1 0 1 0.3 1 0.6 1 0.3 1-0.6 1-0.6 1 0.5 1 0.1 1-0.5 1-0.2 1 0.6 1 0.4 1 0.2 1 0.1 1-0.4 1-0.4 1 0 1 0.4 1 0.1 1-0.5 1-0.9 1 0.1 1 0.9 1 0.2 1-0.3 1 0.1 1 0.1 1-0.2 1-0.2 1-0.1 1 0.2 1 0.1 1-0.5 1-0.4 1 0.1 1 0.6 1 1 1 0.3 1-0.6 1-0.2 1 0.4 1-0.2 1-0.1 1-0.3 1-0.6 1 0.2 1 0.1 1-0.2 1 0.1 1 0.2 1 0 1 0.4 1 0.4 1-0.5 1-0.3 1-0.2 1 0 1 0.6 1 0.3 1-0.5 1-0.1 1 0 1 0 1-0.1 1-0.1 1 0.4 1 0.3 1 0.2 1-0.1 1-0.7 1-0.6 1 0.2 1 0.5 1 0.1 1 0 1-0.1 1 0.3 1 0.1 1-0.3 1-0.3 1 0.1 1 0.3 1-0.1 1-0.3 1-0.1 1 0.3 1 0.6 1-0.1 1-0.6 1-0.2 1-0.1 1-0.2 1-0.3 1 0.7 1 0.4 1-0.6 1-0.1 1 0.2 1-0.2 1 0 1 0.1 1-0.1 1 0.3 1 0.2 1-0.4 1-0.6 1-0.8 1-0.5 1 0 1 0.7 1 0.2 1-0.7 1 0.1 1-0.2 1-0.3 1 0.5 1 0.7 1 0.4 1 0.1 1 0.5 1 0.6 1-0.2 1-0.5 1 0.5 1 0.9 1 0.3 1-0.4 1-0.2 1 0.3 1 0.2 1-0.2 1-0.4 1-0.6 1-0.3 1-0.2 1 0.2 1 0.7 1 0.5 1 0 1 0.1 1-0.1 1-0.7 1 0.1 1 0.6 1-0.2 1-0.1 1 0 1-0.5 1-0.2 1 0.5 1 0.3 1-0.6 1 0.2 1 0.8 1-0.3 1-0.8 1-0.3 1 0.4 1 0.4 1 0 1-0.4 1 0 1 0.3 1 0 1 0.3 1-0.1 1-0.2 1 0.1 1 0.2 1 0 1-0.1 1-0.1 1-0.2 1 0 1 0.5 1 0.2 1-0.2 1 0.2 1-0.4 1-0.4 1 0.1 1 0 1 0 1-0.3 1 0 1 0.6 1 0 1-0.2 1-0.1 1-0.3 1 0.2 1 0.7 1 0.2 1-0.2 1-0.5 1-0.5 1 0.3 1 0.8 1-0.2 1-0.3 1 0.7 1 0.4 1-1 1-0.6 1 0.5 1 0.2 1-0.1 1 0.6 1-0.1 1-0.9 1-0.3 1 0.6 1 0.2 1-0.7 1-0.1 1 0.1 1 0 1 0.3 1 0.2 1-0.1 1 0.1 1 0 1-0.5 1-0.1 1 0.4 1 0.2 1-0.1 1 0.4 1 0.2 1-0.5 1-0.4 1 0.3 1 0.5 1 0 1-0.4 1 0 1 0.3 1 0.2 1-0.3 1-0.5 1 0.2 1 0.2 1-0.2 1-0.2 1 0.2 1 0.5 1 0.1 1-0.1 1 0.5 1-0.3 1-0.5 1-0.1 1 0.1 1 0.1 1-0.2 1-0.4 1-0.1 1-0.4 1-0.4 1 0.5 1 0.6 1 0.1 1 0 1 0 1 0 1 0.3 1-0.1 1-0.5 1-0.1 1 0.6 1 0.5 1-0.3 1-0.4 1-0.1 1 0 1 0.1 1 0.6 1 0.4 1-0.7 1-1 1 0.2 1 0.7 1 0 1 0.5 1 0 1-0.4 1 0.1 1 0.2 1 0 1-0.3 1-0.2" stroke="#8C4E50"/></g>
<rect x="162.9" y="32.2" width="1686.9" height="1284.1" fill="none" stroke="#000" stroke-width="8.4"/>
<g fill="#000"><rect x="495.7" y="1290" width="8" height="24"/><rect x="832.8" y="1290" width="8" height="24"/><rect x="1169.8" y="1290" width="8" height="24"/><rect x="1506.9" y="1290" width="8" height="24"/></g>
<g fill="#000"><circle cx="303.8" cy="52.4" r="7.8"/><circle cx="295.4" cy="69.0" r="8.4"/><circle cx="314.0" cy="69.0" r="8.4"/><path d="M301.2 55.0L306.4 55.0L307.6 80.6L301.2 80.6Z"/><path d="M358.7 295 C352.7 305 342.0 311 342.0 320 C342.0 328 352.7 331 358.7 324 C364.7 331 375.4 328 375.4 320 C375.4 311 364.7 305 358.7 295Z"/><path d="M356.9 319.0L360.5 319.0L362.7 331.6L354.3 331.6Z"/><circle cx="493.7" cy="455.5" r="12"/><circle cx="628.3" cy="446.0" r="12"/><circle cx="728.7" cy="446.0" r="12"/><path d="M827.6 223.2L842.6 242.5L827.6 261.8L812.6 242.5Z"/><path d="M1284.0 414.5L1298.7 433.0L1284.0 451.5L1269.3 433.0Z"/><path d="M1671.0 393.2L1686.0 411.5L1671.0 429.8L1656.0 411.5Z"/></g>
<g class="lg"><line x1="1154.0" y1="243.8" x2="1283.0" y2="243.8" stroke="#8C4E50"/><line x1="1154.0" y1="318.9" x2="1283.0" y2="318.9" stroke="#00CCD0"/><line x1="1150.5" y1="552.8" x2="1281.5" y2="552.8" stroke="#DA9800"/><line x1="1150.5" y1="627.5" x2="1281.5" y2="627.5" stroke="#C074E0"/><line x1="1150.5" y1="811.0" x2="1281.5" y2="811.0" stroke="#00AC64"/><line x1="1150.5" y1="886.6" x2="1281.5" y2="886.6" stroke="#0068D2"/><line x1="1152.5" y1="1071.3" x2="1281.5" y2="1071.3" stroke="#FC3C3C"/><line x1="1152.5" y1="1147.0" x2="1281.5" y2="1147.0" stroke="#505050"/></g>
<text id="lg1" x="1297.73" y="264.70" style="font-family:'Liberation Serif','Times New Roman',serif;font-weight:bold;font-size:61px" textLength="398.63" lengthAdjust="spacingAndGlyphs">500N-Corrosion</text>
<text id="lg2" x="1298.91" y="340.20" style="font-family:'Liberation Serif','Times New Roman',serif;font-weight:bold;font-size:61px" textLength="128.22" lengthAdjust="spacingAndGlyphs">500N</text>
<text id="lg3" x="1295.83" y="573.40" style="font-family:'Liberation Serif','Times New Roman',serif;font-weight:bold;font-size:61px" textLength="396.82" lengthAdjust="spacingAndGlyphs">400N-Corrosion</text>
<text id="lg4" x="1295.84" y="648.50" style="font-family:'Liberation Serif','Times New Roman',serif;font-weight:bold;font-size:61px" textLength="126.05" lengthAdjust="spacingAndGlyphs">400N</text>
<text id="lg5" x="1296.52" y="832.30" style="font-family:'Liberation Serif','Times New Roman',serif;font-weight:bold;font-size:61px" textLength="396.81" lengthAdjust="spacingAndGlyphs">200N-Corrosion</text>
<text id="lg6" x="1296.60" y="907.50" style="font-family:'Liberation Serif','Times New Roman',serif;font-weight:bold;font-size:61px" textLength="124.04" lengthAdjust="spacingAndGlyphs">200N</text>
<text id="lg7" x="1300.47" y="1091.90" style="font-family:'Liberation Serif','Times New Roman',serif;font-weight:bold;font-size:61px" textLength="518.90" lengthAdjust="spacingAndGlyphs">Untreated-Corrosion</text>
<text id="lg8" x="1300.48" y="1168.00" style="font-family:'Liberation Serif','Times New Roman',serif;font-weight:bold;font-size:61px" textLength="246.52" lengthAdjust="spacingAndGlyphs">Untreated</text>
<text id="tk15" x="108.33" y="1427.00" style="font-family:'Liberation Serif','Times New Roman',serif;font-weight:bold;font-size:108px" textLength="106.31" lengthAdjust="spacingAndGlyphs">15</text>
<text id="tk30" x="445.02" y="1427.00" style="font-family:'Liberation Serif','Times New Roman',serif;font-weight:bold;font-size:108px" textLength="107.35" lengthAdjust="spacingAndGlyphs">30</text>
<text id="tk45" x="784.05" y="1427.00" style="font-family:'Liberation Serif','Times New Roman',serif;font-weight:bold;font-size:108px" textLength="104.33" lengthAdjust="spacingAndGlyphs">45</text>
<text id="tk60" x="1122.27" y="1427.00" style="font-family:'Liberation Serif','Times New Roman',serif;font-weight:bold;font-size:108px" textLength="105.73" lengthAdjust="spacingAndGlyphs">60</text>
<text id="tk75" x="1457.06" y="1427.00" style="font-family:'Liberation Serif','Times New Roman',serif;font-weight:bold;font-size:108px" textLength="106.90" lengthAdjust="spacingAndGlyphs">75</text>
<text id="tk90" x="1795.06" y="1427.00" style="font-family:'Liberation Serif','Times New Roman',serif;font-weight:bold;font-size:108px" textLength="105.86" lengthAdjust="spacingAndGlyphs">90</text>
<text id="xt1" x="885.58" y="1536.50" style="font-family:'Liberation Serif','Times New Roman',serif;font-weight:bold;font-size:111px" textLength="109.09" lengthAdjust="spacingAndGlyphs">2θ</text>
<text id="xt2" x="1020.84" y="1535.00" style="font-family:'Liberation Serif','Times New Roman',serif;font-weight:normal;font-size:104.5px" textLength="37.65" lengthAdjust="spacingAndGlyphs">(</text>
<text id="xt3" x="1056.93" y="1494.00" style="font-family:'Liberation Serif','Times New Roman',serif;font-weight:bold;font-size:64px" textLength="33.14" lengthAdjust="spacingAndGlyphs">o</text>
<text id="xt4" x="1085.79" y="1535.00" style="font-family:'Liberation Serif','Times New Roman',serif;font-weight:normal;font-size:104.5px" textLength="40.44" lengthAdjust="spacingAndGlyphs">)</text>
<text id="yt1" transform="translate(106.00 1012.87) rotate(-90)" x="0" y="0" style="font-family:'Liberation Serif','Times New Roman',serif;font-weight:bold;font-size:106px" textLength="409.90" lengthAdjust="spacingAndGlyphs">Intensity</text>
<text id="yt2" transform="translate(104.00 575.72) rotate(-90)" x="0" y="0" style="font-family:'Liberation Serif','Times New Roman',serif;font-weight:normal;font-size:100px" textLength="39.33" lengthAdjust="spacingAndGlyphs">(</text>
<text id="yt3" transform="translate(106.00 537.64) rotate(-90)" x="0" y="0" style="font-family:'Liberation Serif','Times New Roman',serif;font-weight:bold;font-size:106px" textLength="167.05" lengthAdjust="spacingAndGlyphs">a.u.</text>
<text id="yt4" transform="translate(104.00 372.54) rotate(-90)" x="0" y="0" style="font-family:'Liberation Serif','Times New Roman',serif;font-weight:normal;font-size:100px" textLength="38.44" lengthAdjust="spacingAndGlyphs">)</text>
<text id="p1s" x="777.51" y="112.40" style="font-family:'DejaVu Sans',sans-serif;font-weight:normal;font-size:47px" textLength="44.51" lengthAdjust="spacingAndGlyphs">♣</text>
<text id="p1a" x="821.75" y="112.30" style="font-family:'Liberation Serif','Times New Roman',serif;font-weight:bold;font-size:62.5px" textLength="123.68" lengthAdjust="spacingAndGlyphs">-FeO</text>
<text id="p1b" x="945.97" y="112.00" style="font-family:'Liberation Serif','Times New Roman',serif;font-weight:normal;font-size:58px" textLength="22.29" lengthAdjust="spacingAndGlyphs">(</text>
<text id="p1c" x="966.24" y="112.30" style="font-family:'Liberation Serif','Times New Roman',serif;font-weight:bold;font-size:62.5px" textLength="89.50" lengthAdjust="spacingAndGlyphs">OH</text>
<text id="p1d" x="1054.72" y="112.00" style="font-family:'Liberation Serif','Times New Roman',serif;font-weight:normal;font-size:58px" textLength="22.03" lengthAdjust="spacingAndGlyphs">)</text>
<text id="p2s" x="1117.78" y="112.10" style="font-family:'DejaVu Sans',sans-serif;font-weight:normal;font-size:46px" textLength="48.43" lengthAdjust="spacingAndGlyphs">♠</text>
<text id="p2a" x="1162.72" y="112.30" style="font-family:'Liberation Serif','Times New Roman',serif;font-weight:bold;font-size:62.5px" textLength="80.78" lengthAdjust="spacingAndGlyphs">-Fe</text>
<text id="p2b" x="1244.04" y="129.50" style="font-family:'Liberation Serif','Times New Roman',serif;font-weight:bold;font-size:61px" textLength="27.69" lengthAdjust="spacingAndGlyphs">2</text>
<text id="p2c" x="1272.54" y="112.30" style="font-family:'Liberation Serif','Times New Roman',serif;font-weight:bold;font-size:62.5px" textLength="46.54" lengthAdjust="spacingAndGlyphs">O</text>
<text id="p2d" x="1318.25" y="129.50" style="font-family:'Liberation Serif','Times New Roman',serif;font-weight:bold;font-size:61px" textLength="26.75" lengthAdjust="spacingAndGlyphs">3</text>
<text id="p3s" x="1383.67" y="123.20" style="font-family:'DejaVu Sans',sans-serif;font-weight:normal;font-size:76px" textLength="43.81" lengthAdjust="spacingAndGlyphs">•</text>
<text id="p3a" x="1419.13" y="112.30" style="font-family:'Liberation Serif','Times New Roman',serif;font-weight:bold;font-size:62.5px" textLength="81.30" lengthAdjust="spacingAndGlyphs">-Fe</text>
<text id="p3b" x="1498.55" y="129.50" style="font-family:'Liberation Serif','Times New Roman',serif;font-weight:bold;font-size:61px" textLength="28.86" lengthAdjust="spacingAndGlyphs">3</text>
<text id="p3c" x="1527.05" y="112.30" style="font-family:'Liberation Serif','Times New Roman',serif;font-weight:bold;font-size:62.5px" textLength="47.93" lengthAdjust="spacingAndGlyphs">O</text>
<text id="p3d" x="1573.64" y="129.50" style="font-family:'Liberation Serif','Times New Roman',serif;font-weight:bold;font-size:61px" textLength="28.92" lengthAdjust="spacingAndGlyphs">4</text>
<text id="p4s" x="1648.12" y="112.60" style="font-family:'DejaVu Sans',sans-serif;font-weight:normal;font-size:50px" textLength="44.19" lengthAdjust="spacingAndGlyphs">♦</text>
<text id="p4a" x="1689.78" y="112.30" style="font-family:'Liberation Serif','Times New Roman',serif;font-weight:bold;font-size:62.5px" textLength="21.07" lengthAdjust="spacingAndGlyphs">-</text>
<text id="p4b" x="1710.01" y="112.60" style="font-family:'Liberation Serif','Times New Roman',serif;font-weight:normal;font-size:62.5px" textLength="38.28" lengthAdjust="spacingAndGlyphs">α</text>
<text id="p4c" x="1747.52" y="112.30" style="font-family:'Liberation Serif','Times New Roman',serif;font-weight:bold;font-size:62.5px" textLength="81.09" lengthAdjust="spacingAndGlyphs">-Fe</text>
</svg>
</body></html>
